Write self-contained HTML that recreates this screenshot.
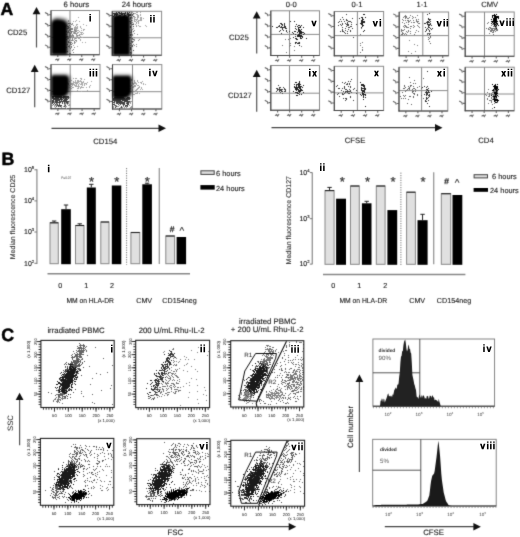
<!DOCTYPE html>
<html><head><meta charset="utf-8"><style>
html,body{margin:0;padding:0;background:#fff;overflow:hidden;}
svg{display:block;font-family:"Liberation Sans", sans-serif;}
</style></head><body>
<svg width="520" height="537" viewBox="0 0 520 537" text-rendering="geometricPrecision">
<defs><filter id="hb" x="-0.3" y="-0.3" width="1.6" height="1.6"><feGaussianBlur stdDeviation="1.5"/></filter><filter id="cb" x="-0.2" y="-0.2" width="1.4" height="1.4"><feGaussianBlur stdDeviation="0.9"/></filter><filter id="s" x="-10" y="-10" width="540" height="557" filterUnits="userSpaceOnUse" primitiveUnits="userSpaceOnUse" color-interpolation-filters="sRGB"><feConvolveMatrix order="3" kernelMatrix="0.0225 0.15 0.0225 0.15 1 0.15 0.0225 0.15 0.0225" edgeMode="duplicate" preserveAlpha="true"/></filter></defs>
<rect width="520" height="537" fill="#fff"/>
<g filter="url(#s)">
<rect x="-10" y="-10" width="540" height="557" fill="#fff"/>
<text x="0.5" y="15.0" font-size="17.6" text-anchor="start" font-weight="bold" fill="#000" stroke="#000" stroke-width="0.5">A</text>
<path d="M45 12.399000000000001 l2.7 1.5 l0.4 2 M48.7 14.699000000000002 h2.3" stroke="#666" stroke-width="1.1" fill="none"/>
<path d="M45 23.227999999999998 l2.7 1.5 l0.4 2 M48.7 25.528 h2.3" stroke="#666" stroke-width="1.1" fill="none"/>
<path d="M45 34.057 l2.7 1.5 l0.4 2 M48.7 36.357 h2.3" stroke="#666" stroke-width="1.1" fill="none"/>
<path d="M45 44.886 l2.7 1.5 l0.4 2 M48.7 47.186 h2.3" stroke="#666" stroke-width="1.1" fill="none"/>
<path d="M55.19 60.1 l1.7 -1 l1 1.4 l1.3 -2 M57.79 54.7 v2.2" stroke="#666" stroke-width="1.1" fill="none"/>
<path d="M67.1695 60.1 l1.7 -1 l1 1.4 l1.3 -2 M69.7695 54.7 v2.2" stroke="#666" stroke-width="1.1" fill="none"/>
<path d="M79.149 60.1 l1.7 -1 l1 1.4 l1.3 -2 M81.749 54.7 v2.2" stroke="#666" stroke-width="1.1" fill="none"/>
<path d="M91.1285 60.1 l1.7 -1 l1 1.4 l1.3 -2 M93.7285 54.7 v2.2" stroke="#666" stroke-width="1.1" fill="none"/>
<rect x="51" y="10.5" width="48.5" height="44.2" fill="none" stroke="#8a8a8a" stroke-width="1"/>
<line x1="70" y1="10.5" x2="70" y2="54.7" stroke="#8a8a8a" stroke-width="1"/>
<line x1="51" y1="37.4" x2="99.5" y2="37.4" stroke="#8a8a8a" stroke-width="1"/>
<line x1="51" y1="10.5" x2="51" y2="55.2" stroke="#444" stroke-width="1.1"/>
<line x1="50.5" y1="54.7" x2="99.5" y2="54.7" stroke="#444" stroke-width="1.1"/>
<path d="M106.3 13.1705 l2.7 1.5 l0.4 2 M110.0 15.470500000000001 h2.3" stroke="#666" stroke-width="1.1" fill="none"/>
<path d="M106.3 23.926 l2.7 1.5 l0.4 2 M110.0 26.226 h2.3" stroke="#666" stroke-width="1.1" fill="none"/>
<path d="M106.3 34.68150000000001 l2.7 1.5 l0.4 2 M110.0 36.981500000000004 h2.3" stroke="#666" stroke-width="1.1" fill="none"/>
<path d="M106.3 45.43700000000001 l2.7 1.5 l0.4 2 M110.0 47.73700000000001 h2.3" stroke="#666" stroke-width="1.1" fill="none"/>
<path d="M116.602 60.6 l1.7 -1 l1 1.4 l1.3 -2 M119.202 55.2 v2.2" stroke="#666" stroke-width="1.1" fill="none"/>
<path d="M128.7791 60.6 l1.7 -1 l1 1.4 l1.3 -2 M131.3791 55.2 v2.2" stroke="#666" stroke-width="1.1" fill="none"/>
<path d="M140.9562 60.6 l1.7 -1 l1 1.4 l1.3 -2 M143.5562 55.2 v2.2" stroke="#666" stroke-width="1.1" fill="none"/>
<path d="M153.1333 60.6 l1.7 -1 l1 1.4 l1.3 -2 M155.73329999999999 55.2 v2.2" stroke="#666" stroke-width="1.1" fill="none"/>
<rect x="112.3" y="11.3" width="49.3" height="43.900000000000006" fill="none" stroke="#8a8a8a" stroke-width="1"/>
<line x1="131.4" y1="11.3" x2="131.4" y2="55.2" stroke="#8a8a8a" stroke-width="1"/>
<line x1="112.3" y1="37.8" x2="161.6" y2="37.8" stroke="#8a8a8a" stroke-width="1"/>
<line x1="112.3" y1="11.3" x2="112.3" y2="55.7" stroke="#444" stroke-width="1.1"/>
<line x1="111.8" y1="55.2" x2="161.6" y2="55.2" stroke="#444" stroke-width="1.1"/>
<path d="M45 66.4085 l2.7 1.5 l0.4 2 M48.7 68.7085 h2.3" stroke="#666" stroke-width="1.1" fill="none"/>
<path d="M45 77.262 l2.7 1.5 l0.4 2 M48.7 79.562 h2.3" stroke="#666" stroke-width="1.1" fill="none"/>
<path d="M45 88.1155 l2.7 1.5 l0.4 2 M48.7 90.4155 h2.3" stroke="#666" stroke-width="1.1" fill="none"/>
<path d="M45 98.96900000000001 l2.7 1.5 l0.4 2 M48.7 101.269 h2.3" stroke="#666" stroke-width="1.1" fill="none"/>
<path d="M55.26 114.2 l1.7 -1 l1 1.4 l1.3 -2 M57.86 108.8 v2.2" stroke="#666" stroke-width="1.1" fill="none"/>
<path d="M67.363 114.2 l1.7 -1 l1 1.4 l1.3 -2 M69.963 108.8 v2.2" stroke="#666" stroke-width="1.1" fill="none"/>
<path d="M79.46600000000001 114.2 l1.7 -1 l1 1.4 l1.3 -2 M82.066 108.8 v2.2" stroke="#666" stroke-width="1.1" fill="none"/>
<path d="M91.569 114.2 l1.7 -1 l1 1.4 l1.3 -2 M94.169 108.8 v2.2" stroke="#666" stroke-width="1.1" fill="none"/>
<rect x="51" y="64.5" width="49" height="44.3" fill="none" stroke="#8a8a8a" stroke-width="1"/>
<line x1="70.2" y1="64.5" x2="70.2" y2="108.8" stroke="#8a8a8a" stroke-width="1"/>
<line x1="51" y1="91.4" x2="100" y2="91.4" stroke="#8a8a8a" stroke-width="1"/>
<line x1="51" y1="64.5" x2="51" y2="109.3" stroke="#444" stroke-width="1.1"/>
<line x1="50.5" y1="108.8" x2="100" y2="108.8" stroke="#444" stroke-width="1.1"/>
<path d="M106.5 66.518 l2.7 1.5 l0.4 2 M110.2 68.818 h2.3" stroke="#666" stroke-width="1.1" fill="none"/>
<path d="M106.5 77.396 l2.7 1.5 l0.4 2 M110.2 79.696 h2.3" stroke="#666" stroke-width="1.1" fill="none"/>
<path d="M106.5 88.274 l2.7 1.5 l0.4 2 M110.2 90.574 h2.3" stroke="#666" stroke-width="1.1" fill="none"/>
<path d="M106.5 99.152 l2.7 1.5 l0.4 2 M110.2 101.452 h2.3" stroke="#666" stroke-width="1.1" fill="none"/>
<path d="M116.802 114.4 l1.7 -1 l1 1.4 l1.3 -2 M119.402 109 v2.2" stroke="#666" stroke-width="1.1" fill="none"/>
<path d="M128.97910000000002 114.4 l1.7 -1 l1 1.4 l1.3 -2 M131.5791 109 v2.2" stroke="#666" stroke-width="1.1" fill="none"/>
<path d="M141.1562 114.4 l1.7 -1 l1 1.4 l1.3 -2 M143.7562 109 v2.2" stroke="#666" stroke-width="1.1" fill="none"/>
<path d="M153.3333 114.4 l1.7 -1 l1 1.4 l1.3 -2 M155.9333 109 v2.2" stroke="#666" stroke-width="1.1" fill="none"/>
<rect x="112.5" y="64.6" width="49.30000000000001" height="44.400000000000006" fill="none" stroke="#8a8a8a" stroke-width="1"/>
<line x1="132.5" y1="64.6" x2="132.5" y2="109" stroke="#8a8a8a" stroke-width="1"/>
<line x1="112.5" y1="91.7" x2="161.8" y2="91.7" stroke="#8a8a8a" stroke-width="1"/>
<line x1="112.5" y1="64.6" x2="112.5" y2="109.5" stroke="#444" stroke-width="1.1"/>
<line x1="112.0" y1="109" x2="161.8" y2="109" stroke="#444" stroke-width="1.1"/>
<path fill="#aaa" d="M76 35h1v1h-1zM75 28h1v1h-1zM74 27h1v1h-1zM76 41h1v1h-1zM74 29h1v1h-1zM78 35h1v1h-1zM77 27h1v1h-1zM76 37h1v1h-1zM69 30h1v1h-1zM66 25h1v1h-1zM67 32h1v1h-1zM70 35h1v1h-1zM77 32h1v1h-1zM63 30h1v1h-1zM76 34h1v1h-1zM68 30h1v1h-1zM71 28h1v1h-1zM81 28h1v1h-1zM76 38h1v1h-1zM73 32h1v1h-1zM77 33h1v1h-1zM70 33h1v1h-1zM83 24h1v1h-1zM80 34h1v1h-1zM73 45h1v1h-1zM80 26h1v1h-1zM76 36h1v1h-1zM75 37h1v1h-1zM83 29h1v1h-1zM77 30h1v1h-1zM77 26h1v1h-1zM80 40h1v1h-1zM69 28h1v1h-1zM79 21h1v1h-1zM74 32h1v1h-1zM82 37h1v1h-1zM74 31h1v1h-1zM75 42h1v1h-1zM78 32h1v1h-1zM75 26h1v1h-1zM76 30h1v1h-1zM74 39h1v1h-1zM68 21h1v1h-1zM74 28h1v1h-1zM77 46h1v1h-1zM72 29h1v1h-1zM77 36h1v1h-1zM75 32h1v1h-1zM80 36h1v1h-1zM71 33h1v1h-1zM76 27h1v1h-1zM77 28h1v1h-1zM81 34h1v1h-1zM76 29h1v1h-1zM75 21h1v1h-1zM65 38h1v1h-1zM67 38h1v1h-1zM72 38h1v1h-1zM77 24h1v1h-1zM82 42h1v1h-1zM76 31h1v1h-1zM75 27h1v1h-1zM81 30h1v1h-1zM76 28h1v1h-1zM73 25h1v1h-1zM82 32h1v1h-1zM81 33h1v1h-1zM73 31h1v1h-1zM73 33h1v1h-1zM84 29h1v1h-1zM71 35h1v1h-1zM75 29h1v1h-1zM67 37h1v1h-1zM76 33h1v1h-1zM72 36h1v1h-1zM70 26h1v1h-1zM83 30h1v1h-1zM74 30h1v1h-1zM79 31h1v1h-1zM75 33h1v1h-1zM78 30h1v1h-1zM69 39h1v1h-1zM81 32h1v1h-1zM79 38h1v1h-1zM80 39h1v1h-1zM74 42h1v1h-1zM70 38h1v1h-1zM78 38h1v1h-1zM85 42h1v1h-1zM70 23h1v1h-1zM80 27h1v1h-1zM68 20h1v1h-1zM72 24h1v1h-1zM68 36h1v1h-1zM71 29h1v1h-1zM86 25h1v1h-1zM80 32h1v1h-1zM76 24h1v1h-1zM74 37h1v1h-1zM75 40h1v1h-1zM76 20h1v1h-1zM73 21h1v1h-1zM60 30h1v1h-1zM83 33h1v1h-1zM70 27h1v1h-1zM82 34h1v1h-1zM79 34h1v1h-1zM71 36h1v1h-1zM73 40h1v1h-1zM70 32h1v1h-1zM76 25h1v1h-1zM74 38h1v1h-1zM78 17h1v1h-1z"/>
<path fill="#888" d="M71 28h1v1h-1zM70 35h1v1h-1zM75 38h1v1h-1zM71 47h1v1h-1zM69 33h1v1h-1zM66 47h1v1h-1zM74 42h1v1h-1zM73 37h1v1h-1zM72 34h1v1h-1zM70 36h1v1h-1zM76 40h1v1h-1zM71 32h1v1h-1zM69 47h1v1h-1zM73 36h1v1h-1zM70 28h1v1h-1zM71 42h1v1h-1zM70 34h1v1h-1zM70 37h1v1h-1zM66 34h1v1h-1zM68 42h1v1h-1zM69 40h1v1h-1zM76 34h1v1h-1zM69 37h1v1h-1zM71 29h1v1h-1zM72 50h1v1h-1zM68 38h1v1h-1zM67 28h1v1h-1zM75 30h1v1h-1zM74 47h1v1h-1zM72 40h1v1h-1zM77 35h1v1h-1zM69 27h1v1h-1zM71 46h1v1h-1zM74 29h1v1h-1zM68 32h1v1h-1zM72 35h1v1h-1zM72 38h1v1h-1zM73 49h1v1h-1zM66 39h1v1h-1zM65 26h1v1h-1zM74 41h1v1h-1zM71 24h1v1h-1zM70 31h1v1h-1zM73 52h1v1h-1zM72 31h1v1h-1zM67 36h1v1h-1zM74 43h1v1h-1zM74 33h1v1h-1zM73 35h1v1h-1zM67 26h1v1h-1zM72 43h1v1h-1zM66 31h1v1h-1zM72 39h1v1h-1zM70 43h1v1h-1zM72 28h1v1h-1zM72 23h1v1h-1zM75 40h1v1h-1zM75 33h1v1h-1zM79 35h1v1h-1zM76 31h1v1h-1zM67 44h1v1h-1zM72 29h1v1h-1zM69 34h1v1h-1zM68 27h1v1h-1zM66 36h1v1h-1zM69 29h1v1h-1zM74 32h1v1h-1zM75 31h1v1h-1zM71 40h1v1h-1zM71 36h1v1h-1zM74 30h1v1h-1z"/>
<path fill="#777" d="M70 23h1v1h-1zM69 45h1v1h-1zM70 48h1v1h-1zM67 36h1v1h-1zM69 23h1v1h-1zM70 44h1v1h-1zM69 29h1v1h-1zM69 42h1v1h-1zM70 33h1v1h-1zM70 42h1v1h-1zM69 30h1v1h-1zM69 37h1v1h-1zM68 38h1v1h-1zM68 42h1v1h-1zM68 28h1v1h-1zM69 53h1v1h-1zM71 31h1v1h-1zM68 31h1v1h-1zM68 23h1v1h-1zM69 35h1v1h-1zM71 46h1v1h-1zM71 44h1v1h-1zM69 27h1v1h-1zM68 26h1v1h-1zM71 32h1v1h-1zM69 46h1v1h-1zM70 37h1v1h-1zM67 51h1v1h-1zM70 43h1v1h-1zM68 41h1v1h-1zM68 46h1v1h-1zM69 32h1v1h-1zM70 29h1v1h-1zM70 35h1v1h-1zM70 26h1v1h-1zM69 36h1v1h-1zM69 25h1v1h-1zM68 27h1v1h-1zM70 30h1v1h-1zM70 53h1v1h-1z"/>
<path d="M51.5 54.4 V22 Q52 17.3 57 17.1 Q68 17.3 69.6 23 V54.4 Z" fill="#000" fill-opacity="0.45" filter="url(#hb)"/>
<path d="M51.5 54.4 V24 Q51.8 19.8 57 19.5 Q65.5 19.7 67.2 24.5 V54.4 Z" fill="#000" filter="url(#cb)"/>
<path fill="#aaa" d="M134 16h1v1h-1zM135 13h1v1h-1zM136 19h1v1h-1zM137 19h1v1h-1zM136 20h1v1h-1zM132 17h1v1h-1zM138 20h1v1h-1zM136 12h1v1h-1zM138 23h1v1h-1zM140 19h1v1h-1zM127 22h1v1h-1zM137 12h1v1h-1zM129 15h1v1h-1zM141 17h1v1h-1zM136 25h1v1h-1zM143 18h1v1h-1zM134 13h1v1h-1zM132 20h1v1h-1zM137 18h1v1h-1zM140 15h1v1h-1zM135 21h1v1h-1zM138 22h1v1h-1zM137 17h1v1h-1zM137 14h1v1h-1zM127 20h1v1h-1zM135 19h1v1h-1zM127 17h1v1h-1zM132 15h1v1h-1zM124 17h1v1h-1zM139 20h1v1h-1zM132 18h1v1h-1zM134 20h1v1h-1zM138 25h1v1h-1zM141 19h1v1h-1zM137 21h1v1h-1zM140 26h1v1h-1zM134 18h1v1h-1zM136 23h1v1h-1zM135 24h1v1h-1zM130 17h1v1h-1zM134 21h1v1h-1zM140 12h1v1h-1zM130 19h1v1h-1zM132 12h1v1h-1zM140 20h1v1h-1zM137 16h1v1h-1zM140 17h1v1h-1zM140 14h1v1h-1zM131 19h1v1h-1zM131 21h1v1h-1zM136 14h1v1h-1zM135 17h1v1h-1zM133 23h1v1h-1zM146 26h1v1h-1zM130 18h1v1h-1zM137 15h1v1h-1zM127 12h1v1h-1zM138 15h1v1h-1zM134 19h1v1h-1zM138 17h1v1h-1zM133 14h1v1h-1zM141 18h1v1h-1zM131 17h1v1h-1zM127 14h1v1h-1zM133 28h1v1h-1zM140 18h1v1h-1zM139 26h1v1h-1zM134 17h1v1h-1zM141 20h1v1h-1zM138 16h1v1h-1zM145 25h1v1h-1zM138 21h1v1h-1zM125 21h1v1h-1zM127 19h1v1h-1zM123 23h1v1h-1zM136 22h1v1h-1z"/>
<path fill="#999" d="M138 40h1v1h-1zM127 32h1v1h-1zM128 35h1v1h-1zM132 22h1v1h-1zM133 26h1v1h-1zM133 39h1v1h-1zM131 39h1v1h-1zM130 34h1v1h-1zM127 40h1v1h-1zM136 46h1v1h-1zM130 53h1v1h-1zM132 39h1v1h-1zM131 41h1v1h-1zM129 37h1v1h-1zM139 39h1v1h-1zM131 45h1v1h-1zM134 30h1v1h-1zM131 48h1v1h-1zM133 41h1v1h-1zM137 34h1v1h-1zM132 35h1v1h-1zM136 22h1v1h-1zM130 35h1v1h-1zM134 45h1v1h-1zM136 26h1v1h-1zM134 37h1v1h-1zM130 45h1v1h-1zM129 21h1v1h-1zM131 27h1v1h-1zM130 43h1v1h-1zM133 54h1v1h-1zM131 26h1v1h-1zM130 32h1v1h-1zM128 44h1v1h-1zM130 22h1v1h-1zM134 39h1v1h-1zM134 40h1v1h-1zM136 44h1v1h-1zM133 44h1v1h-1zM128 39h1v1h-1zM131 42h1v1h-1zM132 29h1v1h-1zM127 37h1v1h-1zM132 34h1v1h-1zM134 33h1v1h-1z"/>
<path fill="#666" d="M130 27h1v1h-1zM131 17h1v1h-1zM132 46h1v1h-1zM132 41h1v1h-1zM130 35h1v1h-1zM132 38h1v1h-1zM130 17h1v1h-1zM133 24h1v1h-1zM130 37h1v1h-1zM130 52h1v1h-1zM130 47h1v1h-1zM133 39h1v1h-1zM131 34h1v1h-1zM132 14h1v1h-1zM133 50h1v1h-1zM133 16h1v1h-1zM130 18h1v1h-1zM131 41h1v1h-1zM132 45h1v1h-1zM131 32h1v1h-1zM131 20h1v1h-1zM130 14h1v1h-1zM130 48h1v1h-1zM131 53h1v1h-1zM130 23h1v1h-1zM130 49h1v1h-1zM131 30h1v1h-1zM130 26h1v1h-1zM130 34h1v1h-1zM133 13h1v1h-1zM131 31h1v1h-1zM130 21h1v1h-1zM132 42h1v1h-1zM133 26h1v1h-1zM132 24h1v1h-1zM130 15h1v1h-1zM130 54h1v1h-1zM132 15h1v1h-1zM133 31h1v1h-1zM131 52h1v1h-1z"/>
<path fill="#444" d="M129 14h1v1h-1zM115 13h1v1h-1zM116 14h1v1h-1zM120 13h1v1h-1zM127 13h1v1h-1zM124 13h1v1h-1zM125 15h1v1h-1zM123 16h1v1h-1zM117 13h1v1h-1zM127 12h1v1h-1zM113 13h1v1h-1zM125 13h1v1h-1zM116 13h1v1h-1zM121 14h1v1h-1zM130 14h1v1h-1zM122 14h1v1h-1zM114 13h1v1h-1zM120 15h1v1h-1zM114 14h1v1h-1zM117 14h1v1h-1zM113 16h1v1h-1zM122 13h1v1h-1zM119 15h1v1h-1zM118 16h1v1h-1zM124 14h1v1h-1zM128 16h1v1h-1zM129 15h1v1h-1zM121 12h1v1h-1zM121 13h1v1h-1zM118 12h1v1h-1zM125 12h1v1h-1zM119 13h1v1h-1zM123 13h1v1h-1zM129 12h1v1h-1zM127 14h1v1h-1zM119 12h1v1h-1zM114 15h1v1h-1zM115 14h1v1h-1zM124 15h1v1h-1zM130 15h1v1h-1zM128 14h1v1h-1zM116 12h1v1h-1zM116 15h1v1h-1zM128 15h1v1h-1zM128 13h1v1h-1zM124 16h1v1h-1z"/>
<path d="M112.8 54.9 V12 H131.8 V54.9 Z" fill="#000" fill-opacity="0.4" filter="url(#hb)"/>
<path d="M112.8 54.9 V17.5 Q113 15 117 14.9 H126.5 Q129.6 15.1 129.8 18.5 V54.9 Z" fill="#000" filter="url(#cb)"/>
<path fill="#aaa" d="M67 82h1v1h-1zM81 82h1v1h-1zM73 82h1v1h-1zM70 83h1v1h-1zM89 86h1v1h-1zM71 80h1v1h-1zM75 86h1v1h-1zM73 81h1v1h-1zM81 86h1v1h-1zM75 80h1v1h-1zM69 81h1v1h-1zM66 85h1v1h-1zM74 84h1v1h-1zM86 87h1v1h-1zM71 86h1v1h-1zM83 81h1v1h-1zM72 83h1v1h-1zM69 87h1v1h-1zM65 80h1v1h-1zM76 82h1v1h-1zM78 84h1v1h-1zM76 86h1v1h-1zM66 83h1v1h-1zM73 83h1v1h-1zM78 80h1v1h-1zM74 85h1v1h-1zM79 81h1v1h-1zM87 90h1v1h-1zM70 84h1v1h-1zM90 85h1v1h-1zM78 82h1v1h-1zM74 82h1v1h-1zM75 82h1v1h-1zM71 83h1v1h-1zM82 84h1v1h-1zM80 84h1v1h-1zM77 83h1v1h-1zM75 85h1v1h-1zM72 87h1v1h-1zM77 81h1v1h-1zM75 81h1v1h-1zM78 81h1v1h-1zM66 81h1v1h-1zM67 83h1v1h-1zM82 85h1v1h-1zM70 81h1v1h-1zM86 84h1v1h-1zM77 86h1v1h-1zM89 87h1v1h-1zM80 81h1v1h-1zM77 90h1v1h-1zM76 84h1v1h-1zM82 82h1v1h-1zM73 78h1v1h-1zM72 85h1v1h-1zM77 80h1v1h-1zM75 83h1v1h-1zM76 78h1v1h-1zM71 88h1v1h-1zM66 82h1v1h-1zM68 83h1v1h-1zM78 85h1v1h-1zM82 87h1v1h-1zM83 87h1v1h-1zM81 79h1v1h-1zM75 78h1v1h-1zM77 82h1v1h-1zM73 84h1v1h-1zM76 85h1v1h-1zM86 83h1v1h-1zM70 80h1v1h-1zM70 79h1v1h-1zM84 84h1v1h-1zM69 85h1v1h-1zM83 82h1v1h-1zM80 78h1v1h-1zM84 85h1v1h-1zM78 86h1v1h-1zM65 81h1v1h-1zM78 87h1v1h-1zM87 82h1v1h-1zM71 84h1v1h-1zM72 84h1v1h-1zM81 81h1v1h-1zM79 83h1v1h-1zM91 81h1v1h-1zM84 83h1v1h-1zM81 87h1v1h-1zM80 87h1v1h-1zM79 86h1v1h-1zM85 83h1v1h-1zM70 88h1v1h-1zM73 87h1v1h-1zM80 88h1v1h-1zM82 83h1v1h-1zM76 83h1v1h-1zM77 88h1v1h-1zM68 84h1v1h-1zM81 83h1v1h-1zM81 78h1v1h-1zM64 81h1v1h-1zM78 88h1v1h-1zM70 87h1v1h-1zM81 91h1v1h-1zM80 80h1v1h-1zM84 79h1v1h-1zM81 84h1v1h-1z"/>
<path fill="#999" d="M65 103h1v1h-1zM54 99h1v1h-1zM57 97h1v1h-1zM66 108h1v1h-1zM69 101h1v1h-1zM62 99h1v1h-1zM67 98h1v1h-1zM69 104h1v1h-1zM65 102h1v1h-1zM63 97h1v1h-1zM56 105h1v1h-1zM58 100h1v1h-1zM63 106h1v1h-1zM68 103h1v1h-1zM57 103h1v1h-1zM59 102h1v1h-1zM52 105h1v1h-1zM60 106h1v1h-1zM66 98h1v1h-1zM56 103h1v1h-1zM63 100h1v1h-1zM63 98h1v1h-1zM60 99h1v1h-1zM55 100h1v1h-1zM65 106h1v1h-1zM55 107h1v1h-1zM54 105h1v1h-1zM60 101h1v1h-1zM56 101h1v1h-1zM66 102h1v1h-1zM66 100h1v1h-1zM68 102h1v1h-1zM66 106h1v1h-1zM66 103h1v1h-1zM64 105h1v1h-1zM65 104h1v1h-1zM57 99h1v1h-1zM63 101h1v1h-1zM61 100h1v1h-1zM58 106h1v1h-1zM55 105h1v1h-1zM60 97h1v1h-1zM59 106h1v1h-1zM64 104h1v1h-1zM64 101h1v1h-1zM56 104h1v1h-1zM61 107h1v1h-1zM54 101h1v1h-1zM59 99h1v1h-1zM68 97h1v1h-1zM53 99h1v1h-1zM65 107h1v1h-1zM67 104h1v1h-1zM59 101h1v1h-1zM61 105h1v1h-1zM55 98h1v1h-1zM57 102h1v1h-1zM57 104h1v1h-1zM69 105h1v1h-1zM58 102h1v1h-1zM56 99h1v1h-1zM54 102h1v1h-1zM68 105h1v1h-1zM67 103h1v1h-1zM59 100h1v1h-1zM68 101h1v1h-1zM61 106h1v1h-1zM69 97h1v1h-1zM64 98h1v1h-1zM54 106h1v1h-1z"/>
<path fill="#444" d="M61 99h1v1h-1zM59 103h1v1h-1zM56 97h1v1h-1zM61 100h1v1h-1zM56 98h1v1h-1zM66 100h1v1h-1zM65 98h1v1h-1zM57 100h1v1h-1zM52 100h1v1h-1zM57 105h1v1h-1zM63 100h1v1h-1zM66 99h1v1h-1zM65 97h1v1h-1zM66 102h1v1h-1zM60 101h1v1h-1zM65 101h1v1h-1zM59 97h1v1h-1zM60 106h1v1h-1zM57 99h1v1h-1zM64 101h1v1h-1zM65 100h1v1h-1zM54 99h1v1h-1zM55 96h1v1h-1zM58 102h1v1h-1zM59 104h1v1h-1zM67 99h1v1h-1zM67 97h1v1h-1zM67 96h1v1h-1zM64 102h1v1h-1zM63 98h1v1h-1zM56 100h1v1h-1zM58 99h1v1h-1zM52 101h1v1h-1zM65 99h1v1h-1zM53 104h1v1h-1zM57 97h1v1h-1zM57 96h1v1h-1zM64 106h1v1h-1zM52 97h1v1h-1zM56 99h1v1h-1zM66 101h1v1h-1zM62 101h1v1h-1zM61 101h1v1h-1zM66 98h1v1h-1zM64 96h1v1h-1zM60 96h1v1h-1zM55 100h1v1h-1zM55 98h1v1h-1zM58 105h1v1h-1zM53 97h1v1h-1zM57 101h1v1h-1zM58 98h1v1h-1zM62 102h1v1h-1zM55 97h1v1h-1zM59 100h1v1h-1zM64 103h1v1h-1zM66 97h1v1h-1zM64 97h1v1h-1zM55 101h1v1h-1zM63 96h1v1h-1zM56 101h1v1h-1zM63 97h1v1h-1zM64 100h1v1h-1zM54 98h1v1h-1zM62 103h1v1h-1zM65 96h1v1h-1zM53 100h1v1h-1zM59 105h1v1h-1zM62 97h1v1h-1zM61 105h1v1h-1zM64 99h1v1h-1zM61 98h1v1h-1zM60 97h1v1h-1zM56 106h1v1h-1zM59 102h1v1h-1zM53 102h1v1h-1zM52 102h1v1h-1zM68 98h1v1h-1zM61 97h1v1h-1zM58 96h1v1h-1zM53 96h1v1h-1zM66 96h1v1h-1zM67 101h1v1h-1zM59 96h1v1h-1zM58 97h1v1h-1zM52 96h1v1h-1zM60 105h1v1h-1zM63 101h1v1h-1zM65 105h1v1h-1zM56 96h1v1h-1zM68 97h1v1h-1zM56 102h1v1h-1zM62 99h1v1h-1zM55 104h1v1h-1zM61 96h1v1h-1zM60 99h1v1h-1zM59 99h1v1h-1zM60 98h1v1h-1zM60 102h1v1h-1zM57 98h1v1h-1zM68 96h1v1h-1zM59 101h1v1h-1zM67 102h1v1h-1zM53 99h1v1h-1zM56 103h1v1h-1zM54 96h1v1h-1zM53 98h1v1h-1zM52 98h1v1h-1zM57 104h1v1h-1zM55 102h1v1h-1zM53 101h1v1h-1zM58 108h1v1h-1zM58 100h1v1h-1zM67 103h1v1h-1zM55 99h1v1h-1zM68 101h1v1h-1zM52 103h1v1h-1zM54 103h1v1h-1zM57 102h1v1h-1zM58 106h1v1h-1z"/>
<path d="M51.5 73.8 H66 Q71 74.2 71 79 V89 Q70.5 98.6 62 99.6 Q55 100.2 51.5 99 Z" fill="#000" fill-opacity="0.4" filter="url(#hb)"/>
<path d="M51.5 76.8 Q51.7 75.5 54.5 75.5 H65 Q68.8 75.8 68.8 80 V88.5 Q68.5 95.8 62 96.8 Q55 97.6 51.5 96.3 Z" fill="#000" filter="url(#cb)"/>
<path fill="#aaa" d="M138 87h1v1h-1zM133 94h1v1h-1zM136 83h1v1h-1zM135 82h1v1h-1zM132 88h1v1h-1zM133 84h1v1h-1zM142 89h1v1h-1zM138 88h1v1h-1zM137 92h1v1h-1zM135 93h1v1h-1zM131 85h1v1h-1zM129 85h1v1h-1zM132 86h1v1h-1zM134 83h1v1h-1zM130 86h1v1h-1zM128 86h1v1h-1zM135 83h1v1h-1zM131 80h1v1h-1zM142 81h1v1h-1zM141 88h1v1h-1zM134 81h1v1h-1zM139 93h1v1h-1zM139 87h1v1h-1zM143 84h1v1h-1zM137 81h1v1h-1zM143 83h1v1h-1zM126 85h1v1h-1zM134 94h1v1h-1zM134 86h1v1h-1zM135 90h1v1h-1zM137 85h1v1h-1zM135 86h1v1h-1zM131 91h1v1h-1zM129 91h1v1h-1zM139 86h1v1h-1zM132 85h1v1h-1zM137 89h1v1h-1zM136 90h1v1h-1zM133 87h1v1h-1zM129 89h1v1h-1zM136 84h1v1h-1zM140 89h1v1h-1zM124 86h1v1h-1zM129 90h1v1h-1zM145 84h1v1h-1zM135 85h1v1h-1zM136 89h1v1h-1zM140 82h1v1h-1zM141 82h1v1h-1zM136 91h1v1h-1zM138 82h1v1h-1zM132 84h1v1h-1zM135 91h1v1h-1zM130 88h1v1h-1zM137 88h1v1h-1zM137 93h1v1h-1zM127 91h1v1h-1zM134 85h1v1h-1zM131 79h1v1h-1zM133 83h1v1h-1zM137 80h1v1h-1zM141 87h1v1h-1zM132 81h1v1h-1zM133 86h1v1h-1zM134 80h1v1h-1zM134 82h1v1h-1zM136 93h1v1h-1zM138 85h1v1h-1zM129 80h1v1h-1zM128 89h1v1h-1zM141 83h1v1h-1z"/>
<path fill="#999" d="M126 108h1v1h-1zM126 107h1v1h-1zM122 104h1v1h-1zM130 101h1v1h-1zM129 105h1v1h-1zM123 100h1v1h-1zM125 105h1v1h-1zM118 99h1v1h-1zM130 98h1v1h-1zM125 106h1v1h-1zM129 102h1v1h-1zM118 106h1v1h-1zM131 107h1v1h-1zM115 107h1v1h-1zM123 105h1v1h-1zM116 105h1v1h-1zM114 108h1v1h-1zM120 98h1v1h-1zM116 101h1v1h-1zM128 102h1v1h-1zM114 101h1v1h-1zM119 100h1v1h-1zM128 108h1v1h-1zM125 98h1v1h-1zM126 100h1v1h-1zM131 106h1v1h-1zM113 100h1v1h-1zM125 101h1v1h-1zM126 106h1v1h-1zM126 103h1v1h-1zM114 99h1v1h-1zM115 101h1v1h-1zM124 107h1v1h-1zM113 106h1v1h-1zM123 102h1v1h-1zM115 106h1v1h-1zM126 101h1v1h-1zM119 99h1v1h-1zM128 98h1v1h-1zM122 107h1v1h-1zM115 108h1v1h-1zM127 106h1v1h-1zM123 106h1v1h-1zM117 100h1v1h-1zM130 102h1v1h-1zM125 108h1v1h-1zM128 103h1v1h-1zM120 107h1v1h-1zM131 101h1v1h-1zM114 105h1v1h-1zM126 102h1v1h-1zM118 103h1v1h-1zM121 103h1v1h-1zM124 101h1v1h-1zM114 98h1v1h-1zM117 106h1v1h-1zM122 101h1v1h-1zM119 105h1v1h-1zM130 103h1v1h-1zM122 100h1v1h-1zM118 108h1v1h-1zM114 103h1v1h-1zM121 101h1v1h-1zM116 108h1v1h-1zM113 107h1v1h-1zM130 107h1v1h-1zM124 102h1v1h-1zM120 101h1v1h-1zM127 108h1v1h-1zM123 108h1v1h-1zM116 102h1v1h-1z"/>
<path fill="#444" d="M127 98h1v1h-1zM119 103h1v1h-1zM120 97h1v1h-1zM122 98h1v1h-1zM117 98h1v1h-1zM117 101h1v1h-1zM117 102h1v1h-1zM117 103h1v1h-1zM121 98h1v1h-1zM115 99h1v1h-1zM125 106h1v1h-1zM116 99h1v1h-1zM120 100h1v1h-1zM123 100h1v1h-1zM115 100h1v1h-1zM120 103h1v1h-1zM127 100h1v1h-1zM126 99h1v1h-1zM115 105h1v1h-1zM126 98h1v1h-1zM122 102h1v1h-1zM124 101h1v1h-1zM116 103h1v1h-1zM121 103h1v1h-1zM124 103h1v1h-1zM116 97h1v1h-1zM126 100h1v1h-1zM122 103h1v1h-1zM124 99h1v1h-1zM127 99h1v1h-1zM119 98h1v1h-1zM128 101h1v1h-1zM119 102h1v1h-1zM121 99h1v1h-1zM116 106h1v1h-1zM125 99h1v1h-1zM127 97h1v1h-1zM116 101h1v1h-1zM125 101h1v1h-1zM114 104h1v1h-1zM128 99h1v1h-1zM121 102h1v1h-1zM117 100h1v1h-1zM113 99h1v1h-1zM118 100h1v1h-1zM116 100h1v1h-1zM119 101h1v1h-1zM114 99h1v1h-1zM123 103h1v1h-1zM128 103h1v1h-1zM123 97h1v1h-1zM120 101h1v1h-1zM121 107h1v1h-1zM113 102h1v1h-1zM119 97h1v1h-1zM118 102h1v1h-1zM123 98h1v1h-1zM126 105h1v1h-1zM124 100h1v1h-1zM117 99h1v1h-1zM127 101h1v1h-1zM128 98h1v1h-1zM113 100h1v1h-1zM123 105h1v1h-1zM120 102h1v1h-1zM124 102h1v1h-1zM129 98h1v1h-1zM123 99h1v1h-1zM125 105h1v1h-1zM113 104h1v1h-1zM124 98h1v1h-1zM123 104h1v1h-1zM127 102h1v1h-1zM120 104h1v1h-1zM122 97h1v1h-1zM116 102h1v1h-1zM114 98h1v1h-1zM127 106h1v1h-1zM120 99h1v1h-1zM115 98h1v1h-1zM128 102h1v1h-1zM117 97h1v1h-1zM127 103h1v1h-1zM125 100h1v1h-1zM129 97h1v1h-1zM116 98h1v1h-1zM118 97h1v1h-1zM121 97h1v1h-1zM122 100h1v1h-1zM126 101h1v1h-1zM122 99h1v1h-1zM127 104h1v1h-1zM115 97h1v1h-1zM124 104h1v1h-1zM119 100h1v1h-1zM119 99h1v1h-1zM114 100h1v1h-1zM114 101h1v1h-1zM128 104h1v1h-1zM114 102h1v1h-1zM119 108h1v1h-1zM128 97h1v1h-1zM114 97h1v1h-1zM121 101h1v1h-1zM126 103h1v1h-1zM129 101h1v1h-1zM118 98h1v1h-1zM121 106h1v1h-1zM120 98h1v1h-1zM113 98h1v1h-1zM118 104h1v1h-1zM118 101h1v1h-1zM118 99h1v1h-1zM115 107h1v1h-1zM123 102h1v1h-1zM127 105h1v1h-1zM129 99h1v1h-1z"/>
<path d="M113 74.3 H128.5 Q133.3 74.6 133.3 79.5 V91 Q132.8 99.8 123 100.6 Q116 101 113 99.5 Z" fill="#000" fill-opacity="0.4" filter="url(#hb)"/>
<path d="M113 77 Q113.2 76 115.5 76 H128 Q131.1 76.3 131.1 80 V91 Q130.6 97.6 123 98.3 Q116 98.8 113 97.2 Z" fill="#000" filter="url(#cb)"/>
<text x="63.5" y="7.4" font-size="7.7" text-anchor="start" font-weight="normal" fill="#222" stroke="#222" stroke-width="0.12">6 hours</text>
<text x="121.8" y="7.4" font-size="7.7" text-anchor="start" font-weight="normal" fill="#222" stroke="#222" stroke-width="0.12">24 hours</text>
<text x="7.5" y="34.6" font-size="7.7" text-anchor="start" font-weight="normal" fill="#222" stroke="#222" stroke-width="0.12">CD25</text>
<text x="6.3" y="93.2" font-size="7.7" text-anchor="start" font-weight="normal" fill="#222" stroke="#222" stroke-width="0.12">CD127</text>
<line x1="36.5" y1="13.8" x2="36.5" y2="47.5" stroke="#555" stroke-width="1.2"/>
<path d="M32.6 14.3 L36.5 7 L40.4 14.3Z" fill="#111"/>
<line x1="34.7" y1="71.5" x2="34.7" y2="107.3" stroke="#555" stroke-width="1.2"/>
<path d="M30.800000000000004 72.0 L34.7 64.7 L38.6 72.0Z" fill="#111"/>
<line x1="51.5" y1="128.3" x2="159.0" y2="128.3" stroke="#444" stroke-width="1.2"/>
<path d="M158.5 124.50000000000001 L166 128.3 L158.5 132.10000000000002Z" fill="#111"/>
<text x="93.3" y="144.2" font-size="7.7" text-anchor="start" font-weight="normal" fill="#222" stroke="#222" stroke-width="0.12">CD154</text>
<path d="M264.8 12.746500000000001 l2.7 1.5 l0.4 2 M268.5 15.046500000000002 h2.3" stroke="#666" stroke-width="1.1" fill="none"/>
<path d="M264.8 23.698 l2.7 1.5 l0.4 2 M268.5 25.998 h2.3" stroke="#666" stroke-width="1.1" fill="none"/>
<path d="M264.8 34.6495 l2.7 1.5 l0.4 2 M268.5 36.9495 h2.3" stroke="#666" stroke-width="1.1" fill="none"/>
<path d="M264.8 45.601 l2.7 1.5 l0.4 2 M268.5 47.900999999999996 h2.3" stroke="#666" stroke-width="1.1" fill="none"/>
<path d="M275.018 60.9 l1.7 -1 l1 1.4 l1.3 -2 M277.618 55.5 v2.2" stroke="#666" stroke-width="1.1" fill="none"/>
<path d="M287.0469 60.9 l1.7 -1 l1 1.4 l1.3 -2 M289.6469 55.5 v2.2" stroke="#666" stroke-width="1.1" fill="none"/>
<path d="M299.07579999999996 60.9 l1.7 -1 l1 1.4 l1.3 -2 M301.6758 55.5 v2.2" stroke="#666" stroke-width="1.1" fill="none"/>
<path d="M311.1047 60.9 l1.7 -1 l1 1.4 l1.3 -2 M313.7047 55.5 v2.2" stroke="#666" stroke-width="1.1" fill="none"/>
<rect x="270.8" y="10.8" width="48.69999999999999" height="44.7" fill="none" stroke="#8a8a8a" stroke-width="1"/>
<line x1="289.5" y1="10.8" x2="289.5" y2="55.5" stroke="#8a8a8a" stroke-width="1"/>
<line x1="270.8" y1="34.4" x2="319.5" y2="34.4" stroke="#8a8a8a" stroke-width="1"/>
<line x1="270.8" y1="10.8" x2="270.8" y2="56.0" stroke="#444" stroke-width="1.1"/>
<line x1="270.3" y1="55.5" x2="319.5" y2="55.5" stroke="#444" stroke-width="1.1"/>
<path d="M328.3 13.4085 l2.7 1.5 l0.4 2 M332.0 15.7085 h2.3" stroke="#666" stroke-width="1.1" fill="none"/>
<path d="M328.3 24.261999999999997 l2.7 1.5 l0.4 2 M332.0 26.561999999999998 h2.3" stroke="#666" stroke-width="1.1" fill="none"/>
<path d="M328.3 35.1155 l2.7 1.5 l0.4 2 M332.0 37.415499999999994 h2.3" stroke="#666" stroke-width="1.1" fill="none"/>
<path d="M328.3 45.969 l2.7 1.5 l0.4 2 M332.0 48.269 h2.3" stroke="#666" stroke-width="1.1" fill="none"/>
<path d="M338.602 61.199999999999996 l1.7 -1 l1 1.4 l1.3 -2 M341.202 55.8 v2.2" stroke="#666" stroke-width="1.1" fill="none"/>
<path d="M350.77909999999997 61.199999999999996 l1.7 -1 l1 1.4 l1.3 -2 M353.3791 55.8 v2.2" stroke="#666" stroke-width="1.1" fill="none"/>
<path d="M362.95619999999997 61.199999999999996 l1.7 -1 l1 1.4 l1.3 -2 M365.5562 55.8 v2.2" stroke="#666" stroke-width="1.1" fill="none"/>
<path d="M375.1333 61.199999999999996 l1.7 -1 l1 1.4 l1.3 -2 M377.73330000000004 55.8 v2.2" stroke="#666" stroke-width="1.1" fill="none"/>
<rect x="334.3" y="11.5" width="49.30000000000001" height="44.3" fill="none" stroke="#8a8a8a" stroke-width="1"/>
<line x1="357.4" y1="11.5" x2="357.4" y2="55.8" stroke="#8a8a8a" stroke-width="1"/>
<line x1="334.3" y1="35.6" x2="383.6" y2="35.6" stroke="#8a8a8a" stroke-width="1"/>
<line x1="334.3" y1="11.5" x2="334.3" y2="56.3" stroke="#444" stroke-width="1.1"/>
<line x1="333.8" y1="55.8" x2="383.6" y2="55.8" stroke="#444" stroke-width="1.1"/>
<path d="M393.2 13.861 l2.7 1.5 l0.4 2 M396.9 16.161 h2.3" stroke="#666" stroke-width="1.1" fill="none"/>
<path d="M393.2 24.591999999999995 l2.7 1.5 l0.4 2 M396.9 26.891999999999996 h2.3" stroke="#666" stroke-width="1.1" fill="none"/>
<path d="M393.2 35.323 l2.7 1.5 l0.4 2 M396.9 37.623 h2.3" stroke="#666" stroke-width="1.1" fill="none"/>
<path d="M393.2 46.054 l2.7 1.5 l0.4 2 M396.9 48.354 h2.3" stroke="#666" stroke-width="1.1" fill="none"/>
<path d="M403.51599999999996 61.199999999999996 l1.7 -1 l1 1.4 l1.3 -2 M406.116 55.8 v2.2" stroke="#666" stroke-width="1.1" fill="none"/>
<path d="M415.71779999999995 61.199999999999996 l1.7 -1 l1 1.4 l1.3 -2 M418.3178 55.8 v2.2" stroke="#666" stroke-width="1.1" fill="none"/>
<path d="M427.9196 61.199999999999996 l1.7 -1 l1 1.4 l1.3 -2 M430.5196 55.8 v2.2" stroke="#666" stroke-width="1.1" fill="none"/>
<path d="M440.1214 61.199999999999996 l1.7 -1 l1 1.4 l1.3 -2 M442.7214 55.8 v2.2" stroke="#666" stroke-width="1.1" fill="none"/>
<rect x="399.2" y="12" width="49.400000000000034" height="43.8" fill="none" stroke="#8a8a8a" stroke-width="1"/>
<line x1="422.8" y1="12" x2="422.8" y2="55.8" stroke="#8a8a8a" stroke-width="1"/>
<line x1="399.2" y1="35.6" x2="448.6" y2="35.6" stroke="#8a8a8a" stroke-width="1"/>
<line x1="399.2" y1="12" x2="399.2" y2="56.3" stroke="#444" stroke-width="1.1"/>
<line x1="398.7" y1="55.8" x2="448.6" y2="55.8" stroke="#444" stroke-width="1.1"/>
<path d="M459.2 13.9085 l2.7 1.5 l0.4 2 M462.9 16.2085 h2.3" stroke="#666" stroke-width="1.1" fill="none"/>
<path d="M459.2 24.761999999999997 l2.7 1.5 l0.4 2 M462.9 27.061999999999998 h2.3" stroke="#666" stroke-width="1.1" fill="none"/>
<path d="M459.2 35.6155 l2.7 1.5 l0.4 2 M462.9 37.915499999999994 h2.3" stroke="#666" stroke-width="1.1" fill="none"/>
<path d="M459.2 46.469 l2.7 1.5 l0.4 2 M462.9 48.769 h2.3" stroke="#666" stroke-width="1.1" fill="none"/>
<path d="M469.46 61.699999999999996 l1.7 -1 l1 1.4 l1.3 -2 M472.06 56.3 v2.2" stroke="#666" stroke-width="1.1" fill="none"/>
<path d="M481.563 61.699999999999996 l1.7 -1 l1 1.4 l1.3 -2 M484.163 56.3 v2.2" stroke="#666" stroke-width="1.1" fill="none"/>
<path d="M493.666 61.699999999999996 l1.7 -1 l1 1.4 l1.3 -2 M496.266 56.3 v2.2" stroke="#666" stroke-width="1.1" fill="none"/>
<path d="M505.769 61.699999999999996 l1.7 -1 l1 1.4 l1.3 -2 M508.369 56.3 v2.2" stroke="#666" stroke-width="1.1" fill="none"/>
<rect x="465.2" y="12" width="49.00000000000006" height="44.3" fill="none" stroke="#8a8a8a" stroke-width="1"/>
<line x1="484.5" y1="12" x2="484.5" y2="56.3" stroke="#8a8a8a" stroke-width="1"/>
<line x1="465.2" y1="35.6" x2="514.2" y2="35.6" stroke="#8a8a8a" stroke-width="1"/>
<line x1="465.2" y1="12" x2="465.2" y2="56.8" stroke="#444" stroke-width="1.1"/>
<line x1="464.7" y1="56.3" x2="514.2" y2="56.3" stroke="#444" stroke-width="1.1"/>
<path d="M264.8 67.4465 l2.7 1.5 l0.4 2 M268.5 69.7465 h2.3" stroke="#666" stroke-width="1.1" fill="none"/>
<path d="M264.8 78.39800000000001 l2.7 1.5 l0.4 2 M268.5 80.69800000000001 h2.3" stroke="#666" stroke-width="1.1" fill="none"/>
<path d="M264.8 89.3495 l2.7 1.5 l0.4 2 M268.5 91.6495 h2.3" stroke="#666" stroke-width="1.1" fill="none"/>
<path d="M264.8 100.301 l2.7 1.5 l0.4 2 M268.5 102.601 h2.3" stroke="#666" stroke-width="1.1" fill="none"/>
<path d="M275.018 115.60000000000001 l1.7 -1 l1 1.4 l1.3 -2 M277.618 110.2 v2.2" stroke="#666" stroke-width="1.1" fill="none"/>
<path d="M287.0469 115.60000000000001 l1.7 -1 l1 1.4 l1.3 -2 M289.6469 110.2 v2.2" stroke="#666" stroke-width="1.1" fill="none"/>
<path d="M299.07579999999996 115.60000000000001 l1.7 -1 l1 1.4 l1.3 -2 M301.6758 110.2 v2.2" stroke="#666" stroke-width="1.1" fill="none"/>
<path d="M311.1047 115.60000000000001 l1.7 -1 l1 1.4 l1.3 -2 M313.7047 110.2 v2.2" stroke="#666" stroke-width="1.1" fill="none"/>
<rect x="270.8" y="65.5" width="48.69999999999999" height="44.7" fill="none" stroke="#8a8a8a" stroke-width="1"/>
<line x1="289.5" y1="65.5" x2="289.5" y2="110.2" stroke="#8a8a8a" stroke-width="1"/>
<line x1="270.8" y1="93.2" x2="319.5" y2="93.2" stroke="#8a8a8a" stroke-width="1"/>
<line x1="270.8" y1="65.5" x2="270.8" y2="110.7" stroke="#444" stroke-width="1.1"/>
<line x1="270.3" y1="110.2" x2="319.5" y2="110.2" stroke="#444" stroke-width="1.1"/>
<path d="M328.3 68.199 l2.7 1.5 l0.4 2 M332.0 70.499 h2.3" stroke="#666" stroke-width="1.1" fill="none"/>
<path d="M328.3 79.028 l2.7 1.5 l0.4 2 M332.0 81.328 h2.3" stroke="#666" stroke-width="1.1" fill="none"/>
<path d="M328.3 89.857 l2.7 1.5 l0.4 2 M332.0 92.157 h2.3" stroke="#666" stroke-width="1.1" fill="none"/>
<path d="M328.3 100.68599999999999 l2.7 1.5 l0.4 2 M332.0 102.98599999999999 h2.3" stroke="#666" stroke-width="1.1" fill="none"/>
<path d="M338.602 115.9 l1.7 -1 l1 1.4 l1.3 -2 M341.202 110.5 v2.2" stroke="#666" stroke-width="1.1" fill="none"/>
<path d="M350.77909999999997 115.9 l1.7 -1 l1 1.4 l1.3 -2 M353.3791 110.5 v2.2" stroke="#666" stroke-width="1.1" fill="none"/>
<path d="M362.95619999999997 115.9 l1.7 -1 l1 1.4 l1.3 -2 M365.5562 110.5 v2.2" stroke="#666" stroke-width="1.1" fill="none"/>
<path d="M375.1333 115.9 l1.7 -1 l1 1.4 l1.3 -2 M377.73330000000004 110.5 v2.2" stroke="#666" stroke-width="1.1" fill="none"/>
<rect x="334.3" y="66.3" width="49.30000000000001" height="44.2" fill="none" stroke="#8a8a8a" stroke-width="1"/>
<line x1="357.4" y1="66.3" x2="357.4" y2="110.5" stroke="#8a8a8a" stroke-width="1"/>
<line x1="334.3" y1="92.9" x2="383.6" y2="92.9" stroke="#8a8a8a" stroke-width="1"/>
<line x1="334.3" y1="66.3" x2="334.3" y2="111.0" stroke="#444" stroke-width="1.1"/>
<line x1="333.8" y1="110.5" x2="383.6" y2="110.5" stroke="#444" stroke-width="1.1"/>
<path d="M393 69.061 l2.7 1.5 l0.4 2 M396.7 71.361 h2.3" stroke="#666" stroke-width="1.1" fill="none"/>
<path d="M393 79.792 l2.7 1.5 l0.4 2 M396.7 82.092 h2.3" stroke="#666" stroke-width="1.1" fill="none"/>
<path d="M393 90.52300000000001 l2.7 1.5 l0.4 2 M396.7 92.82300000000001 h2.3" stroke="#666" stroke-width="1.1" fill="none"/>
<path d="M393 101.254 l2.7 1.5 l0.4 2 M396.7 103.554 h2.3" stroke="#666" stroke-width="1.1" fill="none"/>
<path d="M403.23199999999997 116.4 l1.7 -1 l1 1.4 l1.3 -2 M405.832 111 v2.2" stroke="#666" stroke-width="1.1" fill="none"/>
<path d="M415.2856 116.4 l1.7 -1 l1 1.4 l1.3 -2 M417.8856 111 v2.2" stroke="#666" stroke-width="1.1" fill="none"/>
<path d="M427.3392 116.4 l1.7 -1 l1 1.4 l1.3 -2 M429.9392 111 v2.2" stroke="#666" stroke-width="1.1" fill="none"/>
<path d="M439.39279999999997 116.4 l1.7 -1 l1 1.4 l1.3 -2 M441.9928 111 v2.2" stroke="#666" stroke-width="1.1" fill="none"/>
<rect x="399" y="67.2" width="48.80000000000001" height="43.8" fill="none" stroke="#8a8a8a" stroke-width="1"/>
<line x1="421.6" y1="67.2" x2="421.6" y2="111" stroke="#8a8a8a" stroke-width="1"/>
<line x1="399" y1="90.6" x2="447.8" y2="90.6" stroke="#8a8a8a" stroke-width="1"/>
<line x1="399" y1="67.2" x2="399" y2="111.5" stroke="#444" stroke-width="1.1"/>
<line x1="398.5" y1="111" x2="447.8" y2="111" stroke="#444" stroke-width="1.1"/>
<path d="M459.2 69.042 l2.7 1.5 l0.4 2 M462.9 71.342 h2.3" stroke="#666" stroke-width="1.1" fill="none"/>
<path d="M459.2 79.724 l2.7 1.5 l0.4 2 M462.9 82.024 h2.3" stroke="#666" stroke-width="1.1" fill="none"/>
<path d="M459.2 90.406 l2.7 1.5 l0.4 2 M462.9 92.706 h2.3" stroke="#666" stroke-width="1.1" fill="none"/>
<path d="M459.2 101.08800000000001 l2.7 1.5 l0.4 2 M462.9 103.388 h2.3" stroke="#666" stroke-width="1.1" fill="none"/>
<path d="M469.46 116.2 l1.7 -1 l1 1.4 l1.3 -2 M472.06 110.8 v2.2" stroke="#666" stroke-width="1.1" fill="none"/>
<path d="M481.563 116.2 l1.7 -1 l1 1.4 l1.3 -2 M484.163 110.8 v2.2" stroke="#666" stroke-width="1.1" fill="none"/>
<path d="M493.666 116.2 l1.7 -1 l1 1.4 l1.3 -2 M496.266 110.8 v2.2" stroke="#666" stroke-width="1.1" fill="none"/>
<path d="M505.769 116.2 l1.7 -1 l1 1.4 l1.3 -2 M508.369 110.8 v2.2" stroke="#666" stroke-width="1.1" fill="none"/>
<rect x="465.2" y="67.2" width="49.00000000000006" height="43.599999999999994" fill="none" stroke="#8a8a8a" stroke-width="1"/>
<line x1="484.5" y1="67.2" x2="484.5" y2="110.8" stroke="#8a8a8a" stroke-width="1"/>
<line x1="465.2" y1="94" x2="514.2" y2="94" stroke="#8a8a8a" stroke-width="1"/>
<line x1="465.2" y1="67.2" x2="465.2" y2="111.3" stroke="#444" stroke-width="1.1"/>
<line x1="464.7" y1="110.8" x2="514.2" y2="110.8" stroke="#444" stroke-width="1.1"/>
<path fill="#333" d="M281 27h1v1h-1zM282 29h1v1h-1zM279 26h1v1h-1zM284 23h1v1h-1zM279 31h1v1h-1zM272 26h1v1h-1zM290 21h1v1h-1zM286 31h1v1h-1zM284 27h1v1h-1zM282 25h1v1h-1zM284 25h1v1h-1zM280 30h1v1h-1zM277 27h1v1h-1zM282 24h1v1h-1zM285 28h1v1h-1zM276 27h1v1h-1zM278 26h1v1h-1zM281 26h1v1h-1zM285 26h1v1h-1zM285 27h1v1h-1zM284 26h1v1h-1zM279 25h1v1h-1zM283 30h1v1h-1zM289 31h1v1h-1zM282 27h1v1h-1zM283 27h1v1h-1zM286 30h1v1h-1zM286 28h1v1h-1zM280 27h1v1h-1zM280 23h1v1h-1zM284 24h1v1h-1zM281 23h1v1h-1zM281 24h1v1h-1zM282 28h1v1h-1zM281 33h1v1h-1z"/>
<path fill="#222" d="M300 35h1v1h-1zM299 32h1v1h-1zM301 38h1v1h-1zM296 38h1v1h-1zM300 37h1v1h-1zM300 26h1v1h-1zM296 42h1v1h-1zM299 25h1v1h-1zM299 31h1v1h-1zM294 21h1v1h-1zM295 34h1v1h-1zM298 31h1v1h-1zM299 36h1v1h-1zM294 31h1v1h-1zM297 26h1v1h-1zM297 32h1v1h-1zM298 25h1v1h-1zM297 43h1v1h-1zM296 24h1v1h-1zM299 35h1v1h-1zM300 27h1v1h-1zM301 29h1v1h-1zM296 29h1v1h-1zM298 36h1v1h-1zM300 32h1v1h-1zM301 33h1v1h-1zM301 25h1v1h-1zM295 36h1v1h-1zM295 31h1v1h-1zM298 30h1v1h-1zM297 39h1v1h-1zM293 37h1v1h-1zM304 33h1v1h-1zM303 27h1v1h-1zM300 33h1v1h-1zM300 30h1v1h-1zM299 29h1v1h-1zM298 27h1v1h-1zM302 32h1v1h-1zM295 38h1v1h-1zM297 35h1v1h-1zM298 34h1v1h-1zM299 30h1v1h-1zM299 43h1v1h-1zM293 33h1v1h-1zM295 43h1v1h-1zM298 43h1v1h-1zM300 36h1v1h-1zM301 35h1v1h-1zM299 33h1v1h-1zM302 37h1v1h-1zM298 28h1v1h-1zM298 35h1v1h-1zM303 32h1v1h-1zM306 38h1v1h-1zM292 32h1v1h-1zM299 42h1v1h-1zM295 42h1v1h-1zM299 27h1v1h-1zM301 36h1v1h-1zM300 38h1v1h-1zM301 32h1v1h-1zM295 26h1v1h-1zM302 36h1v1h-1zM298 29h1v1h-1zM303 34h1v1h-1zM297 36h1v1h-1zM300 31h1v1h-1zM296 39h1v1h-1zM299 45h1v1h-1zM301 31h1v1h-1zM295 28h1v1h-1zM299 34h1v1h-1z"/>
<path fill="#777" d="M289 46h1v1h-1zM298 42h1v1h-1zM290 38h1v1h-1zM294 46h1v1h-1zM290 43h1v1h-1zM287 32h1v1h-1zM282 45h1v1h-1zM294 50h1v1h-1zM290 45h1v1h-1zM301 46h1v1h-1zM285 39h1v1h-1zM291 34h1v1h-1zM286 52h1v1h-1zM288 39h1v1h-1z"/>
<path fill="#444" d="M344 21h1v1h-1zM347 25h1v1h-1zM352 28h1v1h-1zM347 23h1v1h-1zM340 24h1v1h-1zM342 29h1v1h-1zM345 33h1v1h-1zM348 29h1v1h-1zM346 26h1v1h-1zM342 27h1v1h-1zM356 24h1v1h-1zM340 31h1v1h-1zM353 37h1v1h-1zM342 30h1v1h-1zM348 27h1v1h-1zM347 24h1v1h-1zM347 31h1v1h-1zM349 27h1v1h-1zM347 33h1v1h-1zM342 23h1v1h-1zM341 25h1v1h-1zM346 14h1v1h-1zM345 28h1v1h-1zM346 20h1v1h-1zM350 21h1v1h-1zM340 19h1v1h-1zM345 30h1v1h-1zM350 26h1v1h-1zM341 21h1v1h-1zM342 24h1v1h-1zM338 25h1v1h-1zM348 24h1v1h-1zM347 20h1v1h-1zM339 21h1v1h-1zM350 30h1v1h-1zM343 31h1v1h-1zM344 32h1v1h-1zM347 22h1v1h-1zM348 21h1v1h-1zM342 17h1v1h-1zM346 24h1v1h-1zM345 23h1v1h-1zM351 22h1v1h-1zM342 31h1v1h-1zM351 26h1v1h-1zM338 22h1v1h-1zM348 25h1v1h-1zM352 18h1v1h-1zM351 24h1v1h-1zM349 21h1v1h-1zM343 19h1v1h-1zM350 31h1v1h-1zM346 19h1v1h-1z"/>
<path fill="#222" d="M362 18h1v1h-1zM364 22h1v1h-1zM363 19h1v1h-1zM359 18h1v1h-1zM361 22h1v1h-1zM361 27h1v1h-1zM361 17h1v1h-1zM361 23h1v1h-1zM364 14h1v1h-1zM362 21h1v1h-1zM362 20h1v1h-1zM362 25h1v1h-1zM361 20h1v1h-1zM362 22h1v1h-1zM362 17h1v1h-1zM363 14h1v1h-1zM364 21h1v1h-1zM362 19h1v1h-1zM365 17h1v1h-1zM362 24h1v1h-1zM361 21h1v1h-1zM363 31h1v1h-1zM363 21h1v1h-1zM360 23h1v1h-1zM362 23h1v1h-1zM363 25h1v1h-1zM363 22h1v1h-1zM364 30h1v1h-1zM362 26h1v1h-1zM361 24h1v1h-1z"/>
<path fill="#777" d="M362 49h1v1h-1zM360 45h1v1h-1zM360 52h1v1h-1zM360 34h1v1h-1zM360 43h1v1h-1zM361 28h1v1h-1zM362 47h1v1h-1zM362 50h1v1h-1zM362 42h1v1h-1z"/>
<path fill="#777" d="M410 15h1v1h-1zM410 33h1v1h-1zM402 34h1v1h-1zM410 26h1v1h-1zM406 17h1v1h-1zM404 16h1v1h-1zM419 23h1v1h-1zM402 22h1v1h-1zM407 18h1v1h-1zM412 16h1v1h-1zM408 27h1v1h-1zM401 30h1v1h-1zM417 15h1v1h-1zM405 20h1v1h-1zM408 20h1v1h-1zM417 25h1v1h-1zM418 26h1v1h-1zM417 22h1v1h-1zM408 31h1v1h-1zM414 22h1v1h-1zM416 20h1v1h-1zM404 29h1v1h-1zM418 31h1v1h-1zM402 32h1v1h-1zM413 17h1v1h-1zM405 18h1v1h-1zM404 23h1v1h-1zM403 33h1v1h-1zM403 26h1v1h-1zM417 21h1v1h-1zM404 34h1v1h-1zM404 25h1v1h-1zM419 27h1v1h-1zM402 30h1v1h-1zM416 30h1v1h-1zM406 22h1v1h-1zM418 19h1v1h-1zM414 34h1v1h-1zM405 25h1v1h-1zM410 20h1v1h-1zM403 17h1v1h-1zM408 30h1v1h-1zM401 31h1v1h-1zM413 25h1v1h-1zM411 22h1v1h-1zM406 27h1v1h-1zM401 34h1v1h-1zM403 30h1v1h-1zM407 32h1v1h-1zM401 29h1v1h-1zM408 24h1v1h-1zM408 18h1v1h-1zM410 28h1v1h-1zM406 31h1v1h-1zM405 33h1v1h-1zM415 17h1v1h-1zM406 16h1v1h-1zM407 27h1v1h-1zM410 31h1v1h-1zM414 26h1v1h-1zM402 19h1v1h-1zM406 34h1v1h-1zM408 21h1v1h-1zM405 16h1v1h-1zM407 20h1v1h-1zM408 22h1v1h-1zM409 17h1v1h-1zM416 21h1v1h-1zM405 17h1v1h-1zM416 19h1v1h-1zM404 27h1v1h-1zM415 32h1v1h-1zM406 26h1v1h-1zM405 15h1v1h-1zM402 33h1v1h-1zM412 18h1v1h-1zM418 21h1v1h-1zM411 26h1v1h-1zM409 21h1v1h-1zM413 27h1v1h-1zM418 23h1v1h-1zM413 20h1v1h-1zM413 22h1v1h-1zM403 20h1v1h-1zM405 26h1v1h-1z"/>
<path fill="#888" d="M411 53h1v1h-1zM409 40h1v1h-1zM415 51h1v1h-1zM417 45h1v1h-1zM414 44h1v1h-1zM408 51h1v1h-1z"/>
<path fill="#333" d="M427 22h1v1h-1zM428 18h1v1h-1zM428 26h1v1h-1zM426 22h1v1h-1zM426 29h1v1h-1zM424 23h1v1h-1zM425 23h1v1h-1zM429 22h1v1h-1zM428 21h1v1h-1zM431 29h1v1h-1zM429 19h1v1h-1zM426 30h1v1h-1zM427 24h1v1h-1zM428 19h1v1h-1zM429 25h1v1h-1zM428 22h1v1h-1zM429 30h1v1h-1zM429 27h1v1h-1zM429 13h1v1h-1zM429 24h1v1h-1zM428 24h1v1h-1zM429 31h1v1h-1zM427 21h1v1h-1zM430 21h1v1h-1zM431 25h1v1h-1zM430 19h1v1h-1zM430 24h1v1h-1zM430 23h1v1h-1zM425 27h1v1h-1zM429 34h1v1h-1zM430 28h1v1h-1zM427 23h1v1h-1zM427 14h1v1h-1zM428 25h1v1h-1zM432 28h1v1h-1zM427 28h1v1h-1zM425 31h1v1h-1zM429 20h1v1h-1zM428 29h1v1h-1zM428 27h1v1h-1z"/>
<path fill="#666" d="M427 34h1v1h-1zM428 39h1v1h-1zM427 33h1v1h-1zM430 33h1v1h-1zM430 37h1v1h-1zM429 41h1v1h-1zM429 38h1v1h-1zM430 43h1v1h-1zM428 37h1v1h-1zM430 36h1v1h-1zM428 33h1v1h-1zM429 33h1v1h-1z"/>
<path fill="#000" d="M495 16h1v1h-1zM496 17h1v1h-1zM496 16h1v1h-1zM494 24h1v1h-1zM494 21h1v1h-1zM494 14h1v1h-1zM495 22h1v1h-1zM493 22h1v1h-1zM494 17h1v1h-1zM495 18h1v1h-1zM498 16h1v1h-1zM496 23h1v1h-1zM492 15h1v1h-1zM495 19h1v1h-1zM495 24h1v1h-1zM491 21h1v1h-1zM493 21h1v1h-1zM497 24h1v1h-1zM494 19h1v1h-1zM495 21h1v1h-1zM496 21h1v1h-1zM491 19h1v1h-1zM495 23h1v1h-1zM494 20h1v1h-1zM494 22h1v1h-1zM494 15h1v1h-1zM496 24h1v1h-1zM493 26h1v1h-1zM495 25h1v1h-1zM497 21h1v1h-1zM493 24h1v1h-1zM497 23h1v1h-1zM496 18h1v1h-1zM496 19h1v1h-1zM495 15h1v1h-1zM492 17h1v1h-1zM492 16h1v1h-1zM496 20h1v1h-1zM496 22h1v1h-1zM493 18h1v1h-1zM496 25h1v1h-1zM495 20h1v1h-1zM494 25h1v1h-1zM494 18h1v1h-1zM495 26h1v1h-1zM497 17h1v1h-1zM494 23h1v1h-1zM492 22h1v1h-1zM493 28h1v1h-1zM493 19h1v1h-1zM493 23h1v1h-1zM493 15h1v1h-1zM496 14h1v1h-1zM495 27h1v1h-1zM491 23h1v1h-1zM494 16h1v1h-1zM493 20h1v1h-1zM498 17h1v1h-1zM495 17h1v1h-1zM498 18h1v1h-1zM492 24h1v1h-1zM498 25h1v1h-1zM492 21h1v1h-1zM496 27h1v1h-1zM496 28h1v1h-1zM497 16h1v1h-1zM494 26h1v1h-1z"/>
<path fill="#777" d="M496 30h1v1h-1zM491 30h1v1h-1zM495 25h1v1h-1zM493 30h1v1h-1zM493 32h1v1h-1zM496 26h1v1h-1zM493 26h1v1h-1zM494 26h1v1h-1zM495 29h1v1h-1zM495 28h1v1h-1zM489 33h1v1h-1zM492 32h1v1h-1zM494 30h1v1h-1zM497 29h1v1h-1zM496 24h1v1h-1zM495 27h1v1h-1zM492 28h1v1h-1zM488 28h1v1h-1zM491 31h1v1h-1zM491 29h1v1h-1zM493 24h1v1h-1zM487 23h1v1h-1zM489 27h1v1h-1zM493 28h1v1h-1zM492 30h1v1h-1zM491 25h1v1h-1zM486 28h1v1h-1zM496 29h1v1h-1zM490 28h1v1h-1zM495 31h1v1h-1zM490 30h1v1h-1zM493 31h1v1h-1zM496 27h1v1h-1zM489 29h1v1h-1zM497 30h1v1h-1zM493 34h1v1h-1zM491 28h1v1h-1zM490 27h1v1h-1zM488 29h1v1h-1zM494 29h1v1h-1zM492 24h1v1h-1zM495 23h1v1h-1zM488 22h1v1h-1zM490 31h1v1h-1zM494 28h1v1h-1zM492 29h1v1h-1zM493 22h1v1h-1z"/>
<path fill="#444" d="M280 92h1v1h-1zM280 90h1v1h-1zM279 89h1v1h-1zM285 90h1v1h-1zM278 85h1v1h-1zM279 87h1v1h-1zM276 91h1v1h-1zM283 87h1v1h-1zM284 91h1v1h-1zM279 91h1v1h-1zM276 88h1v1h-1zM277 88h1v1h-1zM284 88h1v1h-1zM278 89h1v1h-1zM282 89h1v1h-1zM284 89h1v1h-1zM277 89h1v1h-1zM281 89h1v1h-1zM282 93h1v1h-1zM279 90h1v1h-1zM285 89h1v1h-1zM279 88h1v1h-1zM282 91h1v1h-1zM281 90h1v1h-1zM285 91h1v1h-1zM277 90h1v1h-1zM281 91h1v1h-1zM280 89h1v1h-1zM280 87h1v1h-1z"/>
<path fill="#222" d="M300 84h1v1h-1zM297 84h1v1h-1zM296 90h1v1h-1zM297 89h1v1h-1zM296 88h1v1h-1zM294 86h1v1h-1zM299 87h1v1h-1zM300 88h1v1h-1zM300 90h1v1h-1zM298 86h1v1h-1zM299 86h1v1h-1zM299 91h1v1h-1zM301 86h1v1h-1zM295 87h1v1h-1zM298 91h1v1h-1zM297 87h1v1h-1zM300 86h1v1h-1zM298 93h1v1h-1zM302 90h1v1h-1zM299 84h1v1h-1zM298 87h1v1h-1zM299 92h1v1h-1zM299 82h1v1h-1zM296 82h1v1h-1zM296 89h1v1h-1zM299 85h1v1h-1zM295 82h1v1h-1zM296 92h1v1h-1zM295 92h1v1h-1zM302 87h1v1h-1zM298 85h1v1h-1zM298 90h1v1h-1zM301 89h1v1h-1zM299 83h1v1h-1zM299 88h1v1h-1zM296 95h1v1h-1zM296 84h1v1h-1zM299 81h1v1h-1zM296 87h1v1h-1zM300 91h1v1h-1zM297 93h1v1h-1zM295 88h1v1h-1zM297 92h1v1h-1zM298 83h1v1h-1zM298 89h1v1h-1zM295 89h1v1h-1zM297 88h1v1h-1zM299 90h1v1h-1zM300 87h1v1h-1zM294 84h1v1h-1zM301 90h1v1h-1zM294 87h1v1h-1zM300 89h1v1h-1zM303 92h1v1h-1zM298 84h1v1h-1zM303 85h1v1h-1zM301 94h1v1h-1zM299 94h1v1h-1zM297 95h1v1h-1zM296 86h1v1h-1zM293 91h1v1h-1zM296 85h1v1h-1z"/>
<path fill="#444" d="M356 93h1v1h-1zM349 83h1v1h-1zM346 84h1v1h-1zM349 89h1v1h-1zM346 89h1v1h-1zM344 83h1v1h-1zM349 84h1v1h-1zM342 88h1v1h-1zM343 91h1v1h-1zM350 91h1v1h-1zM347 90h1v1h-1zM350 81h1v1h-1zM348 86h1v1h-1zM341 90h1v1h-1zM345 92h1v1h-1zM351 79h1v1h-1zM346 99h1v1h-1zM350 96h1v1h-1zM347 83h1v1h-1zM342 93h1v1h-1zM350 86h1v1h-1zM345 91h1v1h-1zM339 88h1v1h-1zM353 100h1v1h-1zM346 98h1v1h-1zM344 86h1v1h-1zM337 94h1v1h-1zM345 100h1v1h-1zM348 91h1v1h-1zM339 96h1v1h-1zM345 89h1v1h-1zM350 87h1v1h-1zM347 92h1v1h-1zM350 90h1v1h-1zM353 89h1v1h-1zM344 88h1v1h-1zM336 86h1v1h-1zM338 88h1v1h-1zM348 93h1v1h-1zM343 94h1v1h-1zM354 88h1v1h-1zM338 93h1v1h-1zM346 91h1v1h-1zM350 97h1v1h-1zM345 82h1v1h-1zM351 92h1v1h-1zM349 91h1v1h-1zM356 90h1v1h-1zM348 81h1v1h-1zM344 87h1v1h-1zM343 98h1v1h-1zM347 84h1v1h-1zM349 93h1v1h-1zM345 98h1v1h-1zM347 91h1v1h-1zM342 82h1v1h-1zM344 93h1v1h-1zM337 85h1v1h-1zM342 94h1v1h-1z"/>
<path fill="#222" d="M360 94h1v1h-1zM364 92h1v1h-1zM365 89h1v1h-1zM363 93h1v1h-1zM364 89h1v1h-1zM363 88h1v1h-1zM364 94h1v1h-1zM363 97h1v1h-1zM361 89h1v1h-1zM365 88h1v1h-1zM361 95h1v1h-1zM364 85h1v1h-1zM364 86h1v1h-1zM363 85h1v1h-1zM363 86h1v1h-1zM363 90h1v1h-1zM364 88h1v1h-1zM361 85h1v1h-1zM363 96h1v1h-1zM364 87h1v1h-1zM363 91h1v1h-1zM362 90h1v1h-1zM365 106h1v1h-1zM364 90h1v1h-1zM362 94h1v1h-1zM361 87h1v1h-1zM365 94h1v1h-1zM362 88h1v1h-1zM361 84h1v1h-1zM364 91h1v1h-1zM362 91h1v1h-1zM361 90h1v1h-1zM365 95h1v1h-1zM365 97h1v1h-1zM361 88h1v1h-1zM363 95h1v1h-1zM362 92h1v1h-1zM363 99h1v1h-1zM363 94h1v1h-1zM363 84h1v1h-1zM362 85h1v1h-1zM362 93h1v1h-1zM360 82h1v1h-1zM362 84h1v1h-1z"/>
<path fill="#666" d="M403 95h1v1h-1zM413 83h1v1h-1zM404 86h1v1h-1zM409 77h1v1h-1zM402 92h1v1h-1zM415 83h1v1h-1zM405 95h1v1h-1zM408 86h1v1h-1zM413 91h1v1h-1zM417 95h1v1h-1zM407 89h1v1h-1zM410 82h1v1h-1zM404 96h1v1h-1zM400 96h1v1h-1zM412 89h1v1h-1zM413 93h1v1h-1zM417 87h1v1h-1zM409 88h1v1h-1zM421 95h1v1h-1zM404 88h1v1h-1zM406 90h1v1h-1zM411 104h1v1h-1zM413 86h1v1h-1zM409 87h1v1h-1zM410 96h1v1h-1zM401 98h1v1h-1zM408 99h1v1h-1zM413 97h1v1h-1zM413 96h1v1h-1zM410 85h1v1h-1zM414 94h1v1h-1zM423 78h1v1h-1zM409 96h1v1h-1zM403 88h1v1h-1zM423 98h1v1h-1zM405 98h1v1h-1zM417 94h1v1h-1zM412 91h1v1h-1zM405 87h1v1h-1zM415 91h1v1h-1zM421 88h1v1h-1zM412 92h1v1h-1zM411 85h1v1h-1zM419 86h1v1h-1zM414 88h1v1h-1zM403 98h1v1h-1zM413 88h1v1h-1zM415 89h1v1h-1zM407 103h1v1h-1zM409 89h1v1h-1zM404 85h1v1h-1zM414 93h1v1h-1zM410 86h1v1h-1zM414 80h1v1h-1zM408 88h1v1h-1zM405 91h1v1h-1z"/>
<path fill="#333" d="M426 87h1v1h-1zM429 96h1v1h-1zM429 92h1v1h-1zM428 97h1v1h-1zM429 106h1v1h-1zM426 93h1v1h-1zM427 71h1v1h-1zM425 92h1v1h-1zM428 88h1v1h-1zM428 100h1v1h-1zM426 101h1v1h-1zM429 95h1v1h-1zM425 101h1v1h-1zM427 90h1v1h-1zM427 89h1v1h-1zM426 91h1v1h-1zM428 90h1v1h-1zM431 91h1v1h-1zM426 99h1v1h-1zM428 92h1v1h-1zM426 95h1v1h-1zM422 87h1v1h-1zM427 98h1v1h-1zM428 91h1v1h-1zM427 103h1v1h-1zM426 94h1v1h-1zM429 94h1v1h-1zM424 94h1v1h-1zM428 95h1v1h-1zM426 97h1v1h-1zM427 93h1v1h-1zM427 94h1v1h-1zM426 89h1v1h-1zM427 86h1v1h-1zM425 100h1v1h-1zM426 92h1v1h-1zM427 92h1v1h-1zM426 98h1v1h-1zM424 86h1v1h-1z"/>
<path fill="#000" d="M493 94h1v1h-1zM492 92h1v1h-1zM494 96h1v1h-1zM496 90h1v1h-1zM497 91h1v1h-1zM492 84h1v1h-1zM497 93h1v1h-1zM494 90h1v1h-1zM493 99h1v1h-1zM495 101h1v1h-1zM495 84h1v1h-1zM496 92h1v1h-1zM494 100h1v1h-1zM494 98h1v1h-1zM495 90h1v1h-1zM495 91h1v1h-1zM496 98h1v1h-1zM495 96h1v1h-1zM496 93h1v1h-1zM495 95h1v1h-1zM494 92h1v1h-1zM494 97h1v1h-1zM494 95h1v1h-1zM497 95h1v1h-1zM496 96h1v1h-1zM495 92h1v1h-1zM493 90h1v1h-1zM494 93h1v1h-1zM495 87h1v1h-1zM495 89h1v1h-1zM497 92h1v1h-1zM494 94h1v1h-1zM495 93h1v1h-1zM494 101h1v1h-1zM498 96h1v1h-1zM495 94h1v1h-1zM496 99h1v1h-1zM497 88h1v1h-1zM495 100h1v1h-1zM496 89h1v1h-1zM495 86h1v1h-1zM496 95h1v1h-1zM494 91h1v1h-1zM494 99h1v1h-1zM494 89h1v1h-1zM494 88h1v1h-1zM497 84h1v1h-1zM493 96h1v1h-1zM495 99h1v1h-1zM495 85h1v1h-1zM497 89h1v1h-1zM492 90h1v1h-1zM494 103h1v1h-1zM496 102h1v1h-1zM496 87h1v1h-1zM493 89h1v1h-1zM494 87h1v1h-1zM493 91h1v1h-1zM495 102h1v1h-1zM494 85h1v1h-1zM498 100h1v1h-1zM496 97h1v1h-1zM493 95h1v1h-1zM496 88h1v1h-1zM497 100h1v1h-1zM495 98h1v1h-1zM495 97h1v1h-1zM496 100h1v1h-1zM497 99h1v1h-1zM491 95h1v1h-1zM492 94h1v1h-1zM497 86h1v1h-1zM492 96h1v1h-1zM494 107h1v1h-1zM494 86h1v1h-1zM498 89h1v1h-1zM493 97h1v1h-1zM497 101h1v1h-1zM497 90h1v1h-1zM495 88h1v1h-1zM497 87h1v1h-1zM493 92h1v1h-1zM493 98h1v1h-1zM496 91h1v1h-1zM496 94h1v1h-1zM493 86h1v1h-1zM496 86h1v1h-1z"/>
<path fill="#777" d="M491 94h1v1h-1zM497 102h1v1h-1zM497 91h1v1h-1zM491 100h1v1h-1zM489 93h1v1h-1zM488 103h1v1h-1zM495 98h1v1h-1zM493 94h1v1h-1zM491 98h1v1h-1zM491 101h1v1h-1zM491 93h1v1h-1zM496 95h1v1h-1zM494 94h1v1h-1zM487 98h1v1h-1zM489 100h1v1h-1zM488 89h1v1h-1zM493 98h1v1h-1zM493 91h1v1h-1zM495 90h1v1h-1zM492 99h1v1h-1zM494 89h1v1h-1zM489 94h1v1h-1zM491 97h1v1h-1zM487 99h1v1h-1zM494 95h1v1h-1zM489 96h1v1h-1zM491 102h1v1h-1zM487 92h1v1h-1zM494 90h1v1h-1zM494 91h1v1h-1zM493 92h1v1h-1zM492 94h1v1h-1zM498 96h1v1h-1zM490 100h1v1h-1zM495 101h1v1h-1zM497 92h1v1h-1zM493 97h1v1h-1zM485 94h1v1h-1zM497 89h1v1h-1zM494 103h1v1h-1zM488 96h1v1h-1zM495 91h1v1h-1zM492 104h1v1h-1zM496 98h1v1h-1zM486 95h1v1h-1zM492 108h1v1h-1zM492 92h1v1h-1zM493 95h1v1h-1zM492 96h1v1h-1zM495 97h1v1h-1zM489 95h1v1h-1z"/>
<text x="291.3" y="7.2" font-size="7.6" text-anchor="middle" font-weight="normal" fill="#222" stroke="#222" stroke-width="0.12">0-0</text>
<text x="357.0" y="7.2" font-size="7.6" text-anchor="middle" font-weight="normal" fill="#222" stroke="#222" stroke-width="0.12">0-1</text>
<text x="422.1" y="7.2" font-size="7.6" text-anchor="middle" font-weight="normal" fill="#222" stroke="#222" stroke-width="0.12">1-1</text>
<text x="489.6" y="7.2" font-size="7.6" text-anchor="middle" font-weight="normal" fill="#222" stroke="#222" stroke-width="0.12">CMV</text>
<text x="229" y="39.7" font-size="7.7" text-anchor="start" font-weight="normal" fill="#222" stroke="#222" stroke-width="0.12">CD25</text>
<text x="227.9" y="98.3" font-size="7.7" text-anchor="start" font-weight="normal" fill="#222" stroke="#222" stroke-width="0.12">CD127</text>
<line x1="256.7" y1="18.0" x2="256.7" y2="53.6" stroke="#555" stroke-width="1.2"/>
<path d="M252.79999999999998 18.5 L256.7 11.2 L260.59999999999997 18.5Z" fill="#111"/>
<line x1="256.7" y1="76.6" x2="256.7" y2="111.7" stroke="#555" stroke-width="1.2"/>
<path d="M252.79999999999998 77.1 L256.7 69.8 L260.59999999999997 77.1Z" fill="#111"/>
<line x1="271.5" y1="127.7" x2="435.5" y2="127.7" stroke="#444" stroke-width="1.2"/>
<path d="M435.0 123.9 L442.5 127.7 L435.0 131.5Z" fill="#111"/>
<text x="344.8" y="143" font-size="7.7" text-anchor="start" font-weight="normal" fill="#222" stroke="#222" stroke-width="0.12">CFSE</text>
<text x="478.3" y="143" font-size="7.7" text-anchor="start" font-weight="normal" fill="#222" stroke="#222" stroke-width="0.12">CD4</text>
<text x="1.4" y="164.9" font-size="17.8" text-anchor="start" font-weight="bold" fill="#000" stroke="#000" stroke-width="0.5">B</text>
<line x1="36.9" y1="169.3" x2="36.9" y2="264" stroke="#999" stroke-width="1.4"/>
<line x1="34.4" y1="169.8" x2="36.9" y2="169.8" stroke="#777" stroke-width="1"/>
<text x="34.2" y="172.0" font-size="7.0" fill="#222" stroke="#222" stroke-width="0.15" text-anchor="end">10<tspan font-size="4.2" dy="-2.9">5</tspan></text>
<line x1="34.4" y1="200.9" x2="36.9" y2="200.9" stroke="#777" stroke-width="1"/>
<text x="34.2" y="203.1" font-size="7.0" fill="#222" stroke="#222" stroke-width="0.15" text-anchor="end">10<tspan font-size="4.2" dy="-2.9">4</tspan></text>
<line x1="34.4" y1="232" x2="36.9" y2="232" stroke="#777" stroke-width="1"/>
<text x="34.2" y="234.2" font-size="7.0" fill="#222" stroke="#222" stroke-width="0.15" text-anchor="end">10<tspan font-size="4.2" dy="-2.9">3</tspan></text>
<line x1="34.4" y1="263.3" x2="36.9" y2="263.3" stroke="#777" stroke-width="1"/>
<text x="34.2" y="265.5" font-size="7.0" fill="#222" stroke="#222" stroke-width="0.15" text-anchor="end">10<tspan font-size="4.2" dy="-2.9">2</tspan></text>
<text x="14.6" y="217" font-size="7" text-anchor="middle" font-weight="normal" fill="#333" stroke="#333" stroke-width="0.12" transform="rotate(-90 14.6 217)">Median fluorescence CD25</text>
<text x="61.2" y="178.7" font-size="3.7" text-anchor="start" font-weight="normal" fill="#333" textLength="10.2" lengthAdjust="spacingAndGlyphs">P=0.07</text>
<rect x="50.0" y="222.8" width="8.299999999999997" height="40.89999999999998" fill="#e0e0e0" stroke="#888" stroke-width="1"/>
<line x1="50.0" y1="222.8" x2="58.3" y2="222.8" stroke="#222" stroke-width="1.1"/>
<line x1="54.15" y1="221.0" x2="54.15" y2="222.3" stroke="#222" stroke-width="1"/>
<line x1="51.949999999999996" y1="221.0" x2="56.35" y2="221.0" stroke="#222" stroke-width="1"/>
<rect x="61.2" y="209.2" width="9.599999999999994" height="55.0" fill="#000" stroke="none" stroke-width="1"/>
<line x1="66.0" y1="205" x2="66.0" y2="209.2" stroke="#222" stroke-width="1"/>
<line x1="63.8" y1="205" x2="68.2" y2="205" stroke="#222" stroke-width="1"/>
<rect x="75.5" y="225.5" width="8.5" height="38.19999999999999" fill="#e0e0e0" stroke="#888" stroke-width="1"/>
<line x1="75.5" y1="225.5" x2="84.0" y2="225.5" stroke="#222" stroke-width="1.1"/>
<line x1="79.75" y1="223.8" x2="79.75" y2="225" stroke="#222" stroke-width="1"/>
<line x1="77.55" y1="223.8" x2="81.95" y2="223.8" stroke="#222" stroke-width="1"/>
<rect x="86.8" y="187.5" width="9.0" height="76.69999999999999" fill="#000" stroke="none" stroke-width="1"/>
<line x1="91.3" y1="184.3" x2="91.3" y2="187.5" stroke="#222" stroke-width="1"/>
<line x1="89.1" y1="184.3" x2="93.5" y2="184.3" stroke="#222" stroke-width="1"/>
<rect x="100.8" y="222.0" width="8.200000000000003" height="41.69999999999999" fill="#e0e0e0" stroke="#888" stroke-width="1"/>
<line x1="100.8" y1="222.0" x2="109.0" y2="222.0" stroke="#222" stroke-width="1.1"/>
<rect x="111.8" y="185.5" width="9.5" height="78.69999999999999" fill="#000" stroke="none" stroke-width="1"/>
<rect x="130.9" y="232.5" width="8.900000000000006" height="31.19999999999999" fill="#e0e0e0" stroke="#888" stroke-width="1"/>
<line x1="130.9" y1="232.5" x2="139.8" y2="232.5" stroke="#222" stroke-width="1.1"/>
<rect x="142.3" y="184.3" width="9.599999999999994" height="79.89999999999998" fill="#000" stroke="none" stroke-width="1"/>
<line x1="147.10000000000002" y1="183.2" x2="147.10000000000002" y2="184.3" stroke="#222" stroke-width="1"/>
<line x1="144.90000000000003" y1="183.2" x2="149.3" y2="183.2" stroke="#222" stroke-width="1"/>
<rect x="165.8" y="236.0" width="8.799999999999983" height="27.69999999999999" fill="#e0e0e0" stroke="#888" stroke-width="1"/>
<line x1="165.8" y1="236.0" x2="174.6" y2="236.0" stroke="#222" stroke-width="1.1"/>
<rect x="176.6" y="237" width="9.5" height="27.19999999999999" fill="#000" stroke="none" stroke-width="1"/>
<text x="91.5" y="186.3" font-size="13" text-anchor="middle" font-weight="normal" fill="#3a3a3a" stroke="#3a3a3a" stroke-width="0.3">*</text>
<text x="116.7" y="186.3" font-size="13" text-anchor="middle" font-weight="normal" fill="#3a3a3a" stroke="#3a3a3a" stroke-width="0.3">*</text>
<text x="147.3" y="186.3" font-size="13" text-anchor="middle" font-weight="normal" fill="#3a3a3a" stroke="#3a3a3a" stroke-width="0.3">*</text>
<text x="172.1" y="231.8" font-size="8.4" text-anchor="middle" font-weight="normal" fill="#222" stroke="#222" stroke-width="0.25">#</text>
<text x="181.9" y="234.2" font-size="10" text-anchor="middle" font-weight="normal" fill="#333" stroke="#333" stroke-width="0.12">^</text>
<line x1="126.6" y1="168" x2="126.6" y2="264.7" stroke="#555" stroke-width="0.8" stroke-dasharray="1.2 1.2"/>
<line x1="159.3" y1="168" x2="159.3" y2="264" stroke="#999" stroke-width="1.3"/>
<line x1="47.5" y1="273.7" x2="190" y2="273.7" stroke="#888" stroke-width="1.5"/>
<text x="60.2" y="287.5" font-size="7.2" text-anchor="middle" font-weight="normal" fill="#222" stroke="#222" stroke-width="0.12">0</text>
<text x="86.3" y="287.5" font-size="7.2" text-anchor="middle" font-weight="normal" fill="#222" stroke="#222" stroke-width="0.12">1</text>
<text x="111.9" y="287.5" font-size="7.2" text-anchor="middle" font-weight="normal" fill="#222" stroke="#222" stroke-width="0.12">2</text>
<text x="66.4" y="302.6" font-size="7.2" text-anchor="start" font-weight="normal" fill="#222" stroke="#222" stroke-width="0.12" textLength="47.6" lengthAdjust="spacingAndGlyphs">MM on HLA-DR</text>
<text x="136.2" y="302.6" font-size="7.2" text-anchor="start" font-weight="normal" fill="#222" stroke="#222" stroke-width="0.12">CMV</text>
<text x="162.3" y="302.6" font-size="7.2" text-anchor="start" font-weight="normal" fill="#222" stroke="#222" stroke-width="0.12">CD154neg</text>
<rect x="200.9" y="170.8" width="13.3" height="3.6" fill="#ddd" stroke="#444" stroke-width="1"/>
<rect x="200.4" y="185.1" width="14.3" height="4.5" fill="#000" stroke="none" stroke-width="1"/>
<text x="216" y="175.6" font-size="7.4" text-anchor="start" font-weight="normal" fill="#222" stroke="#222" stroke-width="0.12">6 hours</text>
<text x="216" y="190.5" font-size="7.4" text-anchor="start" font-weight="normal" fill="#222" stroke="#222" stroke-width="0.12">24 hours</text>
<line x1="312.3" y1="172.4" x2="312.3" y2="264.2" stroke="#999" stroke-width="1.4"/>
<line x1="309.8" y1="172.6" x2="312.3" y2="172.6" stroke="#777" stroke-width="1"/>
<text x="309.6" y="174.79999999999998" font-size="7.0" fill="#222" stroke="#222" stroke-width="0.15" text-anchor="end">10<tspan font-size="4.2" dy="-2.9">4</tspan></text>
<line x1="309.8" y1="218.7" x2="312.3" y2="218.7" stroke="#777" stroke-width="1"/>
<text x="309.6" y="220.89999999999998" font-size="7.0" fill="#222" stroke="#222" stroke-width="0.15" text-anchor="end">10<tspan font-size="4.2" dy="-2.9">3</tspan></text>
<line x1="309.8" y1="264.1" x2="312.3" y2="264.1" stroke="#777" stroke-width="1"/>
<text x="309.6" y="266.3" font-size="7.0" fill="#222" stroke="#222" stroke-width="0.15" text-anchor="end">10<tspan font-size="4.2" dy="-2.9">2</tspan></text>
<text x="290.8" y="220.2" font-size="7" text-anchor="middle" font-weight="normal" fill="#333" stroke="#333" stroke-width="0.12" transform="rotate(-90 290.8 220.2)">Median fluorescence CD127</text>
<rect x="325.0" y="190.6" width="9.100000000000023" height="73.70000000000002" fill="#e0e0e0" stroke="#888" stroke-width="1"/>
<line x1="325.0" y1="190.6" x2="334.1" y2="190.6" stroke="#222" stroke-width="1.1"/>
<line x1="329.55" y1="187.4" x2="329.55" y2="190.1" stroke="#222" stroke-width="1"/>
<line x1="327.35" y1="187.4" x2="331.75" y2="187.4" stroke="#222" stroke-width="1"/>
<rect x="336.1" y="198.7" width="9.899999999999977" height="66.10000000000002" fill="#000" stroke="none" stroke-width="1"/>
<rect x="350.5" y="186.0" width="8.800000000000011" height="78.30000000000001" fill="#e0e0e0" stroke="#888" stroke-width="1"/>
<line x1="350.5" y1="186.0" x2="359.3" y2="186.0" stroke="#222" stroke-width="1.1"/>
<rect x="361.9" y="203.3" width="9.600000000000023" height="61.5" fill="#000" stroke="none" stroke-width="1"/>
<line x1="366.7" y1="201.3" x2="366.7" y2="203.3" stroke="#222" stroke-width="1"/>
<line x1="364.5" y1="201.3" x2="368.9" y2="201.3" stroke="#222" stroke-width="1"/>
<rect x="376.3" y="186.0" width="8.800000000000011" height="78.30000000000001" fill="#e0e0e0" stroke="#888" stroke-width="1"/>
<line x1="376.3" y1="186.0" x2="385.1" y2="186.0" stroke="#222" stroke-width="1.1"/>
<rect x="387.4" y="210.1" width="9.800000000000011" height="54.70000000000002" fill="#000" stroke="none" stroke-width="1"/>
<rect x="406.6" y="192.2" width="8.799999999999955" height="72.10000000000002" fill="#e0e0e0" stroke="#888" stroke-width="1"/>
<line x1="406.6" y1="192.2" x2="415.4" y2="192.2" stroke="#222" stroke-width="1.1"/>
<rect x="417.5" y="220.2" width="10.100000000000023" height="44.60000000000002" fill="#000" stroke="none" stroke-width="1"/>
<line x1="422.55" y1="214.3" x2="422.55" y2="220.2" stroke="#222" stroke-width="1"/>
<line x1="420.35" y1="214.3" x2="424.75" y2="214.3" stroke="#222" stroke-width="1"/>
<rect x="441.3" y="193.7" width="9.399999999999977" height="70.60000000000002" fill="#e0e0e0" stroke="#888" stroke-width="1"/>
<line x1="441.3" y1="193.7" x2="450.7" y2="193.7" stroke="#222" stroke-width="1.1"/>
<rect x="452.5" y="195" width="9.800000000000011" height="69.80000000000001" fill="#000" stroke="none" stroke-width="1"/>
<text x="342.3" y="186.3" font-size="13" text-anchor="middle" font-weight="normal" fill="#3a3a3a" stroke="#3a3a3a" stroke-width="0.3">*</text>
<text x="367.5" y="186.3" font-size="13" text-anchor="middle" font-weight="normal" fill="#3a3a3a" stroke="#3a3a3a" stroke-width="0.3">*</text>
<text x="393" y="186.3" font-size="13" text-anchor="middle" font-weight="normal" fill="#3a3a3a" stroke="#3a3a3a" stroke-width="0.3">*</text>
<text x="423" y="186.3" font-size="13" text-anchor="middle" font-weight="normal" fill="#3a3a3a" stroke="#3a3a3a" stroke-width="0.3">*</text>
<text x="446.6" y="183.6" font-size="8.4" text-anchor="middle" font-weight="normal" fill="#222" stroke="#222" stroke-width="0.25">#</text>
<text x="457" y="186.2" font-size="10" text-anchor="middle" font-weight="normal" fill="#333" stroke="#333" stroke-width="0.12">^</text>
<line x1="400.9" y1="172.6" x2="400.9" y2="266" stroke="#555" stroke-width="0.8" stroke-dasharray="1.2 1.2"/>
<line x1="433.7" y1="172.2" x2="433.7" y2="264.2" stroke="#999" stroke-width="1.3"/>
<line x1="323" y1="274.4" x2="465.4" y2="274.4" stroke="#888" stroke-width="1.5"/>
<text x="333.2" y="287.5" font-size="7.2" text-anchor="middle" font-weight="normal" fill="#222" stroke="#222" stroke-width="0.12">0</text>
<text x="359.3" y="287.5" font-size="7.2" text-anchor="middle" font-weight="normal" fill="#222" stroke="#222" stroke-width="0.12">1</text>
<text x="385.2" y="287.5" font-size="7.2" text-anchor="middle" font-weight="normal" fill="#222" stroke="#222" stroke-width="0.12">2</text>
<text x="339.4" y="302.8" font-size="7.2" text-anchor="start" font-weight="normal" fill="#222" stroke="#222" stroke-width="0.12" textLength="47.8" lengthAdjust="spacingAndGlyphs">MM on HLA-DR</text>
<text x="409.2" y="302.8" font-size="7.2" text-anchor="start" font-weight="normal" fill="#222" stroke="#222" stroke-width="0.12">CMV</text>
<text x="436.8" y="302.8" font-size="7.2" text-anchor="start" font-weight="normal" fill="#222" stroke="#222" stroke-width="0.12">CD154neg</text>
<rect x="474.1" y="174.7" width="13.4" height="3.2" fill="#ddd" stroke="#444" stroke-width="1"/>
<rect x="473.6" y="188" width="14.4" height="3.8" fill="#000" stroke="none" stroke-width="1"/>
<text x="492" y="179.3" font-size="7.4" text-anchor="start" font-weight="normal" fill="#222" stroke="#222" stroke-width="0.12">6 hours</text>
<text x="490" y="192.6" font-size="7.4" text-anchor="start" font-weight="normal" fill="#222" stroke="#222" stroke-width="0.12">24 hours</text>
<text x="1.3" y="340.6" font-size="17.8" text-anchor="start" font-weight="bold" fill="#000" stroke="#000" stroke-width="0.5">C</text>
<text x="76" y="333.0" font-size="7.8" text-anchor="middle" font-weight="normal" fill="#222" stroke="#222" stroke-width="0.12">irradiated PBMC</text>
<text x="171.7" y="333.1" font-size="7.8" text-anchor="middle" font-weight="normal" fill="#222" stroke="#222" stroke-width="0.12">200 U/mL Rhu-IL-2</text>
<text x="267.5" y="323.7" font-size="7.8" text-anchor="middle" font-weight="normal" fill="#222" stroke="#222" stroke-width="0.12">irradiated PBMC</text>
<text x="267.2" y="332.3" font-size="7.8" text-anchor="middle" font-weight="normal" fill="#222" stroke="#222" stroke-width="0.12">+ 200 U/mL Rhu-IL-2</text>
<path fill="#666" d="M92 402h1v1h-1zM110 388h1v1h-1zM89 366h1v1h-1zM77 368h1v1h-1zM80 344h1v1h-1zM103 358h1v1h-1zM81 391h1v1h-1zM78 373h1v1h-1zM83 396h1v1h-1zM111 385h1v1h-1zM92 378h1v1h-1zM81 393h1v1h-1zM100 374h1v1h-1zM90 384h1v1h-1zM96 373h1v1h-1zM112 365h1v1h-1zM101 390h1v1h-1zM95 347h1v1h-1zM112 404h1v1h-1zM94 403h1v1h-1zM92 394h1v1h-1zM107 372h1v1h-1z"/>
<path fill="#777" d="M56 401h1v1h-1zM62 393h1v1h-1zM64 392h1v1h-1zM62 396h1v1h-1zM60 400h1v1h-1zM51 393h1v1h-1zM61 387h1v1h-1zM60 393h1v1h-1zM59 399h1v1h-1zM53 400h1v1h-1zM63 396h1v1h-1zM58 401h1v1h-1zM58 395h1v1h-1zM57 399h1v1h-1zM58 394h1v1h-1zM62 394h1v1h-1zM61 390h1v1h-1zM58 390h1v1h-1zM55 399h1v1h-1zM62 399h1v1h-1zM58 392h1v1h-1zM64 398h1v1h-1zM61 398h1v1h-1zM56 397h1v1h-1zM60 395h1v1h-1zM57 400h1v1h-1zM58 391h1v1h-1zM58 400h1v1h-1zM62 403h1v1h-1zM54 399h1v1h-1zM62 395h1v1h-1zM59 397h1v1h-1zM62 389h1v1h-1zM58 397h1v1h-1zM64 393h1v1h-1zM63 393h1v1h-1zM55 398h1v1h-1zM64 397h1v1h-1zM57 394h1v1h-1zM58 399h1v1h-1zM62 398h1v1h-1zM60 397h1v1h-1zM65 398h1v1h-1zM65 391h1v1h-1zM63 391h1v1h-1zM61 394h1v1h-1zM61 395h1v1h-1zM53 401h1v1h-1zM59 388h1v1h-1zM59 402h1v1h-1zM56 394h1v1h-1zM63 398h1v1h-1zM58 398h1v1h-1zM57 402h1v1h-1zM62 388h1v1h-1zM59 396h1v1h-1zM64 394h1v1h-1zM64 389h1v1h-1zM58 389h1v1h-1zM60 399h1v1h-1zM63 394h1v1h-1zM65 392h1v1h-1zM65 390h1v1h-1zM57 390h1v1h-1zM58 396h1v1h-1zM59 395h1v1h-1zM59 392h1v1h-1zM61 393h1v1h-1zM57 401h1v1h-1zM62 397h1v1h-1z"/>
<path fill="#666" d="M79 349h1v1h-1zM73 351h1v1h-1zM76 358h1v1h-1zM77 365h1v1h-1zM78 356h1v1h-1zM79 356h1v1h-1zM82 348h1v1h-1zM81 345h1v1h-1zM76 350h1v1h-1zM80 356h1v1h-1zM77 363h1v1h-1zM84 345h1v1h-1zM72 370h1v1h-1zM74 365h1v1h-1zM75 360h1v1h-1zM76 359h1v1h-1zM83 345h1v1h-1zM76 352h1v1h-1zM70 368h1v1h-1zM74 366h1v1h-1zM81 347h1v1h-1zM71 355h1v1h-1zM75 362h1v1h-1zM77 368h1v1h-1zM76 363h1v1h-1zM81 353h1v1h-1zM70 367h1v1h-1zM69 366h1v1h-1zM80 348h1v1h-1zM76 360h1v1h-1zM76 354h1v1h-1zM72 368h1v1h-1zM78 358h1v1h-1zM81 352h1v1h-1zM71 363h1v1h-1zM79 351h1v1h-1zM72 362h1v1h-1zM81 359h1v1h-1zM85 349h1v1h-1zM81 351h1v1h-1zM75 367h1v1h-1zM79 353h1v1h-1zM80 352h1v1h-1zM78 360h1v1h-1zM73 365h1v1h-1zM79 348h1v1h-1zM77 351h1v1h-1zM81 349h1v1h-1zM78 351h1v1h-1zM77 362h1v1h-1zM74 360h1v1h-1zM84 350h1v1h-1zM74 370h1v1h-1zM70 364h1v1h-1zM77 354h1v1h-1zM82 354h1v1h-1zM83 347h1v1h-1zM75 365h1v1h-1zM72 364h1v1h-1zM82 345h1v1h-1zM79 354h1v1h-1zM78 348h1v1h-1zM84 346h1v1h-1zM72 359h1v1h-1zM75 363h1v1h-1zM80 346h1v1h-1zM87 355h1v1h-1zM70 370h1v1h-1zM75 356h1v1h-1zM76 367h1v1h-1zM72 365h1v1h-1zM81 354h1v1h-1zM72 366h1v1h-1zM78 350h1v1h-1zM75 354h1v1h-1zM80 345h1v1h-1zM82 351h1v1h-1zM67 367h1v1h-1zM76 364h1v1h-1zM79 350h1v1h-1zM83 348h1v1h-1zM80 355h1v1h-1zM83 349h1v1h-1zM80 350h1v1h-1zM70 365h1v1h-1zM80 347h1v1h-1zM78 354h1v1h-1zM73 364h1v1h-1zM69 371h1v1h-1zM82 358h1v1h-1zM72 354h1v1h-1zM77 359h1v1h-1zM76 361h1v1h-1zM86 351h1v1h-1zM84 348h1v1h-1zM79 355h1v1h-1zM76 356h1v1h-1zM72 369h1v1h-1zM76 357h1v1h-1zM75 364h1v1h-1zM80 361h1v1h-1zM83 350h1v1h-1zM71 357h1v1h-1zM78 361h1v1h-1zM83 351h1v1h-1zM77 356h1v1h-1zM71 367h1v1h-1zM79 357h1v1h-1zM70 366h1v1h-1zM74 357h1v1h-1zM77 348h1v1h-1zM77 360h1v1h-1zM71 361h1v1h-1zM80 351h1v1h-1zM70 369h1v1h-1zM72 363h1v1h-1zM74 353h1v1h-1zM80 360h1v1h-1zM76 365h1v1h-1zM67 370h1v1h-1zM74 361h1v1h-1zM80 354h1v1h-1zM73 361h1v1h-1zM70 371h1v1h-1zM71 370h1v1h-1zM73 360h1v1h-1zM73 371h1v1h-1zM78 359h1v1h-1zM80 353h1v1h-1zM80 357h1v1h-1zM79 347h1v1h-1zM79 364h1v1h-1zM74 369h1v1h-1zM77 346h1v1h-1zM73 369h1v1h-1zM77 353h1v1h-1zM75 369h1v1h-1zM71 369h1v1h-1zM74 362h1v1h-1zM81 350h1v1h-1zM77 355h1v1h-1zM75 355h1v1h-1zM82 350h1v1h-1zM74 364h1v1h-1zM73 367h1v1h-1zM66 370h1v1h-1zM76 362h1v1h-1zM69 370h1v1h-1zM71 368h1v1h-1zM73 366h1v1h-1zM76 371h1v1h-1zM73 362h1v1h-1zM77 361h1v1h-1zM79 363h1v1h-1zM83 346h1v1h-1zM76 355h1v1h-1zM71 371h1v1h-1zM65 367h1v1h-1zM77 358h1v1h-1zM65 369h1v1h-1zM81 348h1v1h-1zM78 366h1v1h-1zM78 347h1v1h-1zM82 352h1v1h-1zM77 357h1v1h-1zM86 346h1v1h-1zM74 356h1v1h-1zM68 364h1v1h-1zM78 365h1v1h-1zM75 371h1v1h-1zM79 345h1v1h-1zM78 364h1v1h-1zM83 344h1v1h-1zM79 352h1v1h-1zM81 356h1v1h-1zM72 357h1v1h-1zM82 359h1v1h-1zM69 367h1v1h-1zM72 367h1v1h-1zM69 369h1v1h-1zM77 370h1v1h-1zM71 365h1v1h-1zM85 347h1v1h-1zM83 354h1v1h-1zM86 350h1v1h-1zM79 361h1v1h-1zM83 352h1v1h-1zM79 343h1v1h-1zM81 357h1v1h-1zM80 362h1v1h-1z"/>
<path fill="#555" d="M71 362h1v1h-1zM68 371h1v1h-1zM66 383h1v1h-1zM70 380h1v1h-1zM70 376h1v1h-1zM77 365h1v1h-1zM75 364h1v1h-1zM58 390h1v1h-1zM76 374h1v1h-1zM66 393h1v1h-1zM59 391h1v1h-1zM78 371h1v1h-1zM66 387h1v1h-1zM72 371h1v1h-1zM80 369h1v1h-1zM64 364h1v1h-1zM64 374h1v1h-1zM72 377h1v1h-1zM62 390h1v1h-1zM73 360h1v1h-1zM76 373h1v1h-1zM65 390h1v1h-1zM60 385h1v1h-1zM63 385h1v1h-1zM74 372h1v1h-1zM68 394h1v1h-1zM66 364h1v1h-1zM77 360h1v1h-1zM69 373h1v1h-1zM67 366h1v1h-1zM59 396h1v1h-1zM63 376h1v1h-1zM59 394h1v1h-1zM74 379h1v1h-1zM69 381h1v1h-1zM78 362h1v1h-1zM69 379h1v1h-1zM64 396h1v1h-1zM65 375h1v1h-1zM65 381h1v1h-1zM77 366h1v1h-1zM58 396h1v1h-1zM65 397h1v1h-1zM62 386h1v1h-1zM75 355h1v1h-1zM76 366h1v1h-1zM76 362h1v1h-1zM70 368h1v1h-1zM71 377h1v1h-1zM74 370h1v1h-1zM69 376h1v1h-1zM75 389h1v1h-1zM75 376h1v1h-1zM76 369h1v1h-1zM74 375h1v1h-1zM81 375h1v1h-1zM74 376h1v1h-1zM63 383h1v1h-1zM65 388h1v1h-1zM67 382h1v1h-1zM61 389h1v1h-1zM73 370h1v1h-1zM75 363h1v1h-1zM67 375h1v1h-1zM68 385h1v1h-1zM65 371h1v1h-1zM69 377h1v1h-1zM67 383h1v1h-1zM66 362h1v1h-1zM79 370h1v1h-1zM64 371h1v1h-1zM60 389h1v1h-1zM79 361h1v1h-1zM72 364h1v1h-1zM60 391h1v1h-1zM56 384h1v1h-1zM71 369h1v1h-1zM67 384h1v1h-1zM67 387h1v1h-1zM62 388h1v1h-1zM66 384h1v1h-1zM73 371h1v1h-1zM67 376h1v1h-1zM67 373h1v1h-1zM67 398h1v1h-1zM64 379h1v1h-1zM78 368h1v1h-1zM75 377h1v1h-1zM64 382h1v1h-1zM75 367h1v1h-1zM68 382h1v1h-1zM62 389h1v1h-1zM73 369h1v1h-1zM66 378h1v1h-1zM66 389h1v1h-1zM71 372h1v1h-1zM62 379h1v1h-1zM68 375h1v1h-1zM64 386h1v1h-1zM66 375h1v1h-1zM63 393h1v1h-1zM69 383h1v1h-1zM58 395h1v1h-1zM71 381h1v1h-1zM72 358h1v1h-1zM62 395h1v1h-1zM69 378h1v1h-1zM72 370h1v1h-1zM70 365h1v1h-1zM63 392h1v1h-1zM67 371h1v1h-1zM63 377h1v1h-1zM63 370h1v1h-1zM71 382h1v1h-1zM71 364h1v1h-1zM48 392h1v1h-1zM68 378h1v1h-1zM75 372h1v1h-1zM67 396h1v1h-1zM66 381h1v1h-1zM73 357h1v1h-1zM62 394h1v1h-1zM79 369h1v1h-1zM75 365h1v1h-1zM56 388h1v1h-1zM74 362h1v1h-1zM67 369h1v1h-1zM58 392h1v1h-1zM84 361h1v1h-1zM73 392h1v1h-1zM63 391h1v1h-1zM64 380h1v1h-1zM68 384h1v1h-1zM65 393h1v1h-1zM72 379h1v1h-1zM61 375h1v1h-1zM59 379h1v1h-1zM77 376h1v1h-1zM68 374h1v1h-1zM75 368h1v1h-1zM73 373h1v1h-1zM61 383h1v1h-1zM71 387h1v1h-1zM67 379h1v1h-1zM65 369h1v1h-1zM79 368h1v1h-1zM72 384h1v1h-1zM79 365h1v1h-1zM79 363h1v1h-1zM82 362h1v1h-1zM66 377h1v1h-1zM67 391h1v1h-1zM77 368h1v1h-1zM67 367h1v1h-1zM56 390h1v1h-1zM70 367h1v1h-1zM75 366h1v1h-1zM63 386h1v1h-1zM70 373h1v1h-1zM61 394h1v1h-1zM65 386h1v1h-1zM64 392h1v1h-1zM72 374h1v1h-1zM67 380h1v1h-1zM77 361h1v1h-1zM69 372h1v1h-1zM70 382h1v1h-1zM66 379h1v1h-1zM65 387h1v1h-1zM65 378h1v1h-1zM72 366h1v1h-1zM73 368h1v1h-1zM65 379h1v1h-1zM63 378h1v1h-1zM66 395h1v1h-1zM60 378h1v1h-1zM69 375h1v1h-1zM63 372h1v1h-1zM55 395h1v1h-1zM72 380h1v1h-1zM58 394h1v1h-1zM68 363h1v1h-1zM78 360h1v1h-1zM61 391h1v1h-1zM76 378h1v1h-1zM62 383h1v1h-1zM75 371h1v1h-1zM78 365h1v1h-1zM66 374h1v1h-1zM78 364h1v1h-1zM73 366h1v1h-1zM71 376h1v1h-1zM69 380h1v1h-1zM82 363h1v1h-1zM70 381h1v1h-1zM60 373h1v1h-1zM70 371h1v1h-1zM65 366h1v1h-1zM70 372h1v1h-1zM64 375h1v1h-1zM74 366h1v1h-1zM73 364h1v1h-1zM81 364h1v1h-1zM79 359h1v1h-1zM67 372h1v1h-1zM75 374h1v1h-1zM73 380h1v1h-1zM71 371h1v1h-1zM71 366h1v1h-1zM62 384h1v1h-1zM72 356h1v1h-1zM77 371h1v1h-1zM65 363h1v1h-1zM78 369h1v1h-1zM74 367h1v1h-1zM70 363h1v1h-1zM80 360h1v1h-1zM67 388h1v1h-1zM75 379h1v1h-1zM79 364h1v1h-1zM75 361h1v1h-1zM64 385h1v1h-1zM75 370h1v1h-1zM65 385h1v1h-1zM70 375h1v1h-1zM64 393h1v1h-1zM62 381h1v1h-1zM74 369h1v1h-1zM78 361h1v1h-1zM69 386h1v1h-1zM69 384h1v1h-1zM74 363h1v1h-1zM63 374h1v1h-1zM72 367h1v1h-1zM66 380h1v1h-1zM83 367h1v1h-1zM60 379h1v1h-1zM79 366h1v1h-1zM68 390h1v1h-1zM59 388h1v1h-1zM69 368h1v1h-1zM76 367h1v1h-1zM60 394h1v1h-1zM72 387h1v1h-1zM72 372h1v1h-1zM66 388h1v1h-1zM72 363h1v1h-1zM73 367h1v1h-1zM70 377h1v1h-1zM63 375h1v1h-1zM71 375h1v1h-1zM76 363h1v1h-1zM68 370h1v1h-1zM59 389h1v1h-1zM76 379h1v1h-1zM66 369h1v1h-1zM71 370h1v1h-1zM60 393h1v1h-1zM68 389h1v1h-1zM74 373h1v1h-1zM70 394h1v1h-1zM77 359h1v1h-1zM67 385h1v1h-1zM69 389h1v1h-1zM68 369h1v1h-1zM80 365h1v1h-1zM74 383h1v1h-1zM73 372h1v1h-1zM72 383h1v1h-1zM67 378h1v1h-1zM65 389h1v1h-1zM71 389h1v1h-1zM70 379h1v1h-1zM66 386h1v1h-1zM65 372h1v1h-1zM77 373h1v1h-1zM70 397h1v1h-1zM65 377h1v1h-1zM73 361h1v1h-1zM65 380h1v1h-1zM65 396h1v1h-1zM69 366h1v1h-1z"/>
<path fill="#1a1a1a" d="M66 392h1v1h-1zM63 388h1v1h-1zM72 379h1v1h-1zM67 383h1v1h-1zM71 384h1v1h-1zM59 390h1v1h-1zM69 386h1v1h-1zM63 385h1v1h-1zM66 391h1v1h-1zM65 380h1v1h-1zM73 373h1v1h-1zM68 375h1v1h-1zM62 377h1v1h-1zM64 379h1v1h-1zM66 381h1v1h-1zM68 378h1v1h-1zM61 377h1v1h-1zM63 381h1v1h-1zM66 376h1v1h-1zM64 384h1v1h-1zM73 368h1v1h-1zM67 374h1v1h-1zM63 377h1v1h-1zM69 377h1v1h-1zM64 385h1v1h-1zM67 387h1v1h-1zM66 380h1v1h-1zM73 371h1v1h-1zM69 368h1v1h-1zM70 375h1v1h-1zM72 372h1v1h-1zM65 377h1v1h-1zM64 387h1v1h-1zM64 380h1v1h-1zM70 379h1v1h-1zM75 384h1v1h-1zM71 377h1v1h-1zM66 383h1v1h-1zM73 375h1v1h-1zM73 370h1v1h-1zM71 379h1v1h-1zM66 386h1v1h-1zM71 390h1v1h-1zM73 376h1v1h-1zM64 373h1v1h-1zM72 371h1v1h-1zM57 387h1v1h-1zM66 375h1v1h-1zM67 377h1v1h-1zM64 381h1v1h-1zM72 374h1v1h-1zM70 378h1v1h-1zM63 391h1v1h-1zM65 384h1v1h-1zM65 382h1v1h-1zM69 385h1v1h-1zM67 385h1v1h-1zM77 372h1v1h-1zM69 373h1v1h-1zM69 379h1v1h-1zM70 373h1v1h-1zM65 390h1v1h-1zM74 375h1v1h-1zM67 380h1v1h-1zM68 381h1v1h-1zM72 375h1v1h-1zM67 379h1v1h-1zM71 373h1v1h-1zM74 368h1v1h-1zM68 384h1v1h-1zM64 383h1v1h-1zM63 392h1v1h-1zM71 381h1v1h-1zM62 389h1v1h-1zM66 385h1v1h-1zM65 379h1v1h-1zM73 369h1v1h-1zM69 388h1v1h-1zM69 376h1v1h-1zM59 391h1v1h-1zM66 390h1v1h-1zM60 386h1v1h-1zM65 378h1v1h-1zM71 370h1v1h-1zM66 371h1v1h-1zM68 386h1v1h-1zM65 370h1v1h-1zM70 368h1v1h-1zM67 386h1v1h-1zM65 388h1v1h-1zM68 385h1v1h-1zM67 384h1v1h-1zM59 383h1v1h-1zM63 374h1v1h-1zM69 371h1v1h-1zM69 372h1v1h-1zM63 386h1v1h-1zM74 376h1v1h-1zM68 382h1v1h-1zM74 373h1v1h-1zM74 369h1v1h-1zM69 382h1v1h-1zM66 382h1v1h-1zM69 390h1v1h-1zM65 376h1v1h-1zM68 379h1v1h-1zM65 387h1v1h-1zM71 364h1v1h-1zM69 381h1v1h-1zM72 376h1v1h-1zM72 373h1v1h-1zM60 389h1v1h-1zM76 379h1v1h-1zM62 391h1v1h-1zM71 378h1v1h-1zM74 370h1v1h-1zM70 389h1v1h-1zM73 372h1v1h-1zM63 389h1v1h-1zM68 372h1v1h-1zM70 367h1v1h-1zM69 378h1v1h-1zM73 367h1v1h-1zM62 387h1v1h-1zM69 375h1v1h-1zM68 377h1v1h-1zM66 388h1v1h-1zM65 383h1v1h-1zM66 384h1v1h-1zM73 374h1v1h-1zM75 367h1v1h-1zM68 376h1v1h-1zM75 377h1v1h-1zM66 373h1v1h-1zM63 384h1v1h-1zM71 374h1v1h-1zM75 375h1v1h-1zM63 383h1v1h-1zM67 381h1v1h-1zM64 392h1v1h-1zM72 381h1v1h-1zM69 384h1v1h-1zM59 387h1v1h-1zM68 374h1v1h-1zM62 392h1v1h-1zM63 379h1v1h-1zM68 383h1v1h-1zM72 377h1v1h-1zM74 371h1v1h-1zM67 375h1v1h-1zM72 378h1v1h-1zM64 388h1v1h-1zM62 382h1v1h-1zM65 381h1v1h-1zM70 371h1v1h-1zM63 380h1v1h-1zM68 371h1v1h-1zM67 370h1v1h-1zM70 380h1v1h-1zM67 388h1v1h-1zM58 383h1v1h-1zM71 375h1v1h-1zM59 386h1v1h-1zM71 380h1v1h-1zM74 378h1v1h-1zM55 387h1v1h-1zM64 391h1v1h-1zM61 372h1v1h-1zM71 371h1v1h-1zM70 377h1v1h-1zM65 392h1v1h-1zM70 381h1v1h-1zM70 364h1v1h-1zM75 370h1v1h-1zM69 380h1v1h-1zM61 385h1v1h-1zM66 387h1v1h-1zM67 376h1v1h-1zM72 382h1v1h-1zM68 390h1v1h-1zM75 369h1v1h-1zM72 387h1v1h-1zM71 372h1v1h-1zM61 390h1v1h-1zM67 382h1v1h-1zM65 386h1v1h-1zM68 387h1v1h-1zM73 377h1v1h-1zM70 372h1v1h-1zM71 387h1v1h-1zM67 371h1v1h-1zM63 378h1v1h-1zM72 369h1v1h-1zM68 380h1v1h-1zM71 369h1v1h-1zM58 382h1v1h-1zM64 389h1v1h-1zM76 372h1v1h-1zM64 377h1v1h-1zM57 381h1v1h-1zM72 380h1v1h-1zM64 376h1v1h-1zM70 365h1v1h-1zM74 381h1v1h-1zM65 385h1v1h-1zM64 386h1v1h-1zM67 372h1v1h-1zM76 374h1v1h-1zM63 382h1v1h-1zM61 391h1v1h-1zM77 371h1v1h-1zM74 372h1v1h-1zM62 384h1v1h-1zM66 374h1v1h-1zM69 374h1v1h-1zM71 376h1v1h-1zM74 379h1v1h-1zM66 378h1v1h-1zM69 367h1v1h-1zM69 364h1v1h-1zM71 385h1v1h-1zM59 388h1v1h-1zM71 366h1v1h-1zM80 370h1v1h-1zM68 370h1v1h-1zM59 382h1v1h-1zM59 392h1v1h-1zM60 377h1v1h-1zM61 379h1v1h-1zM62 386h1v1h-1zM62 379h1v1h-1zM65 374h1v1h-1zM60 384h1v1h-1zM62 378h1v1h-1zM64 382h1v1h-1zM69 369h1v1h-1zM69 383h1v1h-1zM72 370h1v1h-1zM67 373h1v1h-1zM58 390h1v1h-1zM67 391h1v1h-1zM63 387h1v1h-1zM62 376h1v1h-1zM60 383h1v1h-1zM76 375h1v1h-1zM64 393h1v1h-1zM67 378h1v1h-1zM66 377h1v1h-1zM60 380h1v1h-1zM75 381h1v1h-1zM61 384h1v1h-1zM70 370h1v1h-1zM70 369h1v1h-1zM72 366h1v1h-1zM71 382h1v1h-1zM64 390h1v1h-1zM61 380h1v1h-1zM65 393h1v1h-1zM61 381h1v1h-1zM62 385h1v1h-1zM70 366h1v1h-1zM62 380h1v1h-1zM61 388h1v1h-1zM62 390h1v1h-1zM70 382h1v1h-1zM72 367h1v1h-1zM77 377h1v1h-1zM68 373h1v1h-1zM65 375h1v1h-1zM71 368h1v1h-1zM72 364h1v1h-1zM68 394h1v1h-1zM76 377h1v1h-1zM70 374h1v1h-1zM67 368h1v1h-1zM57 384h1v1h-1zM70 383h1v1h-1zM63 390h1v1h-1zM62 383h1v1h-1zM70 376h1v1h-1zM71 386h1v1h-1zM76 371h1v1h-1zM59 378h1v1h-1zM62 374h1v1h-1zM62 388h1v1h-1zM75 368h1v1h-1zM56 384h1v1h-1z"/>
<path fill="#888" d="M186 357h1v1h-1zM196 379h1v1h-1zM187 363h1v1h-1zM164 368h1v1h-1zM172 349h1v1h-1zM183 386h1v1h-1zM197 399h1v1h-1zM205 390h1v1h-1zM208 351h1v1h-1zM180 359h1v1h-1zM207 355h1v1h-1zM180 405h1v1h-1zM171 367h1v1h-1zM167 394h1v1h-1zM184 356h1v1h-1zM198 347h1v1h-1zM191 366h1v1h-1zM187 371h1v1h-1zM183 370h1v1h-1zM178 362h1v1h-1zM191 378h1v1h-1zM189 392h1v1h-1zM186 364h1v1h-1zM194 359h1v1h-1zM186 383h1v1h-1zM195 369h1v1h-1zM185 359h1v1h-1zM198 403h1v1h-1zM172 355h1v1h-1zM179 368h1v1h-1zM176 361h1v1h-1zM203 394h1v1h-1zM189 385h1v1h-1zM206 400h1v1h-1zM188 359h1v1h-1zM206 395h1v1h-1zM197 385h1v1h-1zM176 358h1v1h-1zM176 370h1v1h-1zM197 352h1v1h-1zM191 350h1v1h-1zM179 361h1v1h-1zM167 383h1v1h-1zM164 351h1v1h-1zM163 352h1v1h-1zM188 397h1v1h-1zM167 386h1v1h-1zM164 395h1v1h-1zM163 390h1v1h-1zM189 382h1v1h-1zM197 371h1v1h-1zM204 387h1v1h-1zM184 365h1v1h-1zM197 391h1v1h-1z"/>
<path fill="#777" d="M175 391h1v1h-1zM157 389h1v1h-1zM149 396h1v1h-1zM172 380h1v1h-1zM168 381h1v1h-1zM172 383h1v1h-1zM175 393h1v1h-1zM167 377h1v1h-1zM156 380h1v1h-1zM168 366h1v1h-1zM163 381h1v1h-1zM167 370h1v1h-1zM152 395h1v1h-1zM177 376h1v1h-1zM160 387h1v1h-1zM173 349h1v1h-1zM170 353h1v1h-1zM163 367h1v1h-1zM171 383h1v1h-1zM161 383h1v1h-1zM150 397h1v1h-1zM168 375h1v1h-1zM155 394h1v1h-1zM161 396h1v1h-1zM155 393h1v1h-1zM168 367h1v1h-1zM173 383h1v1h-1zM174 357h1v1h-1zM163 389h1v1h-1zM175 375h1v1h-1zM167 359h1v1h-1zM150 395h1v1h-1zM164 374h1v1h-1zM176 364h1v1h-1zM175 389h1v1h-1zM172 373h1v1h-1zM176 365h1v1h-1zM166 361h1v1h-1zM157 384h1v1h-1zM154 397h1v1h-1zM169 372h1v1h-1zM159 383h1v1h-1zM179 390h1v1h-1zM171 387h1v1h-1zM170 372h1v1h-1zM157 387h1v1h-1zM173 365h1v1h-1zM165 373h1v1h-1zM171 364h1v1h-1zM174 371h1v1h-1zM157 388h1v1h-1zM173 348h1v1h-1zM171 370h1v1h-1zM166 390h1v1h-1zM168 388h1v1h-1zM160 378h1v1h-1zM167 368h1v1h-1zM176 376h1v1h-1zM168 383h1v1h-1zM162 370h1v1h-1zM166 373h1v1h-1zM166 380h1v1h-1zM167 385h1v1h-1zM169 380h1v1h-1zM173 379h1v1h-1zM153 398h1v1h-1zM167 392h1v1h-1zM165 371h1v1h-1zM178 383h1v1h-1zM154 398h1v1h-1zM172 355h1v1h-1zM173 384h1v1h-1zM167 363h1v1h-1zM168 392h1v1h-1zM169 376h1v1h-1zM172 374h1v1h-1zM169 392h1v1h-1zM174 361h1v1h-1zM170 378h1v1h-1zM165 367h1v1h-1zM173 356h1v1h-1zM178 387h1v1h-1zM167 374h1v1h-1zM157 380h1v1h-1zM170 364h1v1h-1zM162 384h1v1h-1zM165 365h1v1h-1zM167 365h1v1h-1zM174 387h1v1h-1zM169 362h1v1h-1zM172 376h1v1h-1zM159 389h1v1h-1zM166 384h1v1h-1zM160 392h1v1h-1zM157 390h1v1h-1zM153 395h1v1h-1zM160 389h1v1h-1zM157 392h1v1h-1zM179 381h1v1h-1zM170 356h1v1h-1zM174 384h1v1h-1zM171 373h1v1h-1zM161 392h1v1h-1zM170 357h1v1h-1zM166 388h1v1h-1zM161 391h1v1h-1zM163 382h1v1h-1zM173 362h1v1h-1zM167 382h1v1h-1zM176 375h1v1h-1zM176 371h1v1h-1zM169 386h1v1h-1zM173 392h1v1h-1zM157 397h1v1h-1zM170 354h1v1h-1zM177 389h1v1h-1zM162 394h1v1h-1zM167 395h1v1h-1zM173 386h1v1h-1zM180 390h1v1h-1zM154 387h1v1h-1zM170 379h1v1h-1zM165 393h1v1h-1zM175 373h1v1h-1zM157 395h1v1h-1zM166 383h1v1h-1zM175 386h1v1h-1zM173 377h1v1h-1zM165 382h1v1h-1zM173 373h1v1h-1zM160 393h1v1h-1zM165 368h1v1h-1zM174 364h1v1h-1zM158 380h1v1h-1zM162 388h1v1h-1zM165 379h1v1h-1zM168 372h1v1h-1zM169 369h1v1h-1zM152 398h1v1h-1zM165 374h1v1h-1zM155 392h1v1h-1zM168 360h1v1h-1zM162 389h1v1h-1zM173 371h1v1h-1zM155 391h1v1h-1zM176 370h1v1h-1zM163 391h1v1h-1zM169 365h1v1h-1zM158 395h1v1h-1zM179 379h1v1h-1zM175 365h1v1h-1zM174 393h1v1h-1zM163 386h1v1h-1zM170 377h1v1h-1zM162 380h1v1h-1zM172 353h1v1h-1zM159 390h1v1h-1zM178 377h1v1h-1zM157 394h1v1h-1zM168 357h1v1h-1zM172 356h1v1h-1zM177 369h1v1h-1zM158 389h1v1h-1zM168 378h1v1h-1zM170 385h1v1h-1zM178 390h1v1h-1zM165 364h1v1h-1zM155 389h1v1h-1zM159 396h1v1h-1zM166 364h1v1h-1zM171 385h1v1h-1zM151 399h1v1h-1zM175 392h1v1h-1zM170 387h1v1h-1zM159 387h1v1h-1zM177 387h1v1h-1zM176 382h1v1h-1zM177 380h1v1h-1zM174 385h1v1h-1zM171 391h1v1h-1zM174 374h1v1h-1zM154 389h1v1h-1zM152 390h1v1h-1zM173 360h1v1h-1zM174 380h1v1h-1zM166 376h1v1h-1zM161 377h1v1h-1zM174 353h1v1h-1zM159 376h1v1h-1zM162 386h1v1h-1zM177 377h1v1h-1zM176 391h1v1h-1zM177 383h1v1h-1zM173 355h1v1h-1zM174 356h1v1h-1zM168 394h1v1h-1zM161 380h1v1h-1zM167 389h1v1h-1zM165 386h1v1h-1zM167 360h1v1h-1zM175 369h1v1h-1zM169 378h1v1h-1zM165 383h1v1h-1zM159 379h1v1h-1zM178 391h1v1h-1zM171 375h1v1h-1zM176 383h1v1h-1zM155 388h1v1h-1zM155 384h1v1h-1zM164 386h1v1h-1zM176 389h1v1h-1zM174 389h1v1h-1zM173 358h1v1h-1zM180 387h1v1h-1zM171 354h1v1h-1zM171 388h1v1h-1zM148 398h1v1h-1zM156 395h1v1h-1zM166 393h1v1h-1zM171 389h1v1h-1zM149 398h1v1h-1z"/>
<path fill="#333" d="M162 364h1v1h-1zM169 359h1v1h-1zM165 364h1v1h-1zM158 380h1v1h-1zM151 389h1v1h-1zM151 388h1v1h-1zM170 363h1v1h-1zM158 373h1v1h-1zM161 373h1v1h-1zM173 355h1v1h-1zM152 382h1v1h-1zM164 371h1v1h-1zM155 384h1v1h-1zM156 385h1v1h-1zM151 386h1v1h-1zM151 380h1v1h-1zM163 381h1v1h-1zM163 366h1v1h-1zM157 386h1v1h-1zM173 354h1v1h-1zM169 358h1v1h-1zM162 374h1v1h-1zM164 372h1v1h-1zM166 371h1v1h-1zM171 356h1v1h-1zM163 377h1v1h-1zM152 389h1v1h-1zM167 358h1v1h-1zM171 352h1v1h-1zM166 364h1v1h-1zM158 382h1v1h-1zM165 377h1v1h-1zM156 389h1v1h-1zM167 360h1v1h-1zM158 391h1v1h-1zM157 383h1v1h-1zM162 372h1v1h-1zM160 379h1v1h-1zM165 362h1v1h-1zM159 370h1v1h-1zM165 366h1v1h-1zM154 385h1v1h-1zM160 376h1v1h-1zM168 357h1v1h-1zM155 382h1v1h-1zM156 373h1v1h-1zM167 359h1v1h-1zM169 368h1v1h-1zM162 377h1v1h-1zM171 351h1v1h-1zM164 373h1v1h-1zM153 385h1v1h-1zM164 364h1v1h-1zM168 362h1v1h-1zM161 364h1v1h-1zM154 388h1v1h-1zM150 397h1v1h-1zM156 394h1v1h-1zM159 373h1v1h-1zM158 381h1v1h-1zM157 378h1v1h-1zM156 380h1v1h-1zM150 380h1v1h-1zM161 368h1v1h-1zM169 364h1v1h-1zM158 379h1v1h-1zM159 391h1v1h-1zM168 361h1v1h-1zM158 372h1v1h-1zM156 383h1v1h-1zM153 399h1v1h-1zM161 367h1v1h-1zM155 387h1v1h-1zM167 367h1v1h-1zM155 381h1v1h-1zM164 354h1v1h-1zM156 384h1v1h-1zM154 374h1v1h-1zM162 369h1v1h-1zM170 364h1v1h-1zM159 381h1v1h-1zM170 354h1v1h-1zM159 390h1v1h-1zM161 376h1v1h-1zM169 362h1v1h-1zM153 386h1v1h-1zM159 376h1v1h-1zM168 353h1v1h-1zM157 385h1v1h-1zM168 358h1v1h-1zM146 388h1v1h-1zM165 367h1v1h-1zM147 383h1v1h-1zM154 373h1v1h-1zM164 368h1v1h-1zM155 379h1v1h-1zM169 354h1v1h-1zM163 373h1v1h-1zM155 375h1v1h-1zM165 361h1v1h-1zM159 383h1v1h-1zM150 392h1v1h-1zM164 370h1v1h-1zM163 370h1v1h-1zM162 365h1v1h-1zM165 369h1v1h-1zM162 375h1v1h-1zM161 372h1v1h-1zM158 383h1v1h-1zM163 367h1v1h-1zM148 394h1v1h-1zM163 365h1v1h-1zM162 379h1v1h-1zM158 384h1v1h-1zM175 357h1v1h-1zM156 392h1v1h-1zM170 357h1v1h-1zM166 359h1v1h-1zM149 392h1v1h-1zM168 367h1v1h-1zM168 355h1v1h-1zM167 361h1v1h-1zM155 386h1v1h-1zM170 355h1v1h-1zM170 362h1v1h-1zM156 376h1v1h-1zM171 354h1v1h-1zM160 370h1v1h-1zM158 376h1v1h-1zM166 373h1v1h-1zM156 387h1v1h-1zM167 364h1v1h-1zM160 375h1v1h-1zM159 374h1v1h-1zM166 366h1v1h-1zM169 355h1v1h-1zM161 374h1v1h-1zM153 389h1v1h-1zM167 366h1v1h-1zM160 377h1v1h-1zM157 376h1v1h-1zM156 370h1v1h-1zM163 362h1v1h-1zM167 365h1v1h-1zM155 392h1v1h-1zM156 375h1v1h-1zM148 396h1v1h-1zM157 381h1v1h-1zM170 351h1v1h-1zM169 361h1v1h-1zM172 356h1v1h-1zM163 375h1v1h-1zM161 379h1v1h-1zM166 360h1v1h-1zM167 357h1v1h-1zM169 363h1v1h-1zM154 389h1v1h-1zM155 380h1v1h-1zM167 363h1v1h-1zM160 378h1v1h-1zM169 350h1v1h-1zM167 370h1v1h-1zM166 368h1v1h-1zM164 369h1v1h-1zM157 380h1v1h-1zM170 353h1v1h-1zM172 354h1v1h-1zM162 381h1v1h-1zM163 368h1v1h-1zM168 360h1v1h-1zM154 391h1v1h-1zM154 380h1v1h-1zM151 383h1v1h-1zM164 367h1v1h-1zM158 385h1v1h-1zM166 358h1v1h-1zM147 393h1v1h-1zM161 378h1v1h-1zM151 395h1v1h-1zM162 373h1v1h-1zM162 378h1v1h-1zM153 390h1v1h-1zM150 384h1v1h-1zM159 377h1v1h-1zM157 389h1v1h-1zM171 360h1v1h-1zM174 353h1v1h-1zM156 379h1v1h-1zM161 370h1v1h-1zM162 366h1v1h-1zM168 373h1v1h-1zM156 382h1v1h-1zM171 353h1v1h-1zM154 394h1v1h-1z"/>
<path fill="#666" d="M292 363h1v1h-1zM282 379h1v1h-1zM275 391h1v1h-1zM290 360h1v1h-1zM284 386h1v1h-1zM261 400h1v1h-1zM283 351h1v1h-1zM287 399h1v1h-1zM266 394h1v1h-1zM283 382h1v1h-1zM294 370h1v1h-1zM282 397h1v1h-1zM292 391h1v1h-1zM285 364h1v1h-1zM294 396h1v1h-1zM259 401h1v1h-1zM295 401h1v1h-1zM265 403h1v1h-1zM282 357h1v1h-1zM283 398h1v1h-1zM288 372h1v1h-1zM280 362h1v1h-1zM293 397h1v1h-1zM280 401h1v1h-1zM288 357h1v1h-1zM281 370h1v1h-1zM278 384h1v1h-1zM282 400h1v1h-1zM287 384h1v1h-1zM288 355h1v1h-1zM275 395h1v1h-1zM285 403h1v1h-1zM280 366h1v1h-1zM289 398h1v1h-1zM276 403h1v1h-1zM295 382h1v1h-1zM290 399h1v1h-1zM266 391h1v1h-1zM286 403h1v1h-1zM277 393h1v1h-1zM279 375h1v1h-1zM270 394h1v1h-1zM288 377h1v1h-1zM292 378h1v1h-1zM286 345h1v1h-1zM285 359h1v1h-1zM281 368h1v1h-1zM293 393h1v1h-1zM298 386h1v1h-1zM281 381h1v1h-1zM280 390h1v1h-1zM275 377h1v1h-1zM277 377h1v1h-1zM278 390h1v1h-1zM278 395h1v1h-1zM268 395h1v1h-1zM277 388h1v1h-1zM260 403h1v1h-1zM270 404h1v1h-1zM287 402h1v1h-1zM293 375h1v1h-1zM270 395h1v1h-1zM288 362h1v1h-1zM268 404h1v1h-1zM297 389h1v1h-1zM282 358h1v1h-1zM277 363h1v1h-1zM298 392h1v1h-1zM275 393h1v1h-1zM281 383h1v1h-1zM295 398h1v1h-1zM276 397h1v1h-1zM279 396h1v1h-1zM287 380h1v1h-1zM297 392h1v1h-1zM288 360h1v1h-1zM285 393h1v1h-1zM276 393h1v1h-1zM300 396h1v1h-1zM274 372h1v1h-1zM286 372h1v1h-1zM288 383h1v1h-1zM269 391h1v1h-1zM293 384h1v1h-1zM278 400h1v1h-1zM276 389h1v1h-1zM290 397h1v1h-1zM267 397h1v1h-1zM282 370h1v1h-1zM284 355h1v1h-1zM285 381h1v1h-1zM281 377h1v1h-1zM282 380h1v1h-1zM274 369h1v1h-1zM269 398h1v1h-1zM286 350h1v1h-1zM287 383h1v1h-1zM285 368h1v1h-1zM295 394h1v1h-1zM285 397h1v1h-1zM275 390h1v1h-1zM264 403h1v1h-1zM293 378h1v1h-1zM284 353h1v1h-1zM291 368h1v1h-1zM297 396h1v1h-1zM279 369h1v1h-1zM295 390h1v1h-1zM291 362h1v1h-1zM259 399h1v1h-1zM294 380h1v1h-1zM287 375h1v1h-1zM259 400h1v1h-1zM282 394h1v1h-1zM294 390h1v1h-1zM296 401h1v1h-1zM297 398h1v1h-1zM286 347h1v1h-1zM263 401h1v1h-1zM281 369h1v1h-1zM273 395h1v1h-1zM286 376h1v1h-1zM277 375h1v1h-1zM284 382h1v1h-1zM286 346h1v1h-1zM279 399h1v1h-1zM287 374h1v1h-1zM293 391h1v1h-1zM276 365h1v1h-1zM284 361h1v1h-1zM285 350h1v1h-1zM286 385h1v1h-1zM289 382h1v1h-1zM289 394h1v1h-1zM270 386h1v1h-1zM294 389h1v1h-1zM281 365h1v1h-1zM288 380h1v1h-1zM260 399h1v1h-1z"/>
<path fill="#777" d="M299 372h1v1h-1zM295 357h1v1h-1zM300 382h1v1h-1zM302 364h1v1h-1zM300 370h1v1h-1zM300 389h1v1h-1zM298 359h1v1h-1zM301 365h1v1h-1zM298 362h1v1h-1zM300 391h1v1h-1zM289 345h1v1h-1zM298 367h1v1h-1zM301 391h1v1h-1zM300 359h1v1h-1zM302 359h1v1h-1zM289 344h1v1h-1zM301 357h1v1h-1zM301 360h1v1h-1zM296 364h1v1h-1zM299 369h1v1h-1zM293 364h1v1h-1zM300 342h1v1h-1zM303 372h1v1h-1zM299 342h1v1h-1zM300 375h1v1h-1zM302 377h1v1h-1zM302 367h1v1h-1zM293 362h1v1h-1zM295 359h1v1h-1zM303 358h1v1h-1zM301 366h1v1h-1zM300 379h1v1h-1zM293 359h1v1h-1zM296 342h1v1h-1zM292 360h1v1h-1zM289 342h1v1h-1zM298 380h1v1h-1zM301 388h1v1h-1zM301 363h1v1h-1zM303 344h1v1h-1zM303 386h1v1h-1zM297 355h1v1h-1zM296 341h1v1h-1zM289 346h1v1h-1zM303 387h1v1h-1zM298 384h1v1h-1zM299 365h1v1h-1zM302 351h1v1h-1zM299 367h1v1h-1zM296 373h1v1h-1zM298 378h1v1h-1zM298 369h1v1h-1zM301 383h1v1h-1zM303 348h1v1h-1zM301 342h1v1h-1z"/>
<path fill="#777" d="M288 397h1v1h-1zM290 368h1v1h-1zM297 387h1v1h-1zM285 377h1v1h-1zM299 372h1v1h-1zM302 374h1v1h-1zM299 385h1v1h-1zM294 369h1v1h-1zM293 380h1v1h-1zM295 377h1v1h-1zM291 387h1v1h-1zM290 378h1v1h-1zM297 382h1v1h-1zM295 393h1v1h-1zM292 382h1v1h-1zM280 373h1v1h-1zM300 375h1v1h-1zM302 380h1v1h-1zM290 376h1v1h-1zM295 374h1v1h-1zM288 375h1v1h-1zM298 386h1v1h-1zM293 378h1v1h-1zM294 384h1v1h-1zM301 389h1v1h-1zM292 390h1v1h-1zM293 371h1v1h-1zM297 383h1v1h-1zM292 388h1v1h-1zM294 386h1v1h-1zM299 384h1v1h-1zM301 366h1v1h-1zM288 398h1v1h-1zM296 370h1v1h-1zM294 380h1v1h-1zM296 388h1v1h-1zM291 388h1v1h-1zM288 384h1v1h-1zM289 385h1v1h-1zM292 377h1v1h-1zM287 383h1v1h-1zM294 378h1v1h-1zM288 395h1v1h-1zM289 377h1v1h-1zM297 375h1v1h-1zM293 384h1v1h-1zM287 387h1v1h-1zM288 378h1v1h-1zM288 403h1v1h-1zM284 380h1v1h-1zM286 381h1v1h-1zM289 380h1v1h-1zM285 383h1v1h-1zM282 375h1v1h-1zM299 387h1v1h-1zM293 379h1v1h-1zM285 398h1v1h-1zM294 381h1v1h-1zM291 377h1v1h-1zM299 378h1v1h-1zM291 376h1v1h-1zM292 381h1v1h-1zM292 379h1v1h-1zM287 388h1v1h-1zM295 379h1v1h-1zM296 381h1v1h-1zM286 377h1v1h-1zM301 387h1v1h-1zM302 379h1v1h-1zM288 374h1v1h-1zM296 382h1v1h-1zM290 379h1v1h-1zM296 373h1v1h-1zM296 386h1v1h-1zM296 390h1v1h-1zM298 388h1v1h-1zM288 386h1v1h-1zM284 395h1v1h-1zM294 385h1v1h-1zM285 386h1v1h-1zM287 389h1v1h-1zM300 381h1v1h-1zM289 388h1v1h-1zM298 379h1v1h-1zM300 383h1v1h-1zM283 402h1v1h-1zM299 375h1v1h-1zM295 378h1v1h-1zM285 381h1v1h-1zM290 374h1v1h-1zM294 390h1v1h-1zM296 371h1v1h-1zM294 373h1v1h-1zM301 376h1v1h-1zM297 379h1v1h-1zM281 388h1v1h-1zM287 377h1v1h-1zM297 377h1v1h-1zM302 370h1v1h-1zM289 369h1v1h-1zM299 377h1v1h-1zM293 374h1v1h-1zM288 372h1v1h-1zM290 377h1v1h-1zM298 364h1v1h-1zM288 387h1v1h-1zM292 375h1v1h-1zM297 371h1v1h-1zM297 369h1v1h-1zM299 371h1v1h-1zM295 388h1v1h-1zM284 382h1v1h-1zM289 387h1v1h-1zM282 382h1v1h-1zM290 386h1v1h-1zM294 393h1v1h-1zM295 366h1v1h-1zM291 378h1v1h-1zM282 384h1v1h-1zM297 384h1v1h-1zM293 382h1v1h-1zM291 375h1v1h-1zM302 372h1v1h-1zM291 384h1v1h-1zM294 377h1v1h-1zM291 391h1v1h-1zM279 387h1v1h-1zM302 377h1v1h-1zM292 384h1v1h-1zM293 375h1v1h-1zM287 384h1v1h-1zM295 373h1v1h-1zM296 392h1v1h-1zM298 378h1v1h-1zM299 374h1v1h-1zM300 385h1v1h-1zM295 371h1v1h-1zM296 377h1v1h-1zM297 376h1v1h-1zM289 383h1v1h-1zM297 378h1v1h-1zM299 365h1v1h-1zM299 380h1v1h-1zM285 389h1v1h-1zM294 376h1v1h-1zM287 386h1v1h-1zM289 372h1v1h-1zM285 371h1v1h-1zM295 364h1v1h-1zM298 369h1v1h-1zM291 379h1v1h-1zM300 376h1v1h-1zM291 386h1v1h-1zM287 380h1v1h-1zM285 369h1v1h-1zM293 381h1v1h-1zM285 380h1v1h-1zM298 391h1v1h-1zM292 376h1v1h-1zM290 375h1v1h-1zM296 374h1v1h-1zM296 387h1v1h-1zM293 385h1v1h-1zM295 387h1v1h-1zM302 368h1v1h-1zM301 381h1v1h-1zM298 382h1v1h-1zM293 386h1v1h-1zM295 372h1v1h-1zM292 372h1v1h-1zM301 384h1v1h-1zM290 389h1v1h-1zM283 395h1v1h-1zM300 373h1v1h-1zM303 389h1v1h-1zM288 385h1v1h-1zM299 376h1v1h-1zM293 390h1v1h-1zM290 393h1v1h-1zM300 378h1v1h-1zM290 380h1v1h-1zM301 378h1v1h-1zM293 370h1v1h-1zM286 374h1v1h-1zM289 394h1v1h-1zM294 374h1v1h-1zM301 383h1v1h-1zM298 399h1v1h-1zM289 379h1v1h-1zM284 372h1v1h-1zM290 385h1v1h-1zM293 372h1v1h-1zM296 384h1v1h-1z"/>
<path fill="#888" d="M281 388h1v1h-1zM272 396h1v1h-1zM277 397h1v1h-1zM268 393h1v1h-1zM275 395h1v1h-1zM278 397h1v1h-1zM279 396h1v1h-1zM275 394h1v1h-1zM283 397h1v1h-1zM271 397h1v1h-1zM271 398h1v1h-1zM267 394h1v1h-1zM270 394h1v1h-1zM281 391h1v1h-1zM274 399h1v1h-1zM273 389h1v1h-1zM275 390h1v1h-1zM272 397h1v1h-1zM266 397h1v1h-1zM277 386h1v1h-1zM277 393h1v1h-1zM279 393h1v1h-1zM273 398h1v1h-1zM266 392h1v1h-1zM271 394h1v1h-1zM272 398h1v1h-1zM274 392h1v1h-1zM280 392h1v1h-1zM270 392h1v1h-1zM281 392h1v1h-1zM276 397h1v1h-1zM276 396h1v1h-1zM269 394h1v1h-1zM279 395h1v1h-1zM276 395h1v1h-1zM270 399h1v1h-1zM282 393h1v1h-1zM277 395h1v1h-1zM272 393h1v1h-1zM273 393h1v1h-1zM269 397h1v1h-1zM272 392h1v1h-1zM268 394h1v1h-1zM275 393h1v1h-1zM271 396h1v1h-1zM271 392h1v1h-1zM269 395h1v1h-1zM280 391h1v1h-1zM280 395h1v1h-1zM279 398h1v1h-1zM274 395h1v1h-1zM274 398h1v1h-1zM268 397h1v1h-1zM270 396h1v1h-1zM280 396h1v1h-1zM281 398h1v1h-1zM278 392h1v1h-1zM276 398h1v1h-1zM271 390h1v1h-1zM282 392h1v1h-1zM274 396h1v1h-1zM275 397h1v1h-1zM279 390h1v1h-1zM281 395h1v1h-1zM278 393h1v1h-1zM268 396h1v1h-1zM276 391h1v1h-1zM277 392h1v1h-1zM266 395h1v1h-1zM270 398h1v1h-1zM280 397h1v1h-1zM271 393h1v1h-1zM281 394h1v1h-1zM280 389h1v1h-1zM278 395h1v1h-1zM266 396h1v1h-1zM272 394h1v1h-1zM277 396h1v1h-1zM267 395h1v1h-1zM272 395h1v1h-1zM278 394h1v1h-1zM274 393h1v1h-1zM274 394h1v1h-1zM276 392h1v1h-1zM277 389h1v1h-1zM271 401h1v1h-1z"/>
<path fill="#888" d="M253 397h1v1h-1zM252 403h1v1h-1zM247 392h1v1h-1zM250 395h1v1h-1zM241 392h1v1h-1zM248 394h1v1h-1zM249 396h1v1h-1zM246 389h1v1h-1zM245 389h1v1h-1zM251 394h1v1h-1zM250 396h1v1h-1zM246 393h1v1h-1zM250 393h1v1h-1zM240 399h1v1h-1zM250 399h1v1h-1zM245 396h1v1h-1zM250 397h1v1h-1zM246 395h1v1h-1zM248 392h1v1h-1zM248 402h1v1h-1zM247 394h1v1h-1zM247 390h1v1h-1zM245 395h1v1h-1zM250 391h1v1h-1zM245 397h1v1h-1zM246 390h1v1h-1zM252 393h1v1h-1zM246 403h1v1h-1zM247 397h1v1h-1zM250 394h1v1h-1zM238 395h1v1h-1zM243 399h1v1h-1zM246 399h1v1h-1zM247 395h1v1h-1zM248 391h1v1h-1zM248 390h1v1h-1zM244 398h1v1h-1zM245 393h1v1h-1zM249 388h1v1h-1zM244 399h1v1h-1zM247 402h1v1h-1zM246 397h1v1h-1zM247 396h1v1h-1zM244 392h1v1h-1zM244 397h1v1h-1zM248 396h1v1h-1zM245 398h1v1h-1zM246 396h1v1h-1zM241 393h1v1h-1zM253 395h1v1h-1zM253 392h1v1h-1zM246 391h1v1h-1zM251 396h1v1h-1zM245 399h1v1h-1zM247 398h1v1h-1zM249 398h1v1h-1zM248 397h1v1h-1zM246 400h1v1h-1zM243 398h1v1h-1zM252 395h1v1h-1zM249 393h1v1h-1zM248 393h1v1h-1zM244 394h1v1h-1zM249 394h1v1h-1zM245 392h1v1h-1zM248 399h1v1h-1zM243 395h1v1h-1zM251 395h1v1h-1zM244 393h1v1h-1zM252 394h1v1h-1zM240 397h1v1h-1zM247 391h1v1h-1zM249 401h1v1h-1zM247 400h1v1h-1zM246 394h1v1h-1zM245 400h1v1h-1zM239 398h1v1h-1zM249 390h1v1h-1zM243 400h1v1h-1zM245 390h1v1h-1zM248 395h1v1h-1zM244 395h1v1h-1zM250 398h1v1h-1zM247 393h1v1h-1zM249 389h1v1h-1zM242 399h1v1h-1zM246 401h1v1h-1zM246 392h1v1h-1zM246 398h1v1h-1zM251 397h1v1h-1zM241 394h1v1h-1zM244 401h1v1h-1zM251 389h1v1h-1zM250 389h1v1h-1zM250 390h1v1h-1zM248 388h1v1h-1z"/>
<path fill="#777" d="M271 358h1v1h-1zM266 360h1v1h-1zM268 351h1v1h-1zM265 356h1v1h-1zM262 366h1v1h-1zM264 367h1v1h-1zM270 346h1v1h-1zM272 366h1v1h-1zM266 361h1v1h-1zM261 363h1v1h-1zM267 357h1v1h-1zM271 357h1v1h-1zM270 354h1v1h-1zM264 362h1v1h-1zM266 355h1v1h-1zM266 354h1v1h-1zM260 365h1v1h-1zM266 356h1v1h-1zM271 350h1v1h-1zM266 370h1v1h-1zM264 366h1v1h-1zM263 362h1v1h-1zM263 365h1v1h-1zM270 360h1v1h-1zM265 349h1v1h-1zM272 347h1v1h-1zM273 363h1v1h-1zM265 369h1v1h-1zM269 346h1v1h-1zM266 359h1v1h-1zM263 363h1v1h-1zM278 352h1v1h-1zM263 361h1v1h-1zM270 348h1v1h-1zM268 345h1v1h-1zM258 353h1v1h-1zM264 363h1v1h-1zM268 359h1v1h-1zM271 354h1v1h-1zM270 356h1v1h-1zM263 353h1v1h-1zM268 365h1v1h-1zM269 358h1v1h-1zM265 368h1v1h-1zM270 351h1v1h-1zM262 369h1v1h-1zM267 359h1v1h-1zM267 363h1v1h-1zM269 349h1v1h-1zM271 355h1v1h-1zM261 367h1v1h-1zM268 358h1v1h-1zM268 368h1v1h-1zM263 368h1v1h-1zM262 365h1v1h-1zM265 365h1v1h-1zM269 350h1v1h-1zM269 359h1v1h-1zM264 365h1v1h-1zM273 351h1v1h-1zM268 349h1v1h-1zM261 365h1v1h-1zM269 357h1v1h-1zM266 345h1v1h-1zM262 363h1v1h-1zM262 367h1v1h-1zM267 345h1v1h-1zM261 359h1v1h-1zM265 360h1v1h-1zM266 357h1v1h-1zM272 352h1v1h-1zM267 346h1v1h-1zM262 364h1v1h-1zM263 367h1v1h-1zM265 363h1v1h-1zM267 365h1v1h-1zM264 360h1v1h-1zM264 361h1v1h-1zM262 361h1v1h-1zM266 367h1v1h-1zM257 361h1v1h-1zM273 352h1v1h-1zM265 347h1v1h-1zM272 354h1v1h-1zM273 350h1v1h-1zM261 361h1v1h-1zM266 363h1v1h-1zM264 359h1v1h-1zM255 366h1v1h-1zM267 356h1v1h-1zM266 362h1v1h-1zM268 354h1v1h-1zM268 367h1v1h-1zM267 360h1v1h-1zM276 349h1v1h-1zM267 354h1v1h-1zM269 360h1v1h-1zM275 353h1v1h-1zM270 358h1v1h-1zM266 349h1v1h-1zM264 369h1v1h-1zM262 355h1v1h-1zM267 358h1v1h-1zM267 362h1v1h-1zM267 367h1v1h-1zM265 364h1v1h-1zM264 352h1v1h-1zM273 347h1v1h-1zM275 351h1v1h-1zM270 352h1v1h-1zM265 351h1v1h-1zM267 364h1v1h-1zM273 355h1v1h-1zM272 351h1v1h-1zM264 355h1v1h-1zM266 366h1v1h-1zM268 357h1v1h-1zM271 351h1v1h-1zM269 352h1v1h-1zM259 364h1v1h-1zM264 370h1v1h-1zM263 360h1v1h-1zM269 364h1v1h-1zM272 358h1v1h-1zM267 369h1v1h-1zM269 351h1v1h-1zM272 353h1v1h-1zM263 366h1v1h-1zM271 349h1v1h-1zM262 362h1v1h-1zM275 350h1v1h-1zM268 355h1v1h-1zM263 359h1v1h-1zM267 349h1v1h-1zM261 364h1v1h-1zM267 348h1v1h-1zM270 357h1v1h-1zM268 360h1v1h-1zM269 348h1v1h-1zM268 350h1v1h-1zM265 366h1v1h-1zM264 358h1v1h-1zM259 363h1v1h-1zM272 357h1v1h-1zM265 361h1v1h-1zM263 354h1v1h-1zM269 361h1v1h-1zM270 359h1v1h-1zM270 362h1v1h-1zM272 349h1v1h-1zM270 349h1v1h-1zM264 364h1v1h-1z"/>
<path fill="#555" d="M249 390h1v1h-1zM255 380h1v1h-1zM256 381h1v1h-1zM256 389h1v1h-1zM260 389h1v1h-1zM258 372h1v1h-1zM254 382h1v1h-1zM266 366h1v1h-1zM251 388h1v1h-1zM260 378h1v1h-1zM257 370h1v1h-1zM261 375h1v1h-1zM250 375h1v1h-1zM255 385h1v1h-1zM251 393h1v1h-1zM269 372h1v1h-1zM248 388h1v1h-1zM258 380h1v1h-1zM256 385h1v1h-1zM258 369h1v1h-1zM265 364h1v1h-1zM254 375h1v1h-1zM252 375h1v1h-1zM254 381h1v1h-1zM252 378h1v1h-1zM249 377h1v1h-1zM257 379h1v1h-1zM248 382h1v1h-1zM253 390h1v1h-1zM261 371h1v1h-1zM255 374h1v1h-1zM252 374h1v1h-1zM251 382h1v1h-1zM247 386h1v1h-1zM262 364h1v1h-1zM250 388h1v1h-1zM267 377h1v1h-1zM247 381h1v1h-1zM258 371h1v1h-1zM256 384h1v1h-1zM269 362h1v1h-1zM257 388h1v1h-1zM263 373h1v1h-1zM244 380h1v1h-1zM264 361h1v1h-1zM264 371h1v1h-1zM258 381h1v1h-1zM259 363h1v1h-1zM258 368h1v1h-1zM244 385h1v1h-1zM261 364h1v1h-1zM245 390h1v1h-1zM250 392h1v1h-1zM256 374h1v1h-1zM264 368h1v1h-1zM246 395h1v1h-1zM261 383h1v1h-1zM258 383h1v1h-1zM250 381h1v1h-1zM257 383h1v1h-1zM256 390h1v1h-1zM258 379h1v1h-1zM251 376h1v1h-1zM252 383h1v1h-1zM247 378h1v1h-1zM246 387h1v1h-1zM245 394h1v1h-1zM259 382h1v1h-1zM252 387h1v1h-1zM251 390h1v1h-1zM262 374h1v1h-1zM253 378h1v1h-1zM256 386h1v1h-1zM264 365h1v1h-1zM260 363h1v1h-1zM253 379h1v1h-1zM253 382h1v1h-1zM251 392h1v1h-1zM267 369h1v1h-1zM255 379h1v1h-1zM266 374h1v1h-1zM272 372h1v1h-1zM267 371h1v1h-1zM256 380h1v1h-1zM253 381h1v1h-1zM259 378h1v1h-1zM259 376h1v1h-1zM252 380h1v1h-1zM267 368h1v1h-1zM269 373h1v1h-1zM251 381h1v1h-1zM254 376h1v1h-1zM255 376h1v1h-1zM249 382h1v1h-1zM249 380h1v1h-1zM263 370h1v1h-1zM257 380h1v1h-1zM267 364h1v1h-1zM256 368h1v1h-1zM258 376h1v1h-1zM259 375h1v1h-1zM260 379h1v1h-1zM260 374h1v1h-1zM258 370h1v1h-1zM261 380h1v1h-1zM255 392h1v1h-1zM254 377h1v1h-1zM262 371h1v1h-1zM246 391h1v1h-1zM256 377h1v1h-1zM260 361h1v1h-1zM258 396h1v1h-1zM256 373h1v1h-1zM262 363h1v1h-1zM263 364h1v1h-1zM260 371h1v1h-1zM245 391h1v1h-1zM262 366h1v1h-1zM247 384h1v1h-1zM252 381h1v1h-1zM267 372h1v1h-1zM252 384h1v1h-1zM258 386h1v1h-1zM268 365h1v1h-1zM255 378h1v1h-1zM253 391h1v1h-1zM251 394h1v1h-1zM248 386h1v1h-1zM259 370h1v1h-1zM261 365h1v1h-1zM262 379h1v1h-1zM241 390h1v1h-1zM253 387h1v1h-1zM249 385h1v1h-1zM256 383h1v1h-1zM251 395h1v1h-1zM254 385h1v1h-1zM254 394h1v1h-1zM256 379h1v1h-1zM267 370h1v1h-1zM254 392h1v1h-1zM251 385h1v1h-1zM253 389h1v1h-1zM251 378h1v1h-1zM264 369h1v1h-1zM258 362h1v1h-1zM255 387h1v1h-1zM244 389h1v1h-1zM256 365h1v1h-1zM264 378h1v1h-1zM246 382h1v1h-1zM245 389h1v1h-1zM254 383h1v1h-1zM258 384h1v1h-1zM266 370h1v1h-1zM261 373h1v1h-1zM248 394h1v1h-1zM253 380h1v1h-1zM254 390h1v1h-1zM250 396h1v1h-1zM266 364h1v1h-1zM250 378h1v1h-1zM251 383h1v1h-1zM254 379h1v1h-1zM251 380h1v1h-1zM255 386h1v1h-1zM259 381h1v1h-1zM263 380h1v1h-1zM252 379h1v1h-1zM257 384h1v1h-1zM252 370h1v1h-1zM258 361h1v1h-1zM267 363h1v1h-1zM252 377h1v1h-1zM252 386h1v1h-1zM260 362h1v1h-1zM252 388h1v1h-1zM257 374h1v1h-1zM257 392h1v1h-1zM254 374h1v1h-1zM255 375h1v1h-1zM264 366h1v1h-1zM254 387h1v1h-1zM250 387h1v1h-1zM256 382h1v1h-1zM259 383h1v1h-1zM263 368h1v1h-1zM261 372h1v1h-1zM252 376h1v1h-1zM259 377h1v1h-1zM247 382h1v1h-1zM250 393h1v1h-1zM246 383h1v1h-1zM261 374h1v1h-1zM256 366h1v1h-1zM258 375h1v1h-1zM253 373h1v1h-1zM243 390h1v1h-1zM257 386h1v1h-1zM262 388h1v1h-1zM266 361h1v1h-1zM265 366h1v1h-1zM248 389h1v1h-1zM256 392h1v1h-1zM250 389h1v1h-1zM257 369h1v1h-1zM259 368h1v1h-1zM263 376h1v1h-1zM267 373h1v1h-1zM261 378h1v1h-1zM265 367h1v1h-1zM268 375h1v1h-1zM259 372h1v1h-1zM259 386h1v1h-1zM252 365h1v1h-1zM253 386h1v1h-1zM251 384h1v1h-1zM263 378h1v1h-1zM266 372h1v1h-1zM260 367h1v1h-1zM253 385h1v1h-1zM269 367h1v1h-1zM265 365h1v1h-1zM250 369h1v1h-1zM263 384h1v1h-1zM265 363h1v1h-1zM254 371h1v1h-1zM270 364h1v1h-1zM257 381h1v1h-1zM256 376h1v1h-1zM258 374h1v1h-1zM255 384h1v1h-1zM255 389h1v1h-1zM257 376h1v1h-1zM244 392h1v1h-1zM263 366h1v1h-1zM250 383h1v1h-1zM257 371h1v1h-1zM261 384h1v1h-1zM263 379h1v1h-1zM266 368h1v1h-1zM261 363h1v1h-1zM245 387h1v1h-1zM259 366h1v1h-1zM255 367h1v1h-1zM261 385h1v1h-1zM248 392h1v1h-1zM247 388h1v1h-1zM260 366h1v1h-1zM258 365h1v1h-1zM263 362h1v1h-1zM255 383h1v1h-1zM262 378h1v1h-1zM257 378h1v1h-1zM255 382h1v1h-1zM264 386h1v1h-1zM263 371h1v1h-1zM250 384h1v1h-1zM263 365h1v1h-1zM243 379h1v1h-1zM263 375h1v1h-1zM261 382h1v1h-1zM253 397h1v1h-1zM257 377h1v1h-1zM258 385h1v1h-1zM260 375h1v1h-1zM247 396h1v1h-1zM266 375h1v1h-1zM257 373h1v1h-1zM256 378h1v1h-1zM258 378h1v1h-1zM267 365h1v1h-1zM245 385h1v1h-1zM257 372h1v1h-1zM258 390h1v1h-1zM261 370h1v1h-1zM252 382h1v1h-1zM262 370h1v1h-1z"/>
<path fill="#1a1a1a" d="M256 378h1v1h-1zM256 383h1v1h-1zM259 374h1v1h-1zM255 389h1v1h-1zM259 387h1v1h-1zM264 375h1v1h-1zM255 375h1v1h-1zM257 381h1v1h-1zM252 378h1v1h-1zM254 378h1v1h-1zM258 372h1v1h-1zM250 385h1v1h-1zM253 386h1v1h-1zM251 386h1v1h-1zM256 376h1v1h-1zM256 382h1v1h-1zM258 371h1v1h-1zM265 370h1v1h-1zM264 369h1v1h-1zM253 382h1v1h-1zM254 379h1v1h-1zM263 372h1v1h-1zM254 374h1v1h-1zM254 387h1v1h-1zM258 388h1v1h-1zM254 371h1v1h-1zM266 375h1v1h-1zM247 385h1v1h-1zM255 369h1v1h-1zM252 374h1v1h-1zM254 377h1v1h-1zM255 377h1v1h-1zM255 370h1v1h-1zM258 376h1v1h-1zM259 378h1v1h-1zM260 368h1v1h-1zM259 375h1v1h-1zM260 376h1v1h-1zM258 387h1v1h-1zM252 387h1v1h-1zM255 384h1v1h-1zM263 367h1v1h-1zM258 374h1v1h-1zM252 389h1v1h-1zM262 373h1v1h-1zM250 382h1v1h-1zM259 371h1v1h-1zM258 377h1v1h-1zM260 373h1v1h-1zM257 380h1v1h-1zM254 393h1v1h-1zM264 371h1v1h-1zM250 384h1v1h-1zM262 377h1v1h-1zM252 383h1v1h-1zM260 378h1v1h-1zM255 379h1v1h-1zM251 378h1v1h-1zM257 382h1v1h-1zM248 387h1v1h-1zM254 389h1v1h-1zM254 380h1v1h-1zM259 379h1v1h-1zM252 381h1v1h-1zM250 386h1v1h-1zM250 379h1v1h-1zM253 380h1v1h-1zM254 390h1v1h-1zM254 386h1v1h-1zM250 388h1v1h-1zM258 384h1v1h-1zM258 381h1v1h-1zM256 381h1v1h-1zM260 371h1v1h-1zM254 384h1v1h-1zM264 370h1v1h-1zM253 390h1v1h-1zM263 371h1v1h-1zM254 376h1v1h-1zM252 375h1v1h-1zM253 388h1v1h-1zM261 371h1v1h-1zM252 390h1v1h-1zM251 382h1v1h-1zM253 387h1v1h-1zM251 383h1v1h-1zM257 379h1v1h-1zM259 373h1v1h-1zM255 380h1v1h-1zM259 376h1v1h-1zM259 370h1v1h-1zM254 383h1v1h-1zM261 374h1v1h-1zM257 387h1v1h-1zM256 390h1v1h-1zM261 382h1v1h-1zM255 392h1v1h-1zM253 371h1v1h-1zM257 374h1v1h-1zM248 384h1v1h-1zM260 381h1v1h-1zM261 372h1v1h-1zM265 365h1v1h-1zM260 374h1v1h-1zM261 367h1v1h-1zM254 385h1v1h-1zM256 379h1v1h-1zM264 373h1v1h-1zM253 381h1v1h-1zM255 374h1v1h-1zM256 389h1v1h-1zM248 386h1v1h-1zM258 380h1v1h-1zM263 375h1v1h-1zM257 377h1v1h-1zM260 370h1v1h-1zM257 385h1v1h-1zM252 382h1v1h-1zM259 384h1v1h-1zM256 391h1v1h-1zM252 379h1v1h-1zM249 388h1v1h-1zM253 378h1v1h-1zM250 390h1v1h-1zM263 368h1v1h-1zM262 368h1v1h-1zM260 363h1v1h-1zM248 383h1v1h-1zM261 370h1v1h-1zM265 371h1v1h-1zM257 372h1v1h-1zM251 391h1v1h-1zM256 375h1v1h-1zM257 378h1v1h-1zM261 368h1v1h-1zM258 382h1v1h-1zM256 380h1v1h-1zM251 384h1v1h-1zM254 388h1v1h-1zM263 374h1v1h-1zM257 391h1v1h-1zM256 384h1v1h-1zM263 369h1v1h-1zM258 385h1v1h-1zM257 376h1v1h-1zM250 383h1v1h-1zM252 380h1v1h-1zM253 374h1v1h-1zM254 381h1v1h-1zM251 385h1v1h-1zM257 373h1v1h-1zM258 370h1v1h-1zM249 383h1v1h-1zM255 383h1v1h-1zM256 374h1v1h-1zM261 380h1v1h-1zM255 378h1v1h-1zM247 386h1v1h-1zM254 382h1v1h-1zM255 387h1v1h-1zM255 388h1v1h-1zM256 377h1v1h-1zM254 375h1v1h-1zM253 385h1v1h-1zM256 371h1v1h-1zM261 376h1v1h-1zM248 389h1v1h-1zM260 377h1v1h-1zM261 377h1v1h-1zM253 384h1v1h-1zM253 376h1v1h-1zM250 391h1v1h-1zM257 375h1v1h-1zM261 383h1v1h-1zM266 370h1v1h-1zM249 387h1v1h-1zM253 370h1v1h-1zM251 380h1v1h-1zM260 382h1v1h-1zM259 385h1v1h-1zM257 371h1v1h-1zM260 367h1v1h-1zM258 369h1v1h-1zM250 380h1v1h-1zM253 395h1v1h-1zM262 366h1v1h-1zM253 383h1v1h-1zM256 386h1v1h-1zM258 373h1v1h-1zM260 366h1v1h-1zM252 388h1v1h-1zM249 391h1v1h-1zM259 386h1v1h-1zM262 372h1v1h-1zM260 379h1v1h-1zM267 375h1v1h-1zM253 379h1v1h-1zM249 386h1v1h-1zM255 382h1v1h-1zM265 373h1v1h-1zM260 380h1v1h-1zM259 380h1v1h-1zM261 369h1v1h-1zM247 390h1v1h-1zM260 369h1v1h-1zM262 374h1v1h-1zM264 368h1v1h-1zM255 376h1v1h-1zM248 377h1v1h-1zM259 366h1v1h-1zM251 387h1v1h-1zM258 375h1v1h-1zM253 391h1v1h-1zM257 384h1v1h-1zM252 392h1v1h-1zM260 383h1v1h-1zM260 375h1v1h-1zM252 384h1v1h-1zM260 372h1v1h-1zM251 388h1v1h-1zM248 385h1v1h-1zM259 377h1v1h-1zM246 379h1v1h-1zM256 372h1v1h-1zM263 366h1v1h-1zM255 368h1v1h-1zM262 375h1v1h-1zM256 385h1v1h-1zM252 386h1v1h-1zM251 379h1v1h-1zM257 370h1v1h-1zM266 367h1v1h-1zM253 373h1v1h-1zM262 376h1v1h-1zM265 374h1v1h-1zM263 364h1v1h-1zM266 368h1v1h-1zM255 363h1v1h-1zM257 383h1v1h-1zM262 370h1v1h-1zM263 365h1v1h-1zM249 390h1v1h-1zM249 385h1v1h-1zM246 386h1v1h-1zM251 389h1v1h-1zM257 366h1v1h-1zM267 367h1v1h-1zM254 392h1v1h-1zM257 368h1v1h-1zM251 381h1v1h-1zM262 367h1v1h-1zM259 369h1v1h-1zM263 370h1v1h-1zM254 391h1v1h-1zM253 377h1v1h-1zM250 387h1v1h-1zM261 364h1v1h-1zM265 377h1v1h-1zM262 381h1v1h-1zM250 392h1v1h-1zM253 389h1v1h-1zM265 367h1v1h-1zM248 382h1v1h-1zM262 371h1v1h-1zM259 367h1v1h-1zM251 375h1v1h-1zM255 373h1v1h-1zM261 378h1v1h-1zM252 377h1v1h-1zM261 389h1v1h-1zM259 383h1v1h-1zM255 385h1v1h-1zM252 385h1v1h-1zM258 378h1v1h-1zM253 393h1v1h-1zM258 379h1v1h-1zM259 368h1v1h-1zM256 387h1v1h-1zM259 372h1v1h-1zM263 378h1v1h-1zM262 379h1v1h-1zM254 372h1v1h-1zM264 380h1v1h-1zM254 369h1v1h-1zM255 386h1v1h-1zM261 373h1v1h-1zM256 370h1v1h-1zM249 389h1v1h-1zM266 369h1v1h-1zM261 381h1v1h-1zM266 371h1v1h-1zM264 374h1v1h-1zM265 375h1v1h-1zM249 382h1v1h-1zM247 387h1v1h-1zM264 366h1v1h-1zM262 378h1v1h-1zM263 376h1v1h-1z"/>
<path fill="#666" d="M92 472h1v1h-1zM89 446h1v1h-1zM87 449h1v1h-1zM102 452h1v1h-1zM90 451h1v1h-1zM90 477h1v1h-1zM87 457h1v1h-1zM87 468h1v1h-1zM84 468h1v1h-1zM86 454h1v1h-1zM89 453h1v1h-1zM103 448h1v1h-1zM86 455h1v1h-1zM87 480h1v1h-1zM84 475h1v1h-1zM85 461h1v1h-1zM96 468h1v1h-1zM81 466h1v1h-1zM103 460h1v1h-1zM97 456h1v1h-1zM85 485h1v1h-1zM92 482h1v1h-1zM83 476h1v1h-1zM91 473h1v1h-1zM85 445h1v1h-1zM94 470h1v1h-1zM83 450h1v1h-1zM90 452h1v1h-1zM92 474h1v1h-1zM87 478h1v1h-1zM84 466h1v1h-1zM79 458h1v1h-1zM85 448h1v1h-1zM97 464h1v1h-1zM85 460h1v1h-1zM93 446h1v1h-1zM77 447h1v1h-1zM102 447h1v1h-1zM96 463h1v1h-1zM102 461h1v1h-1zM95 475h1v1h-1zM81 447h1v1h-1zM96 449h1v1h-1zM83 468h1v1h-1zM86 446h1v1h-1zM95 469h1v1h-1zM88 460h1v1h-1zM90 455h1v1h-1zM81 464h1v1h-1zM83 469h1v1h-1zM103 449h1v1h-1zM83 471h1v1h-1zM98 463h1v1h-1zM89 464h1v1h-1zM103 450h1v1h-1zM89 461h1v1h-1zM91 472h1v1h-1zM94 457h1v1h-1zM100 466h1v1h-1zM89 472h1v1h-1zM94 453h1v1h-1zM97 460h1v1h-1zM87 461h1v1h-1zM85 480h1v1h-1zM84 459h1v1h-1zM105 459h1v1h-1zM87 485h1v1h-1zM88 450h1v1h-1zM86 456h1v1h-1zM97 454h1v1h-1zM97 458h1v1h-1zM104 456h1v1h-1zM79 459h1v1h-1zM87 473h1v1h-1zM83 474h1v1h-1zM91 481h1v1h-1zM97 463h1v1h-1zM95 473h1v1h-1zM99 462h1v1h-1zM84 455h1v1h-1zM96 446h1v1h-1zM82 452h1v1h-1zM93 474h1v1h-1zM97 466h1v1h-1zM80 445h1v1h-1zM93 480h1v1h-1zM89 481h1v1h-1zM83 454h1v1h-1zM82 466h1v1h-1zM84 481h1v1h-1zM99 447h1v1h-1zM80 465h1v1h-1zM98 461h1v1h-1zM93 469h1v1h-1zM79 464h1v1h-1zM98 449h1v1h-1zM85 454h1v1h-1zM81 453h1v1h-1zM85 486h1v1h-1zM88 488h1v1h-1zM89 467h1v1h-1zM77 448h1v1h-1zM76 448h1v1h-1zM91 454h1v1h-1zM97 472h1v1h-1zM88 464h1v1h-1zM107 450h1v1h-1zM102 460h1v1h-1zM96 447h1v1h-1zM99 461h1v1h-1zM93 466h1v1h-1zM101 449h1v1h-1zM91 450h1v1h-1zM104 453h1v1h-1zM85 482h1v1h-1zM94 446h1v1h-1zM85 452h1v1h-1zM79 447h1v1h-1zM86 469h1v1h-1zM100 453h1v1h-1zM100 449h1v1h-1zM98 455h1v1h-1zM83 465h1v1h-1z"/>
<path fill="#777" d="M111 472h1v1h-1zM104 481h1v1h-1zM111 477h1v1h-1zM107 487h1v1h-1zM108 453h1v1h-1zM97 479h1v1h-1zM93 486h1v1h-1zM102 486h1v1h-1zM100 485h1v1h-1zM97 474h1v1h-1zM94 487h1v1h-1zM109 481h1v1h-1zM93 488h1v1h-1zM106 488h1v1h-1zM100 480h1v1h-1zM112 457h1v1h-1zM102 490h1v1h-1zM107 466h1v1h-1zM101 481h1v1h-1zM110 453h1v1h-1zM111 454h1v1h-1zM91 488h1v1h-1zM101 490h1v1h-1zM111 470h1v1h-1zM99 477h1v1h-1zM108 454h1v1h-1zM112 450h1v1h-1zM111 459h1v1h-1zM112 487h1v1h-1zM106 464h1v1h-1zM108 458h1v1h-1zM94 479h1v1h-1zM109 466h1v1h-1zM108 489h1v1h-1zM91 487h1v1h-1zM108 484h1v1h-1zM103 470h1v1h-1zM110 481h1v1h-1zM96 482h1v1h-1zM111 456h1v1h-1zM110 484h1v1h-1zM107 490h1v1h-1zM99 471h1v1h-1zM100 488h1v1h-1zM105 466h1v1h-1zM111 455h1v1h-1zM96 476h1v1h-1zM94 480h1v1h-1zM106 475h1v1h-1zM102 469h1v1h-1z"/>
<path fill="#666" d="M81 447h1v1h-1zM77 459h1v1h-1zM84 451h1v1h-1zM72 454h1v1h-1zM69 454h1v1h-1zM72 462h1v1h-1zM70 457h1v1h-1zM77 453h1v1h-1zM73 454h1v1h-1zM73 464h1v1h-1zM76 464h1v1h-1zM77 448h1v1h-1zM75 451h1v1h-1zM76 461h1v1h-1zM76 447h1v1h-1zM77 452h1v1h-1zM75 456h1v1h-1zM75 446h1v1h-1zM81 449h1v1h-1zM71 458h1v1h-1zM74 467h1v1h-1zM73 465h1v1h-1zM74 452h1v1h-1zM80 451h1v1h-1zM75 453h1v1h-1zM81 460h1v1h-1zM72 456h1v1h-1zM77 461h1v1h-1zM75 444h1v1h-1zM72 464h1v1h-1zM80 450h1v1h-1zM73 444h1v1h-1zM74 464h1v1h-1zM71 460h1v1h-1zM69 461h1v1h-1zM72 459h1v1h-1zM72 461h1v1h-1zM76 449h1v1h-1zM71 462h1v1h-1zM72 457h1v1h-1zM71 446h1v1h-1zM82 450h1v1h-1zM78 466h1v1h-1zM74 465h1v1h-1zM73 460h1v1h-1zM74 451h1v1h-1zM73 466h1v1h-1zM71 461h1v1h-1zM74 457h1v1h-1zM79 453h1v1h-1zM77 454h1v1h-1zM76 454h1v1h-1zM75 458h1v1h-1zM76 448h1v1h-1zM76 453h1v1h-1zM75 459h1v1h-1zM74 458h1v1h-1zM76 462h1v1h-1zM80 453h1v1h-1zM69 456h1v1h-1zM79 448h1v1h-1zM74 463h1v1h-1zM74 447h1v1h-1zM74 461h1v1h-1zM76 459h1v1h-1zM78 451h1v1h-1zM74 454h1v1h-1zM76 455h1v1h-1zM82 449h1v1h-1zM66 464h1v1h-1zM73 456h1v1h-1zM80 452h1v1h-1zM75 447h1v1h-1zM80 455h1v1h-1zM74 450h1v1h-1zM76 456h1v1h-1zM79 462h1v1h-1zM69 464h1v1h-1zM70 453h1v1h-1zM79 456h1v1h-1zM71 465h1v1h-1zM75 466h1v1h-1zM76 452h1v1h-1zM78 458h1v1h-1zM79 452h1v1h-1zM72 465h1v1h-1zM77 460h1v1h-1zM74 462h1v1h-1zM77 450h1v1h-1zM84 459h1v1h-1z"/>
<path fill="#666" d="M52 496h1v1h-1zM54 497h1v1h-1zM57 497h1v1h-1zM56 495h1v1h-1zM55 490h1v1h-1zM54 495h1v1h-1zM55 496h1v1h-1zM58 494h1v1h-1zM57 489h1v1h-1zM56 492h1v1h-1zM58 489h1v1h-1zM55 497h1v1h-1zM52 491h1v1h-1zM53 497h1v1h-1zM53 492h1v1h-1zM55 495h1v1h-1zM58 497h1v1h-1zM53 494h1v1h-1zM50 495h1v1h-1zM55 494h1v1h-1zM55 493h1v1h-1zM55 498h1v1h-1zM45 490h1v1h-1zM57 495h1v1h-1zM55 488h1v1h-1zM51 490h1v1h-1zM56 493h1v1h-1zM59 496h1v1h-1zM59 498h1v1h-1zM57 491h1v1h-1zM56 491h1v1h-1zM54 492h1v1h-1zM56 499h1v1h-1zM53 491h1v1h-1zM52 497h1v1h-1zM56 489h1v1h-1zM56 494h1v1h-1zM53 498h1v1h-1zM51 493h1v1h-1zM55 487h1v1h-1zM60 493h1v1h-1z"/>
<path fill="#555" d="M69 474h1v1h-1zM64 476h1v1h-1zM64 479h1v1h-1zM70 471h1v1h-1zM62 491h1v1h-1zM65 477h1v1h-1zM62 483h1v1h-1zM65 476h1v1h-1zM76 480h1v1h-1zM60 484h1v1h-1zM71 473h1v1h-1zM68 462h1v1h-1zM66 478h1v1h-1zM56 485h1v1h-1zM61 482h1v1h-1zM68 478h1v1h-1zM81 464h1v1h-1zM61 487h1v1h-1zM72 471h1v1h-1zM71 470h1v1h-1zM63 478h1v1h-1zM64 481h1v1h-1zM69 478h1v1h-1zM63 479h1v1h-1zM70 473h1v1h-1zM62 481h1v1h-1zM76 467h1v1h-1zM68 463h1v1h-1zM73 471h1v1h-1zM59 482h1v1h-1zM71 468h1v1h-1zM81 466h1v1h-1zM73 472h1v1h-1zM66 473h1v1h-1zM70 467h1v1h-1zM64 487h1v1h-1zM65 485h1v1h-1zM59 489h1v1h-1zM68 480h1v1h-1zM63 480h1v1h-1zM54 477h1v1h-1zM71 477h1v1h-1zM69 467h1v1h-1zM75 467h1v1h-1zM73 463h1v1h-1zM61 483h1v1h-1zM56 487h1v1h-1zM67 481h1v1h-1zM73 474h1v1h-1zM64 486h1v1h-1zM73 468h1v1h-1zM62 480h1v1h-1zM62 485h1v1h-1zM67 478h1v1h-1zM57 474h1v1h-1zM67 466h1v1h-1zM73 470h1v1h-1zM74 474h1v1h-1zM71 481h1v1h-1zM61 480h1v1h-1zM71 469h1v1h-1zM67 472h1v1h-1zM68 468h1v1h-1zM59 486h1v1h-1zM63 483h1v1h-1zM65 467h1v1h-1zM61 484h1v1h-1zM68 466h1v1h-1zM77 469h1v1h-1zM65 492h1v1h-1zM68 470h1v1h-1zM67 480h1v1h-1zM61 493h1v1h-1zM66 470h1v1h-1zM57 489h1v1h-1zM64 482h1v1h-1zM62 475h1v1h-1zM78 467h1v1h-1zM63 482h1v1h-1zM64 480h1v1h-1zM59 479h1v1h-1zM70 479h1v1h-1zM63 477h1v1h-1zM65 473h1v1h-1zM57 481h1v1h-1zM67 470h1v1h-1zM63 481h1v1h-1zM74 465h1v1h-1zM78 464h1v1h-1zM74 471h1v1h-1zM62 484h1v1h-1zM57 486h1v1h-1zM64 494h1v1h-1zM62 471h1v1h-1zM55 485h1v1h-1zM58 481h1v1h-1zM74 481h1v1h-1zM63 490h1v1h-1zM62 472h1v1h-1zM61 477h1v1h-1zM72 468h1v1h-1zM57 488h1v1h-1zM67 477h1v1h-1zM67 475h1v1h-1zM68 475h1v1h-1zM68 481h1v1h-1zM58 484h1v1h-1zM61 488h1v1h-1zM66 484h1v1h-1zM68 472h1v1h-1zM67 474h1v1h-1zM74 478h1v1h-1zM79 463h1v1h-1zM71 487h1v1h-1zM80 467h1v1h-1zM66 475h1v1h-1zM68 469h1v1h-1zM60 485h1v1h-1zM54 471h1v1h-1zM67 476h1v1h-1zM72 476h1v1h-1zM73 464h1v1h-1zM52 488h1v1h-1zM73 473h1v1h-1zM71 466h1v1h-1zM60 491h1v1h-1zM61 485h1v1h-1zM78 471h1v1h-1zM66 481h1v1h-1zM70 474h1v1h-1zM58 491h1v1h-1zM64 473h1v1h-1zM72 469h1v1h-1zM63 491h1v1h-1zM66 477h1v1h-1zM50 487h1v1h-1zM59 484h1v1h-1zM82 465h1v1h-1zM67 471h1v1h-1zM66 479h1v1h-1zM58 476h1v1h-1zM70 466h1v1h-1zM61 479h1v1h-1zM72 473h1v1h-1zM63 488h1v1h-1zM67 479h1v1h-1zM69 480h1v1h-1zM62 482h1v1h-1zM70 486h1v1h-1zM65 474h1v1h-1zM71 471h1v1h-1zM73 465h1v1h-1zM65 478h1v1h-1zM69 476h1v1h-1zM62 474h1v1h-1zM58 486h1v1h-1zM65 469h1v1h-1zM59 487h1v1h-1zM69 465h1v1h-1zM62 487h1v1h-1zM55 486h1v1h-1zM74 469h1v1h-1zM66 482h1v1h-1zM63 484h1v1h-1zM53 487h1v1h-1zM64 475h1v1h-1zM66 474h1v1h-1zM70 465h1v1h-1zM69 466h1v1h-1zM54 483h1v1h-1zM66 486h1v1h-1zM70 472h1v1h-1zM65 470h1v1h-1zM73 469h1v1h-1zM63 462h1v1h-1zM67 465h1v1h-1zM75 463h1v1h-1zM71 480h1v1h-1zM56 486h1v1h-1zM66 466h1v1h-1zM60 488h1v1h-1zM59 483h1v1h-1zM60 481h1v1h-1zM78 468h1v1h-1zM61 478h1v1h-1zM68 461h1v1h-1zM79 464h1v1h-1zM62 489h1v1h-1zM63 471h1v1h-1zM72 488h1v1h-1zM74 468h1v1h-1zM67 483h1v1h-1zM64 468h1v1h-1zM80 466h1v1h-1zM58 468h1v1h-1zM72 475h1v1h-1zM60 472h1v1h-1zM66 472h1v1h-1zM58 479h1v1h-1zM56 490h1v1h-1zM78 466h1v1h-1zM61 476h1v1h-1zM68 488h1v1h-1zM70 475h1v1h-1zM68 477h1v1h-1zM76 466h1v1h-1zM64 483h1v1h-1zM68 473h1v1h-1zM67 468h1v1h-1zM70 469h1v1h-1zM64 484h1v1h-1zM62 488h1v1h-1zM63 476h1v1h-1zM69 477h1v1h-1zM65 486h1v1h-1zM71 483h1v1h-1zM74 467h1v1h-1zM60 478h1v1h-1zM59 481h1v1h-1zM72 463h1v1h-1zM68 460h1v1h-1zM70 482h1v1h-1zM71 478h1v1h-1zM66 471h1v1h-1zM61 492h1v1h-1zM68 482h1v1h-1zM70 478h1v1h-1zM65 479h1v1h-1zM68 465h1v1h-1zM74 472h1v1h-1zM57 492h1v1h-1zM68 485h1v1h-1zM77 465h1v1h-1zM69 487h1v1h-1zM63 487h1v1h-1zM72 467h1v1h-1zM61 474h1v1h-1zM64 478h1v1h-1zM63 497h1v1h-1zM57 485h1v1h-1zM60 483h1v1h-1zM69 469h1v1h-1zM72 465h1v1h-1zM56 475h1v1h-1zM79 462h1v1h-1zM71 474h1v1h-1zM69 464h1v1h-1zM62 493h1v1h-1zM62 465h1v1h-1zM59 478h1v1h-1zM74 473h1v1h-1zM54 479h1v1h-1zM59 493h1v1h-1zM69 483h1v1h-1zM70 462h1v1h-1zM67 482h1v1h-1zM53 485h1v1h-1zM62 476h1v1h-1zM58 489h1v1h-1zM69 475h1v1h-1zM57 487h1v1h-1zM52 489h1v1h-1zM56 488h1v1h-1zM71 463h1v1h-1zM65 481h1v1h-1zM76 474h1v1h-1zM53 489h1v1h-1zM75 470h1v1h-1zM65 471h1v1h-1z"/>
<path fill="#1a1a1a" d="M70 476h1v1h-1zM69 469h1v1h-1zM64 476h1v1h-1zM69 472h1v1h-1zM66 475h1v1h-1zM66 486h1v1h-1zM62 480h1v1h-1zM69 483h1v1h-1zM59 485h1v1h-1zM71 471h1v1h-1zM66 473h1v1h-1zM73 474h1v1h-1zM70 477h1v1h-1zM62 481h1v1h-1zM66 479h1v1h-1zM67 481h1v1h-1zM72 466h1v1h-1zM73 475h1v1h-1zM75 470h1v1h-1zM67 484h1v1h-1zM61 485h1v1h-1zM66 478h1v1h-1zM58 482h1v1h-1zM58 485h1v1h-1zM73 466h1v1h-1zM65 479h1v1h-1zM60 481h1v1h-1zM67 470h1v1h-1zM66 469h1v1h-1zM71 470h1v1h-1zM64 474h1v1h-1zM67 476h1v1h-1zM68 476h1v1h-1zM64 478h1v1h-1zM69 471h1v1h-1zM77 471h1v1h-1zM74 472h1v1h-1zM68 478h1v1h-1zM63 484h1v1h-1zM64 470h1v1h-1zM59 482h1v1h-1zM60 479h1v1h-1zM65 478h1v1h-1zM64 486h1v1h-1zM62 487h1v1h-1zM73 469h1v1h-1zM70 474h1v1h-1zM65 484h1v1h-1zM64 473h1v1h-1zM60 480h1v1h-1zM62 483h1v1h-1zM72 472h1v1h-1zM69 467h1v1h-1zM70 466h1v1h-1zM66 470h1v1h-1zM70 478h1v1h-1zM70 470h1v1h-1zM63 472h1v1h-1zM62 486h1v1h-1zM61 479h1v1h-1zM58 479h1v1h-1zM69 486h1v1h-1zM64 472h1v1h-1zM73 471h1v1h-1zM74 468h1v1h-1zM61 481h1v1h-1zM63 477h1v1h-1zM66 476h1v1h-1zM64 475h1v1h-1zM71 482h1v1h-1zM65 486h1v1h-1zM61 484h1v1h-1zM66 484h1v1h-1zM60 483h1v1h-1zM68 483h1v1h-1zM64 477h1v1h-1zM62 477h1v1h-1zM66 471h1v1h-1zM63 473h1v1h-1zM69 466h1v1h-1zM67 478h1v1h-1zM62 485h1v1h-1zM65 475h1v1h-1zM63 482h1v1h-1zM69 465h1v1h-1zM59 488h1v1h-1zM69 470h1v1h-1zM60 484h1v1h-1zM67 475h1v1h-1zM58 483h1v1h-1zM63 478h1v1h-1zM67 466h1v1h-1zM57 473h1v1h-1zM57 484h1v1h-1zM59 478h1v1h-1zM70 473h1v1h-1zM64 479h1v1h-1zM68 472h1v1h-1zM60 482h1v1h-1zM61 478h1v1h-1zM60 486h1v1h-1zM69 477h1v1h-1zM76 469h1v1h-1zM69 475h1v1h-1zM73 484h1v1h-1zM71 472h1v1h-1zM72 471h1v1h-1zM64 480h1v1h-1zM71 476h1v1h-1zM68 474h1v1h-1zM72 469h1v1h-1zM67 482h1v1h-1zM72 470h1v1h-1zM67 477h1v1h-1zM61 480h1v1h-1zM66 477h1v1h-1zM71 478h1v1h-1zM66 481h1v1h-1zM72 474h1v1h-1zM71 464h1v1h-1zM67 485h1v1h-1zM69 474h1v1h-1zM70 464h1v1h-1zM65 473h1v1h-1zM63 481h1v1h-1zM65 480h1v1h-1zM57 480h1v1h-1zM70 469h1v1h-1zM68 475h1v1h-1zM68 473h1v1h-1zM66 474h1v1h-1zM69 481h1v1h-1zM70 468h1v1h-1zM74 479h1v1h-1zM56 484h1v1h-1zM66 468h1v1h-1zM57 482h1v1h-1zM62 465h1v1h-1zM59 486h1v1h-1zM67 469h1v1h-1zM66 480h1v1h-1zM74 473h1v1h-1zM72 465h1v1h-1zM62 475h1v1h-1zM74 467h1v1h-1zM58 481h1v1h-1zM72 477h1v1h-1zM67 473h1v1h-1zM74 466h1v1h-1zM75 478h1v1h-1zM64 482h1v1h-1zM62 469h1v1h-1zM63 476h1v1h-1zM72 475h1v1h-1zM66 483h1v1h-1zM65 472h1v1h-1zM64 487h1v1h-1zM70 471h1v1h-1zM63 488h1v1h-1zM68 468h1v1h-1zM69 476h1v1h-1zM71 474h1v1h-1zM74 471h1v1h-1zM68 477h1v1h-1zM65 476h1v1h-1zM61 474h1v1h-1zM69 473h1v1h-1zM62 479h1v1h-1zM66 472h1v1h-1zM65 474h1v1h-1zM62 482h1v1h-1zM64 489h1v1h-1zM68 469h1v1h-1zM65 482h1v1h-1zM68 484h1v1h-1zM70 467h1v1h-1zM62 476h1v1h-1zM64 484h1v1h-1zM67 468h1v1h-1zM65 471h1v1h-1zM71 469h1v1h-1zM63 480h1v1h-1zM60 489h1v1h-1zM65 481h1v1h-1zM63 475h1v1h-1zM57 479h1v1h-1zM70 475h1v1h-1zM64 485h1v1h-1zM75 465h1v1h-1zM67 487h1v1h-1zM67 486h1v1h-1zM64 471h1v1h-1zM70 485h1v1h-1zM68 471h1v1h-1zM66 466h1v1h-1zM73 479h1v1h-1zM64 483h1v1h-1zM68 479h1v1h-1zM74 476h1v1h-1zM65 487h1v1h-1zM70 480h1v1h-1zM69 468h1v1h-1zM62 478h1v1h-1zM61 483h1v1h-1zM63 474h1v1h-1zM66 487h1v1h-1zM58 477h1v1h-1zM63 483h1v1h-1zM71 468h1v1h-1zM64 469h1v1h-1zM74 465h1v1h-1zM65 485h1v1h-1zM61 475h1v1h-1zM68 482h1v1h-1zM62 473h1v1h-1zM71 467h1v1h-1zM68 485h1v1h-1zM73 467h1v1h-1zM74 469h1v1h-1zM68 470h1v1h-1zM61 482h1v1h-1zM75 472h1v1h-1zM58 473h1v1h-1zM67 480h1v1h-1zM59 480h1v1h-1zM58 469h1v1h-1zM56 483h1v1h-1zM65 470h1v1h-1zM67 474h1v1h-1zM60 485h1v1h-1zM73 476h1v1h-1zM65 483h1v1h-1zM73 473h1v1h-1zM60 487h1v1h-1zM61 488h1v1h-1zM72 473h1v1h-1zM70 463h1v1h-1zM57 476h1v1h-1zM74 475h1v1h-1zM59 477h1v1h-1zM61 477h1v1h-1zM62 467h1v1h-1zM67 488h1v1h-1zM62 472h1v1h-1zM73 468h1v1h-1zM63 486h1v1h-1zM71 465h1v1h-1zM60 475h1v1h-1zM72 476h1v1h-1zM74 478h1v1h-1zM55 484h1v1h-1zM68 467h1v1h-1zM74 470h1v1h-1zM70 462h1v1h-1zM56 482h1v1h-1zM70 481h1v1h-1zM65 477h1v1h-1zM67 472h1v1h-1zM64 481h1v1h-1zM74 464h1v1h-1zM59 474h1v1h-1zM71 473h1v1h-1zM58 488h1v1h-1zM62 474h1v1h-1zM61 471h1v1h-1zM60 478h1v1h-1zM66 482h1v1h-1zM79 472h1v1h-1zM70 472h1v1h-1zM67 479h1v1h-1zM59 479h1v1h-1zM73 470h1v1h-1zM68 464h1v1h-1zM59 476h1v1h-1zM72 467h1v1h-1zM69 478h1v1h-1zM56 485h1v1h-1zM73 472h1v1h-1zM76 466h1v1h-1zM77 469h1v1h-1zM58 484h1v1h-1zM77 475h1v1h-1zM63 489h1v1h-1zM59 481h1v1h-1zM72 464h1v1h-1z"/>
<path fill="#555" d="M74 496h1v1h-1zM79 497h1v1h-1zM78 496h1v1h-1zM71 498h1v1h-1zM83 492h1v1h-1zM68 500h1v1h-1zM86 494h1v1h-1zM75 497h1v1h-1zM67 499h1v1h-1zM74 499h1v1h-1zM74 502h1v1h-1zM91 495h1v1h-1zM82 492h1v1h-1zM77 498h1v1h-1zM79 493h1v1h-1zM76 494h1v1h-1zM79 494h1v1h-1zM85 495h1v1h-1zM77 499h1v1h-1zM64 496h1v1h-1zM75 498h1v1h-1zM88 494h1v1h-1zM79 495h1v1h-1zM68 497h1v1h-1zM83 494h1v1h-1zM73 492h1v1h-1zM71 497h1v1h-1zM76 496h1v1h-1zM77 495h1v1h-1zM82 494h1v1h-1zM74 498h1v1h-1zM78 497h1v1h-1zM89 493h1v1h-1zM70 496h1v1h-1zM79 491h1v1h-1zM74 494h1v1h-1zM84 495h1v1h-1zM82 491h1v1h-1zM77 494h1v1h-1zM81 497h1v1h-1zM81 496h1v1h-1zM74 501h1v1h-1zM80 490h1v1h-1zM72 497h1v1h-1zM83 495h1v1h-1zM72 499h1v1h-1zM80 493h1v1h-1zM71 500h1v1h-1zM83 491h1v1h-1zM65 502h1v1h-1zM71 499h1v1h-1zM82 495h1v1h-1zM75 495h1v1h-1zM72 500h1v1h-1zM78 502h1v1h-1zM80 492h1v1h-1zM84 497h1v1h-1zM76 498h1v1h-1zM78 495h1v1h-1zM81 495h1v1h-1zM70 499h1v1h-1zM76 491h1v1h-1zM81 490h1v1h-1zM84 492h1v1h-1zM85 492h1v1h-1zM81 493h1v1h-1zM86 492h1v1h-1zM83 493h1v1h-1zM72 493h1v1h-1zM79 496h1v1h-1zM80 498h1v1h-1zM83 498h1v1h-1zM76 493h1v1h-1zM83 497h1v1h-1zM72 492h1v1h-1zM76 495h1v1h-1zM68 493h1v1h-1zM70 498h1v1h-1zM69 498h1v1h-1zM77 496h1v1h-1zM84 491h1v1h-1zM78 498h1v1h-1zM62 496h1v1h-1zM75 490h1v1h-1zM88 497h1v1h-1zM84 493h1v1h-1zM74 495h1v1h-1zM78 494h1v1h-1zM76 500h1v1h-1zM76 497h1v1h-1zM76 499h1v1h-1zM84 489h1v1h-1zM73 495h1v1h-1zM71 502h1v1h-1zM77 493h1v1h-1zM78 493h1v1h-1zM75 494h1v1h-1zM73 491h1v1h-1zM66 497h1v1h-1zM79 492h1v1h-1zM81 499h1v1h-1zM75 493h1v1h-1zM78 491h1v1h-1zM78 499h1v1h-1zM78 490h1v1h-1zM76 501h1v1h-1zM82 493h1v1h-1z"/>
<path fill="#000" d="M74 496h1v1h-1zM75 497h1v1h-1zM81 492h1v1h-1zM79 495h1v1h-1zM77 497h1v1h-1zM74 495h1v1h-1zM77 494h1v1h-1zM76 497h1v1h-1zM73 499h1v1h-1zM82 493h1v1h-1zM79 493h1v1h-1zM76 495h1v1h-1zM75 498h1v1h-1zM79 496h1v1h-1zM72 497h1v1h-1zM75 494h1v1h-1zM82 494h1v1h-1zM80 497h1v1h-1zM77 498h1v1h-1zM72 500h1v1h-1zM80 493h1v1h-1zM74 501h1v1h-1zM76 498h1v1h-1zM73 496h1v1h-1zM80 491h1v1h-1zM74 497h1v1h-1zM77 495h1v1h-1zM73 494h1v1h-1zM75 495h1v1h-1zM70 499h1v1h-1zM73 495h1v1h-1zM75 493h1v1h-1zM81 494h1v1h-1zM83 492h1v1h-1zM81 496h1v1h-1zM80 498h1v1h-1zM73 497h1v1h-1zM76 501h1v1h-1zM80 494h1v1h-1zM76 493h1v1h-1zM78 494h1v1h-1zM68 497h1v1h-1zM75 496h1v1h-1zM81 491h1v1h-1zM78 492h1v1h-1zM79 494h1v1h-1zM83 489h1v1h-1zM78 497h1v1h-1zM71 496h1v1h-1zM76 496h1v1h-1zM77 496h1v1h-1zM79 491h1v1h-1zM78 495h1v1h-1zM77 493h1v1h-1zM81 498h1v1h-1zM79 497h1v1h-1zM83 493h1v1h-1zM81 493h1v1h-1zM71 497h1v1h-1zM79 498h1v1h-1zM72 496h1v1h-1zM86 497h1v1h-1zM80 495h1v1h-1zM88 491h1v1h-1zM70 496h1v1h-1zM81 497h1v1h-1zM85 490h1v1h-1zM80 492h1v1h-1zM78 496h1v1h-1zM73 498h1v1h-1zM72 498h1v1h-1zM81 495h1v1h-1zM83 496h1v1h-1zM84 493h1v1h-1zM80 496h1v1h-1zM72 495h1v1h-1zM70 495h1v1h-1zM82 495h1v1h-1zM83 495h1v1h-1zM76 494h1v1h-1zM74 499h1v1h-1zM83 494h1v1h-1zM85 494h1v1h-1zM74 494h1v1h-1zM74 493h1v1h-1zM84 494h1v1h-1zM78 491h1v1h-1zM74 498h1v1h-1zM79 499h1v1h-1zM69 497h1v1h-1zM78 498h1v1h-1zM70 498h1v1h-1zM84 491h1v1h-1zM74 500h1v1h-1zM82 496h1v1h-1zM80 500h1v1h-1zM72 499h1v1h-1zM80 490h1v1h-1zM77 499h1v1h-1zM85 492h1v1h-1zM86 493h1v1h-1zM76 499h1v1h-1zM78 490h1v1h-1zM73 500h1v1h-1zM85 493h1v1h-1zM69 494h1v1h-1zM83 498h1v1h-1zM84 496h1v1h-1zM75 492h1v1h-1zM79 492h1v1h-1z"/>
<path fill="#666" d="M185 459h1v1h-1zM192 474h1v1h-1zM177 457h1v1h-1zM171 445h1v1h-1zM183 484h1v1h-1zM196 462h1v1h-1zM197 453h1v1h-1zM180 444h1v1h-1zM189 480h1v1h-1zM191 445h1v1h-1zM183 461h1v1h-1zM172 444h1v1h-1zM186 482h1v1h-1zM181 452h1v1h-1zM187 456h1v1h-1zM180 472h1v1h-1zM199 453h1v1h-1zM185 474h1v1h-1zM194 457h1v1h-1zM188 455h1v1h-1zM189 461h1v1h-1zM186 449h1v1h-1zM189 469h1v1h-1zM184 465h1v1h-1zM192 455h1v1h-1zM191 459h1v1h-1zM181 463h1v1h-1zM182 470h1v1h-1zM196 446h1v1h-1zM185 484h1v1h-1zM183 451h1v1h-1zM186 486h1v1h-1zM187 479h1v1h-1zM179 446h1v1h-1zM193 452h1v1h-1zM187 481h1v1h-1zM193 456h1v1h-1zM194 460h1v1h-1zM196 454h1v1h-1zM182 477h1v1h-1zM187 465h1v1h-1zM192 446h1v1h-1zM193 447h1v1h-1zM179 443h1v1h-1zM198 452h1v1h-1zM200 457h1v1h-1zM199 461h1v1h-1zM193 448h1v1h-1zM184 458h1v1h-1zM194 462h1v1h-1zM185 465h1v1h-1zM194 448h1v1h-1zM185 479h1v1h-1zM176 447h1v1h-1zM188 483h1v1h-1zM186 483h1v1h-1zM190 477h1v1h-1zM184 477h1v1h-1zM178 459h1v1h-1zM187 477h1v1h-1zM194 450h1v1h-1zM187 484h1v1h-1zM196 460h1v1h-1zM188 453h1v1h-1zM176 454h1v1h-1zM200 456h1v1h-1zM195 453h1v1h-1zM186 488h1v1h-1zM198 454h1v1h-1zM176 449h1v1h-1zM193 471h1v1h-1zM179 449h1v1h-1zM180 474h1v1h-1zM184 463h1v1h-1zM180 460h1v1h-1zM183 446h1v1h-1zM189 453h1v1h-1zM181 474h1v1h-1zM195 466h1v1h-1zM186 450h1v1h-1zM183 482h1v1h-1zM189 477h1v1h-1zM202 452h1v1h-1zM181 453h1v1h-1zM173 449h1v1h-1zM184 454h1v1h-1zM191 448h1v1h-1zM173 448h1v1h-1zM191 470h1v1h-1zM191 447h1v1h-1zM187 455h1v1h-1zM189 482h1v1h-1zM176 460h1v1h-1zM185 475h1v1h-1zM183 449h1v1h-1zM189 468h1v1h-1zM186 447h1v1h-1zM189 452h1v1h-1zM198 459h1v1h-1zM174 453h1v1h-1zM192 445h1v1h-1zM181 459h1v1h-1zM189 457h1v1h-1zM179 456h1v1h-1zM188 479h1v1h-1zM186 456h1v1h-1zM195 452h1v1h-1zM191 478h1v1h-1zM197 458h1v1h-1zM190 455h1v1h-1zM195 451h1v1h-1zM194 456h1v1h-1zM185 485h1v1h-1zM190 462h1v1h-1zM183 462h1v1h-1zM199 458h1v1h-1zM191 456h1v1h-1zM180 450h1v1h-1zM199 462h1v1h-1zM193 464h1v1h-1zM183 475h1v1h-1zM197 451h1v1h-1zM193 450h1v1h-1zM176 456h1v1h-1zM175 449h1v1h-1zM178 443h1v1h-1zM194 452h1v1h-1zM196 466h1v1h-1zM190 466h1v1h-1zM190 449h1v1h-1zM178 455h1v1h-1zM179 461h1v1h-1zM195 460h1v1h-1zM188 460h1v1h-1zM181 457h1v1h-1zM189 481h1v1h-1zM186 451h1v1h-1zM182 478h1v1h-1zM177 461h1v1h-1zM188 451h1v1h-1zM182 469h1v1h-1zM188 445h1v1h-1zM200 461h1v1h-1zM197 447h1v1h-1zM183 452h1v1h-1zM191 465h1v1h-1zM184 486h1v1h-1zM200 459h1v1h-1zM193 470h1v1h-1zM173 443h1v1h-1zM188 478h1v1h-1zM187 444h1v1h-1zM183 478h1v1h-1zM182 451h1v1h-1zM188 456h1v1h-1zM195 463h1v1h-1zM190 463h1v1h-1zM188 464h1v1h-1zM198 465h1v1h-1zM175 444h1v1h-1zM196 461h1v1h-1zM177 445h1v1h-1zM202 456h1v1h-1zM179 450h1v1h-1zM185 458h1v1h-1zM184 460h1v1h-1zM196 445h1v1h-1zM197 466h1v1h-1zM183 455h1v1h-1zM193 443h1v1h-1zM188 469h1v1h-1zM194 466h1v1h-1zM182 454h1v1h-1zM185 450h1v1h-1zM192 462h1v1h-1zM191 471h1v1h-1zM184 461h1v1h-1zM184 444h1v1h-1zM177 459h1v1h-1zM191 462h1v1h-1zM188 473h1v1h-1zM174 452h1v1h-1zM182 453h1v1h-1zM179 458h1v1h-1zM177 464h1v1h-1zM173 450h1v1h-1zM175 446h1v1h-1z"/>
<path fill="#777" d="M199 471h1v1h-1zM199 466h1v1h-1zM196 490h1v1h-1zM202 471h1v1h-1zM205 453h1v1h-1zM201 471h1v1h-1zM201 491h1v1h-1zM200 471h1v1h-1zM193 485h1v1h-1zM201 482h1v1h-1zM198 470h1v1h-1zM204 476h1v1h-1zM198 473h1v1h-1zM190 482h1v1h-1zM205 486h1v1h-1zM195 479h1v1h-1zM203 473h1v1h-1zM204 485h1v1h-1zM192 481h1v1h-1zM201 466h1v1h-1zM208 477h1v1h-1zM193 490h1v1h-1zM195 480h1v1h-1zM196 472h1v1h-1zM195 471h1v1h-1zM208 454h1v1h-1zM197 477h1v1h-1zM205 480h1v1h-1zM207 483h1v1h-1zM205 455h1v1h-1zM203 470h1v1h-1zM200 467h1v1h-1zM198 469h1v1h-1zM208 469h1v1h-1zM198 479h1v1h-1zM205 458h1v1h-1zM207 453h1v1h-1zM205 467h1v1h-1zM207 475h1v1h-1zM207 466h1v1h-1zM204 487h1v1h-1zM207 456h1v1h-1zM206 476h1v1h-1zM206 470h1v1h-1zM193 480h1v1h-1zM196 485h1v1h-1zM204 465h1v1h-1zM198 482h1v1h-1zM199 490h1v1h-1zM192 490h1v1h-1zM191 483h1v1h-1zM205 491h1v1h-1zM191 490h1v1h-1zM196 483h1v1h-1zM198 483h1v1h-1zM209 491h1v1h-1zM205 482h1v1h-1zM202 473h1v1h-1zM194 476h1v1h-1zM205 457h1v1h-1zM195 481h1v1h-1zM202 464h1v1h-1zM203 459h1v1h-1zM200 486h1v1h-1zM198 472h1v1h-1zM206 480h1v1h-1zM202 485h1v1h-1zM207 484h1v1h-1zM209 485h1v1h-1zM197 467h1v1h-1zM195 478h1v1h-1zM208 456h1v1h-1zM201 484h1v1h-1zM201 477h1v1h-1zM204 478h1v1h-1zM203 469h1v1h-1z"/>
<path fill="#666" d="M170 460h1v1h-1zM179 451h1v1h-1zM173 452h1v1h-1zM166 456h1v1h-1zM163 453h1v1h-1zM170 461h1v1h-1zM178 453h1v1h-1zM173 451h1v1h-1zM164 442h1v1h-1zM181 449h1v1h-1zM178 454h1v1h-1zM175 445h1v1h-1zM176 452h1v1h-1zM175 461h1v1h-1zM171 455h1v1h-1zM173 450h1v1h-1zM169 466h1v1h-1zM172 463h1v1h-1zM174 454h1v1h-1zM174 456h1v1h-1zM178 449h1v1h-1zM169 458h1v1h-1zM163 462h1v1h-1zM170 459h1v1h-1zM170 456h1v1h-1zM169 449h1v1h-1zM173 465h1v1h-1zM166 464h1v1h-1zM179 450h1v1h-1zM167 462h1v1h-1zM173 457h1v1h-1zM175 453h1v1h-1zM179 446h1v1h-1zM172 455h1v1h-1zM174 452h1v1h-1zM168 466h1v1h-1zM184 454h1v1h-1zM180 450h1v1h-1zM172 452h1v1h-1zM175 450h1v1h-1zM167 460h1v1h-1zM172 469h1v1h-1zM175 457h1v1h-1zM167 466h1v1h-1zM166 462h1v1h-1zM165 465h1v1h-1zM171 457h1v1h-1zM175 449h1v1h-1zM169 462h1v1h-1zM169 454h1v1h-1zM166 459h1v1h-1zM177 452h1v1h-1zM167 461h1v1h-1zM174 447h1v1h-1zM175 452h1v1h-1zM169 452h1v1h-1zM172 457h1v1h-1zM171 456h1v1h-1zM171 462h1v1h-1zM176 456h1v1h-1zM170 452h1v1h-1zM175 455h1v1h-1zM165 464h1v1h-1zM173 453h1v1h-1zM183 449h1v1h-1zM172 462h1v1h-1zM177 455h1v1h-1zM175 454h1v1h-1zM164 466h1v1h-1zM171 449h1v1h-1zM174 460h1v1h-1zM167 456h1v1h-1zM169 464h1v1h-1zM171 461h1v1h-1zM172 449h1v1h-1zM168 451h1v1h-1zM179 455h1v1h-1zM176 459h1v1h-1zM168 457h1v1h-1z"/>
<path fill="#666" d="M150 489h1v1h-1zM151 496h1v1h-1zM151 493h1v1h-1zM150 496h1v1h-1zM151 494h1v1h-1zM149 492h1v1h-1zM150 500h1v1h-1zM147 491h1v1h-1zM146 496h1v1h-1zM152 500h1v1h-1zM153 494h1v1h-1zM153 496h1v1h-1zM156 496h1v1h-1zM152 493h1v1h-1zM148 496h1v1h-1zM151 491h1v1h-1zM146 495h1v1h-1zM147 496h1v1h-1zM149 496h1v1h-1zM150 494h1v1h-1zM155 492h1v1h-1zM154 494h1v1h-1zM149 499h1v1h-1zM152 496h1v1h-1zM153 491h1v1h-1zM145 496h1v1h-1zM148 498h1v1h-1zM150 493h1v1h-1zM149 498h1v1h-1zM152 501h1v1h-1zM150 491h1v1h-1zM147 499h1v1h-1zM146 497h1v1h-1zM148 499h1v1h-1zM151 498h1v1h-1zM150 495h1v1h-1zM153 498h1v1h-1zM153 495h1v1h-1zM155 496h1v1h-1z"/>
<path fill="#555" d="M168 475h1v1h-1zM164 467h1v1h-1zM161 483h1v1h-1zM154 490h1v1h-1zM156 484h1v1h-1zM160 491h1v1h-1zM168 467h1v1h-1zM163 477h1v1h-1zM160 489h1v1h-1zM164 465h1v1h-1zM154 486h1v1h-1zM158 476h1v1h-1zM153 493h1v1h-1zM162 469h1v1h-1zM163 478h1v1h-1zM159 482h1v1h-1zM159 483h1v1h-1zM160 484h1v1h-1zM160 477h1v1h-1zM167 473h1v1h-1zM167 466h1v1h-1zM155 489h1v1h-1zM169 465h1v1h-1zM168 473h1v1h-1zM165 474h1v1h-1zM155 482h1v1h-1zM171 477h1v1h-1zM176 464h1v1h-1zM157 486h1v1h-1zM173 464h1v1h-1zM161 471h1v1h-1zM163 481h1v1h-1zM157 481h1v1h-1zM164 479h1v1h-1zM164 474h1v1h-1zM163 466h1v1h-1zM165 476h1v1h-1zM163 475h1v1h-1zM156 483h1v1h-1zM152 492h1v1h-1zM158 490h1v1h-1zM158 485h1v1h-1zM164 471h1v1h-1zM165 470h1v1h-1zM164 461h1v1h-1zM160 474h1v1h-1zM166 466h1v1h-1zM146 488h1v1h-1zM161 493h1v1h-1zM162 476h1v1h-1zM172 471h1v1h-1zM166 469h1v1h-1zM167 468h1v1h-1zM155 488h1v1h-1zM160 468h1v1h-1zM157 477h1v1h-1zM162 480h1v1h-1zM152 490h1v1h-1zM154 493h1v1h-1zM160 470h1v1h-1zM149 490h1v1h-1zM161 464h1v1h-1zM152 484h1v1h-1zM157 493h1v1h-1zM174 466h1v1h-1zM169 470h1v1h-1zM159 477h1v1h-1zM160 472h1v1h-1zM169 478h1v1h-1zM156 489h1v1h-1zM156 480h1v1h-1zM155 481h1v1h-1zM166 487h1v1h-1zM156 488h1v1h-1zM155 490h1v1h-1zM168 472h1v1h-1zM171 473h1v1h-1zM165 477h1v1h-1zM170 470h1v1h-1zM160 464h1v1h-1zM156 486h1v1h-1zM170 475h1v1h-1zM167 474h1v1h-1zM160 473h1v1h-1zM155 475h1v1h-1zM168 476h1v1h-1zM153 492h1v1h-1zM170 467h1v1h-1zM162 470h1v1h-1zM164 481h1v1h-1zM162 474h1v1h-1zM160 479h1v1h-1zM161 469h1v1h-1zM163 476h1v1h-1zM168 469h1v1h-1zM162 472h1v1h-1zM160 483h1v1h-1zM154 480h1v1h-1zM166 473h1v1h-1zM161 486h1v1h-1zM163 464h1v1h-1zM168 466h1v1h-1zM157 494h1v1h-1zM165 478h1v1h-1zM165 475h1v1h-1zM170 474h1v1h-1zM168 479h1v1h-1zM165 469h1v1h-1zM152 477h1v1h-1zM154 474h1v1h-1zM155 487h1v1h-1zM161 473h1v1h-1zM152 493h1v1h-1zM161 470h1v1h-1zM164 482h1v1h-1zM169 467h1v1h-1zM167 481h1v1h-1zM158 478h1v1h-1zM159 484h1v1h-1zM155 480h1v1h-1zM153 489h1v1h-1zM161 472h1v1h-1zM162 473h1v1h-1zM169 472h1v1h-1zM159 475h1v1h-1zM152 483h1v1h-1zM173 470h1v1h-1zM151 484h1v1h-1zM156 477h1v1h-1zM163 468h1v1h-1zM167 475h1v1h-1zM166 468h1v1h-1zM159 478h1v1h-1zM172 468h1v1h-1zM170 471h1v1h-1zM155 468h1v1h-1zM157 489h1v1h-1zM167 469h1v1h-1zM151 495h1v1h-1zM150 492h1v1h-1zM167 476h1v1h-1zM164 475h1v1h-1zM170 465h1v1h-1zM170 469h1v1h-1zM151 489h1v1h-1zM171 469h1v1h-1zM166 474h1v1h-1zM172 467h1v1h-1zM150 488h1v1h-1zM171 475h1v1h-1zM163 472h1v1h-1zM155 479h1v1h-1zM161 476h1v1h-1zM161 466h1v1h-1zM161 485h1v1h-1zM148 483h1v1h-1zM161 479h1v1h-1zM157 488h1v1h-1zM159 476h1v1h-1zM162 475h1v1h-1zM151 474h1v1h-1zM163 465h1v1h-1zM153 474h1v1h-1zM155 478h1v1h-1zM162 481h1v1h-1zM161 487h1v1h-1zM158 495h1v1h-1zM163 470h1v1h-1zM168 470h1v1h-1zM166 471h1v1h-1zM169 474h1v1h-1zM153 488h1v1h-1zM156 482h1v1h-1zM158 480h1v1h-1zM156 474h1v1h-1zM163 474h1v1h-1zM161 482h1v1h-1zM160 486h1v1h-1zM174 468h1v1h-1zM161 474h1v1h-1zM151 490h1v1h-1zM150 479h1v1h-1zM163 484h1v1h-1zM162 486h1v1h-1zM154 478h1v1h-1zM150 483h1v1h-1zM155 485h1v1h-1zM166 478h1v1h-1zM148 488h1v1h-1zM148 480h1v1h-1zM166 483h1v1h-1zM168 464h1v1h-1zM165 489h1v1h-1zM167 472h1v1h-1zM155 486h1v1h-1zM165 468h1v1h-1zM160 488h1v1h-1zM160 481h1v1h-1zM157 473h1v1h-1zM164 469h1v1h-1zM158 481h1v1h-1zM161 480h1v1h-1zM160 467h1v1h-1zM155 474h1v1h-1zM163 473h1v1h-1zM149 486h1v1h-1zM171 466h1v1h-1zM164 473h1v1h-1zM158 492h1v1h-1zM172 466h1v1h-1zM170 468h1v1h-1zM156 481h1v1h-1zM152 488h1v1h-1zM169 471h1v1h-1zM153 481h1v1h-1zM152 481h1v1h-1zM167 480h1v1h-1zM157 484h1v1h-1zM158 483h1v1h-1zM166 462h1v1h-1zM165 467h1v1h-1zM165 481h1v1h-1zM173 465h1v1h-1zM157 487h1v1h-1zM155 470h1v1h-1zM163 467h1v1h-1zM165 472h1v1h-1zM158 472h1v1h-1zM164 490h1v1h-1zM153 475h1v1h-1zM166 475h1v1h-1zM159 486h1v1h-1zM157 490h1v1h-1zM155 498h1v1h-1zM162 482h1v1h-1zM158 488h1v1h-1zM164 472h1v1h-1zM162 463h1v1h-1zM164 470h1v1h-1zM151 496h1v1h-1zM150 491h1v1h-1zM165 473h1v1h-1zM148 493h1v1h-1zM160 482h1v1h-1zM161 484h1v1h-1zM162 477h1v1h-1zM161 475h1v1h-1zM157 482h1v1h-1zM160 480h1v1h-1zM154 485h1v1h-1zM166 470h1v1h-1zM159 495h1v1h-1zM159 481h1v1h-1zM160 476h1v1h-1zM157 476h1v1h-1zM153 480h1v1h-1zM162 464h1v1h-1zM154 495h1v1h-1zM168 462h1v1h-1zM169 469h1v1h-1zM164 480h1v1h-1zM158 474h1v1h-1zM156 478h1v1h-1zM165 492h1v1h-1zM153 491h1v1h-1zM160 469h1v1h-1zM153 494h1v1h-1zM168 468h1v1h-1z"/>
<path fill="#1a1a1a" d="M157 483h1v1h-1zM164 470h1v1h-1zM157 486h1v1h-1zM154 487h1v1h-1zM163 476h1v1h-1zM159 486h1v1h-1zM158 480h1v1h-1zM162 480h1v1h-1zM157 484h1v1h-1zM161 469h1v1h-1zM170 469h1v1h-1zM163 474h1v1h-1zM165 468h1v1h-1zM163 478h1v1h-1zM161 483h1v1h-1zM157 479h1v1h-1zM159 479h1v1h-1zM160 473h1v1h-1zM158 484h1v1h-1zM161 479h1v1h-1zM166 470h1v1h-1zM168 476h1v1h-1zM158 488h1v1h-1zM162 479h1v1h-1zM165 473h1v1h-1zM160 479h1v1h-1zM154 485h1v1h-1zM151 488h1v1h-1zM156 485h1v1h-1zM155 490h1v1h-1zM162 474h1v1h-1zM152 480h1v1h-1zM167 473h1v1h-1zM161 477h1v1h-1zM165 472h1v1h-1zM158 477h1v1h-1zM152 486h1v1h-1zM160 476h1v1h-1zM154 477h1v1h-1zM164 485h1v1h-1zM162 473h1v1h-1zM156 483h1v1h-1zM156 479h1v1h-1zM162 485h1v1h-1zM173 468h1v1h-1zM160 481h1v1h-1zM153 483h1v1h-1zM159 487h1v1h-1zM153 488h1v1h-1zM157 488h1v1h-1zM169 468h1v1h-1zM157 489h1v1h-1zM154 483h1v1h-1zM163 482h1v1h-1zM165 471h1v1h-1zM170 473h1v1h-1zM157 476h1v1h-1zM159 481h1v1h-1zM158 483h1v1h-1zM157 480h1v1h-1zM164 481h1v1h-1zM156 476h1v1h-1zM156 478h1v1h-1zM164 474h1v1h-1zM166 484h1v1h-1zM160 477h1v1h-1zM157 482h1v1h-1zM165 469h1v1h-1zM161 481h1v1h-1zM168 474h1v1h-1zM158 487h1v1h-1zM149 483h1v1h-1zM163 479h1v1h-1zM163 469h1v1h-1zM161 473h1v1h-1zM153 479h1v1h-1zM154 492h1v1h-1zM162 476h1v1h-1zM161 478h1v1h-1zM156 482h1v1h-1zM160 474h1v1h-1zM159 484h1v1h-1zM166 474h1v1h-1zM160 480h1v1h-1zM160 484h1v1h-1zM167 479h1v1h-1zM159 482h1v1h-1zM164 472h1v1h-1zM157 487h1v1h-1zM166 467h1v1h-1zM162 483h1v1h-1zM165 483h1v1h-1zM161 484h1v1h-1zM160 470h1v1h-1zM164 478h1v1h-1zM163 466h1v1h-1zM167 476h1v1h-1zM153 480h1v1h-1zM158 493h1v1h-1zM161 487h1v1h-1zM167 470h1v1h-1zM164 468h1v1h-1zM164 475h1v1h-1zM167 481h1v1h-1zM160 485h1v1h-1zM158 490h1v1h-1zM163 481h1v1h-1zM156 484h1v1h-1zM153 484h1v1h-1zM163 472h1v1h-1zM162 469h1v1h-1zM163 475h1v1h-1zM155 480h1v1h-1zM157 477h1v1h-1zM164 476h1v1h-1zM162 472h1v1h-1zM168 480h1v1h-1zM166 473h1v1h-1zM168 468h1v1h-1zM156 475h1v1h-1zM170 470h1v1h-1zM155 482h1v1h-1zM155 476h1v1h-1zM164 479h1v1h-1zM164 473h1v1h-1zM162 467h1v1h-1zM157 491h1v1h-1zM159 476h1v1h-1zM163 470h1v1h-1zM162 475h1v1h-1zM170 474h1v1h-1zM161 474h1v1h-1zM164 480h1v1h-1zM150 485h1v1h-1zM159 472h1v1h-1zM156 489h1v1h-1zM169 478h1v1h-1zM171 471h1v1h-1zM162 486h1v1h-1zM164 471h1v1h-1zM166 479h1v1h-1zM169 470h1v1h-1zM168 478h1v1h-1zM171 472h1v1h-1zM168 471h1v1h-1zM166 465h1v1h-1zM159 480h1v1h-1zM155 489h1v1h-1zM164 477h1v1h-1zM157 473h1v1h-1zM162 477h1v1h-1zM165 475h1v1h-1zM161 485h1v1h-1zM161 476h1v1h-1zM162 470h1v1h-1zM154 481h1v1h-1zM159 478h1v1h-1zM165 479h1v1h-1zM171 482h1v1h-1zM158 485h1v1h-1zM160 486h1v1h-1zM162 471h1v1h-1zM166 472h1v1h-1zM162 478h1v1h-1zM166 468h1v1h-1zM157 481h1v1h-1zM151 485h1v1h-1zM164 483h1v1h-1zM156 487h1v1h-1zM160 475h1v1h-1zM159 483h1v1h-1zM157 492h1v1h-1zM163 468h1v1h-1zM161 472h1v1h-1zM162 464h1v1h-1zM167 465h1v1h-1zM163 488h1v1h-1zM152 488h1v1h-1zM161 482h1v1h-1zM161 466h1v1h-1zM160 482h1v1h-1zM163 485h1v1h-1zM168 475h1v1h-1zM151 484h1v1h-1zM169 473h1v1h-1zM165 477h1v1h-1zM161 480h1v1h-1zM166 476h1v1h-1zM149 488h1v1h-1zM159 471h1v1h-1zM160 468h1v1h-1zM169 484h1v1h-1zM162 482h1v1h-1zM161 491h1v1h-1zM167 466h1v1h-1zM155 488h1v1h-1zM159 473h1v1h-1zM163 486h1v1h-1zM165 464h1v1h-1zM165 474h1v1h-1zM169 475h1v1h-1zM171 470h1v1h-1zM159 485h1v1h-1zM167 475h1v1h-1zM155 486h1v1h-1zM166 463h1v1h-1zM161 470h1v1h-1zM169 474h1v1h-1zM168 470h1v1h-1zM155 481h1v1h-1zM163 484h1v1h-1zM168 472h1v1h-1zM165 478h1v1h-1zM160 492h1v1h-1zM169 466h1v1h-1zM166 475h1v1h-1zM162 488h1v1h-1zM169 472h1v1h-1zM153 485h1v1h-1zM162 481h1v1h-1zM153 490h1v1h-1zM155 477h1v1h-1zM158 473h1v1h-1zM168 469h1v1h-1zM156 488h1v1h-1zM163 477h1v1h-1zM160 489h1v1h-1zM166 471h1v1h-1zM156 486h1v1h-1zM159 489h1v1h-1zM155 475h1v1h-1zM150 488h1v1h-1zM172 481h1v1h-1zM155 485h1v1h-1zM158 491h1v1h-1zM153 491h1v1h-1zM158 489h1v1h-1zM155 484h1v1h-1zM169 469h1v1h-1zM154 488h1v1h-1zM164 467h1v1h-1zM156 480h1v1h-1zM168 467h1v1h-1zM163 473h1v1h-1zM159 477h1v1h-1zM152 483h1v1h-1zM168 466h1v1h-1zM152 487h1v1h-1zM165 470h1v1h-1zM155 487h1v1h-1zM152 491h1v1h-1zM172 467h1v1h-1zM153 478h1v1h-1zM156 481h1v1h-1zM165 480h1v1h-1zM162 466h1v1h-1zM158 479h1v1h-1zM163 489h1v1h-1zM155 483h1v1h-1zM154 484h1v1h-1zM153 489h1v1h-1zM169 471h1v1h-1zM168 465h1v1h-1zM154 482h1v1h-1zM161 471h1v1h-1zM157 470h1v1h-1zM160 472h1v1h-1zM161 475h1v1h-1zM158 486h1v1h-1zM158 482h1v1h-1zM160 483h1v1h-1zM159 474h1v1h-1zM164 469h1v1h-1zM158 475h1v1h-1zM150 484h1v1h-1zM147 483h1v1h-1zM164 482h1v1h-1zM157 485h1v1h-1zM167 478h1v1h-1zM164 484h1v1h-1zM160 469h1v1h-1zM173 472h1v1h-1zM172 471h1v1h-1zM165 476h1v1h-1zM167 468h1v1h-1zM150 487h1v1h-1zM164 464h1v1h-1zM154 478h1v1h-1zM148 485h1v1h-1zM169 476h1v1h-1zM152 482h1v1h-1zM158 478h1v1h-1zM164 466h1v1h-1zM158 481h1v1h-1zM154 474h1v1h-1zM167 474h1v1h-1zM166 478h1v1h-1zM167 477h1v1h-1zM158 476h1v1h-1zM167 467h1v1h-1z"/>
<path fill="#555" d="M163 497h1v1h-1zM169 496h1v1h-1zM178 493h1v1h-1zM180 493h1v1h-1zM179 492h1v1h-1zM179 489h1v1h-1zM180 491h1v1h-1zM174 495h1v1h-1zM178 496h1v1h-1zM173 496h1v1h-1zM167 492h1v1h-1zM186 490h1v1h-1zM167 499h1v1h-1zM182 495h1v1h-1zM176 492h1v1h-1zM172 493h1v1h-1zM169 494h1v1h-1zM171 493h1v1h-1zM165 495h1v1h-1zM183 494h1v1h-1zM174 493h1v1h-1zM173 494h1v1h-1zM168 498h1v1h-1zM175 493h1v1h-1zM170 499h1v1h-1zM185 488h1v1h-1zM187 490h1v1h-1zM179 488h1v1h-1zM177 497h1v1h-1zM176 497h1v1h-1zM188 488h1v1h-1zM176 491h1v1h-1zM161 495h1v1h-1zM179 495h1v1h-1zM174 492h1v1h-1zM161 501h1v1h-1zM171 491h1v1h-1zM179 494h1v1h-1zM187 489h1v1h-1zM174 498h1v1h-1zM177 489h1v1h-1zM166 493h1v1h-1zM185 493h1v1h-1zM178 489h1v1h-1zM174 484h1v1h-1zM176 494h1v1h-1zM183 493h1v1h-1zM168 496h1v1h-1zM167 495h1v1h-1zM173 503h1v1h-1zM170 494h1v1h-1zM177 499h1v1h-1zM169 499h1v1h-1zM181 490h1v1h-1zM174 500h1v1h-1zM160 494h1v1h-1zM160 496h1v1h-1zM174 491h1v1h-1zM178 494h1v1h-1zM173 492h1v1h-1zM183 492h1v1h-1zM182 489h1v1h-1zM162 495h1v1h-1zM190 490h1v1h-1zM166 499h1v1h-1zM184 497h1v1h-1zM180 495h1v1h-1zM177 493h1v1h-1zM168 501h1v1h-1zM173 497h1v1h-1zM184 489h1v1h-1zM181 493h1v1h-1zM172 498h1v1h-1zM181 495h1v1h-1zM152 500h1v1h-1zM174 497h1v1h-1zM192 489h1v1h-1zM193 489h1v1h-1zM184 495h1v1h-1zM164 502h1v1h-1zM167 496h1v1h-1zM181 494h1v1h-1zM182 494h1v1h-1zM187 491h1v1h-1zM162 499h1v1h-1zM186 491h1v1h-1zM164 498h1v1h-1zM168 497h1v1h-1zM189 487h1v1h-1zM183 491h1v1h-1zM175 492h1v1h-1zM184 491h1v1h-1zM166 500h1v1h-1zM175 498h1v1h-1zM175 490h1v1h-1zM171 496h1v1h-1zM171 494h1v1h-1zM171 492h1v1h-1zM176 496h1v1h-1zM173 491h1v1h-1zM178 495h1v1h-1zM168 493h1v1h-1zM165 499h1v1h-1zM175 491h1v1h-1zM179 491h1v1h-1zM170 492h1v1h-1zM176 495h1v1h-1zM176 493h1v1h-1zM170 487h1v1h-1zM173 493h1v1h-1zM167 491h1v1h-1zM170 495h1v1h-1zM185 491h1v1h-1zM172 495h1v1h-1zM172 497h1v1h-1zM173 495h1v1h-1zM181 492h1v1h-1zM173 498h1v1h-1zM170 500h1v1h-1zM173 499h1v1h-1zM172 494h1v1h-1zM165 493h1v1h-1zM179 487h1v1h-1zM180 497h1v1h-1zM186 492h1v1h-1zM175 488h1v1h-1zM174 494h1v1h-1zM180 490h1v1h-1zM180 494h1v1h-1zM177 496h1v1h-1zM180 496h1v1h-1zM166 497h1v1h-1zM172 499h1v1h-1zM178 492h1v1h-1zM169 498h1v1h-1zM164 497h1v1h-1zM165 492h1v1h-1zM177 495h1v1h-1zM185 490h1v1h-1zM169 491h1v1h-1zM164 499h1v1h-1zM174 496h1v1h-1zM167 497h1v1h-1zM187 492h1v1h-1zM182 493h1v1h-1zM181 488h1v1h-1zM175 495h1v1h-1zM178 497h1v1h-1zM176 498h1v1h-1zM183 489h1v1h-1zM177 494h1v1h-1zM171 490h1v1h-1zM165 502h1v1h-1zM170 496h1v1h-1zM169 492h1v1h-1zM186 495h1v1h-1zM160 499h1v1h-1zM190 495h1v1h-1zM182 496h1v1h-1zM178 498h1v1h-1zM171 489h1v1h-1zM186 493h1v1h-1zM183 487h1v1h-1zM175 499h1v1h-1zM171 500h1v1h-1zM181 497h1v1h-1zM170 497h1v1h-1zM170 498h1v1h-1zM181 489h1v1h-1z"/>
<path fill="#000" d="M181 495h1v1h-1zM184 494h1v1h-1zM179 494h1v1h-1zM174 498h1v1h-1zM177 495h1v1h-1zM179 493h1v1h-1zM171 497h1v1h-1zM176 492h1v1h-1zM184 493h1v1h-1zM174 494h1v1h-1zM182 492h1v1h-1zM174 491h1v1h-1zM175 493h1v1h-1zM181 490h1v1h-1zM178 496h1v1h-1zM175 494h1v1h-1zM175 492h1v1h-1zM177 494h1v1h-1zM176 493h1v1h-1zM186 493h1v1h-1zM180 493h1v1h-1zM183 491h1v1h-1zM180 494h1v1h-1zM175 491h1v1h-1zM170 498h1v1h-1zM171 494h1v1h-1zM174 492h1v1h-1zM167 493h1v1h-1zM168 494h1v1h-1zM173 495h1v1h-1zM173 493h1v1h-1zM174 493h1v1h-1zM174 495h1v1h-1zM178 493h1v1h-1zM175 490h1v1h-1zM177 493h1v1h-1zM184 489h1v1h-1zM181 492h1v1h-1zM178 494h1v1h-1zM176 495h1v1h-1zM184 492h1v1h-1zM169 497h1v1h-1zM168 496h1v1h-1zM173 491h1v1h-1zM169 500h1v1h-1zM171 491h1v1h-1zM170 495h1v1h-1zM179 490h1v1h-1zM174 496h1v1h-1zM164 497h1v1h-1zM166 499h1v1h-1zM178 490h1v1h-1zM173 492h1v1h-1zM182 490h1v1h-1zM175 495h1v1h-1zM175 496h1v1h-1zM165 500h1v1h-1zM170 497h1v1h-1zM172 495h1v1h-1zM176 494h1v1h-1zM173 494h1v1h-1zM178 492h1v1h-1zM178 491h1v1h-1zM171 495h1v1h-1zM171 496h1v1h-1zM171 493h1v1h-1zM179 492h1v1h-1zM166 501h1v1h-1zM183 495h1v1h-1zM172 497h1v1h-1zM177 490h1v1h-1zM181 491h1v1h-1zM172 496h1v1h-1zM163 499h1v1h-1zM176 496h1v1h-1zM176 490h1v1h-1zM178 497h1v1h-1zM186 494h1v1h-1zM173 496h1v1h-1zM178 495h1v1h-1zM172 494h1v1h-1zM177 496h1v1h-1zM167 496h1v1h-1zM180 490h1v1h-1zM169 495h1v1h-1zM170 494h1v1h-1zM170 496h1v1h-1zM169 494h1v1h-1zM167 494h1v1h-1zM180 495h1v1h-1zM173 497h1v1h-1zM171 498h1v1h-1zM169 493h1v1h-1zM179 491h1v1h-1zM177 492h1v1h-1zM180 492h1v1h-1zM167 495h1v1h-1zM180 491h1v1h-1zM183 492h1v1h-1zM184 490h1v1h-1zM187 488h1v1h-1zM179 495h1v1h-1zM169 498h1v1h-1zM182 495h1v1h-1zM173 489h1v1h-1zM174 497h1v1h-1zM185 490h1v1h-1zM181 494h1v1h-1zM185 492h1v1h-1zM172 493h1v1h-1zM181 496h1v1h-1zM165 495h1v1h-1zM188 488h1v1h-1zM174 499h1v1h-1zM175 497h1v1h-1zM186 489h1v1h-1zM178 498h1v1h-1zM168 497h1v1h-1zM164 499h1v1h-1zM177 499h1v1h-1zM162 499h1v1h-1zM185 493h1v1h-1zM173 490h1v1h-1zM167 497h1v1h-1zM171 499h1v1h-1zM183 494h1v1h-1zM183 490h1v1h-1zM171 490h1v1h-1zM179 497h1v1h-1zM167 499h1v1h-1zM182 494h1v1h-1zM173 498h1v1h-1zM184 491h1v1h-1zM169 491h1v1h-1zM171 492h1v1h-1zM176 491h1v1h-1zM186 491h1v1h-1zM165 496h1v1h-1zM182 493h1v1h-1zM167 492h1v1h-1zM172 492h1v1h-1zM172 498h1v1h-1zM166 496h1v1h-1zM168 495h1v1h-1zM166 494h1v1h-1zM165 498h1v1h-1zM170 493h1v1h-1zM169 492h1v1h-1zM172 499h1v1h-1zM186 492h1v1h-1zM183 493h1v1h-1zM164 498h1v1h-1zM169 496h1v1h-1zM182 491h1v1h-1zM181 497h1v1h-1zM166 498h1v1h-1z"/>
<path fill="#666" d="M278 464h1v1h-1zM282 466h1v1h-1zM277 467h1v1h-1zM276 476h1v1h-1zM283 467h1v1h-1zM273 472h1v1h-1zM276 470h1v1h-1zM283 464h1v1h-1zM281 461h1v1h-1zM284 456h1v1h-1zM295 453h1v1h-1zM281 472h1v1h-1zM293 455h1v1h-1zM285 447h1v1h-1zM281 473h1v1h-1zM267 489h1v1h-1zM290 459h1v1h-1zM288 444h1v1h-1zM282 460h1v1h-1zM291 460h1v1h-1zM286 448h1v1h-1zM288 462h1v1h-1zM290 453h1v1h-1zM284 462h1v1h-1zM293 454h1v1h-1zM280 462h1v1h-1zM287 454h1v1h-1zM288 450h1v1h-1zM286 455h1v1h-1zM282 462h1v1h-1zM269 487h1v1h-1zM286 445h1v1h-1zM275 474h1v1h-1zM277 464h1v1h-1zM283 455h1v1h-1zM283 453h1v1h-1zM276 473h1v1h-1zM284 454h1v1h-1zM283 466h1v1h-1zM291 459h1v1h-1zM282 454h1v1h-1zM274 474h1v1h-1zM294 456h1v1h-1zM287 461h1v1h-1zM277 469h1v1h-1zM281 471h1v1h-1zM279 472h1v1h-1zM285 455h1v1h-1zM277 475h1v1h-1zM287 466h1v1h-1zM287 462h1v1h-1zM279 467h1v1h-1zM292 455h1v1h-1zM289 461h1v1h-1zM289 460h1v1h-1zM269 488h1v1h-1zM280 460h1v1h-1zM274 472h1v1h-1zM288 458h1v1h-1zM281 455h1v1h-1zM285 457h1v1h-1zM287 459h1v1h-1zM279 466h1v1h-1zM277 472h1v1h-1zM289 446h1v1h-1zM280 474h1v1h-1zM277 476h1v1h-1zM287 442h1v1h-1zM285 458h1v1h-1zM295 454h1v1h-1zM284 465h1v1h-1zM287 445h1v1h-1zM279 465h1v1h-1zM284 461h1v1h-1zM291 454h1v1h-1zM291 455h1v1h-1zM291 453h1v1h-1zM290 462h1v1h-1zM292 452h1v1h-1zM281 470h1v1h-1zM287 460h1v1h-1zM281 468h1v1h-1zM293 452h1v1h-1zM276 474h1v1h-1zM288 443h1v1h-1zM281 462h1v1h-1zM296 454h1v1h-1zM286 465h1v1h-1zM282 471h1v1h-1zM289 449h1v1h-1zM289 459h1v1h-1zM280 464h1v1h-1zM291 461h1v1h-1zM274 475h1v1h-1zM286 461h1v1h-1zM285 449h1v1h-1zM292 458h1v1h-1zM283 456h1v1h-1zM266 492h1v1h-1zM267 490h1v1h-1zM278 474h1v1h-1zM283 459h1v1h-1zM282 469h1v1h-1zM267 491h1v1h-1zM286 452h1v1h-1zM282 468h1v1h-1zM265 492h1v1h-1zM292 457h1v1h-1zM292 459h1v1h-1zM266 489h1v1h-1zM265 491h1v1h-1zM283 463h1v1h-1zM292 453h1v1h-1zM291 457h1v1h-1zM287 451h1v1h-1zM281 458h1v1h-1zM284 450h1v1h-1zM279 475h1v1h-1zM288 441h1v1h-1zM267 486h1v1h-1zM275 469h1v1h-1zM291 452h1v1h-1zM288 461h1v1h-1zM287 441h1v1h-1zM286 446h1v1h-1zM292 456h1v1h-1zM282 464h1v1h-1zM279 473h1v1h-1zM280 467h1v1h-1zM285 467h1v1h-1zM275 470h1v1h-1z"/>
<path fill="#777" d="M277 494h1v1h-1zM293 464h1v1h-1zM303 473h1v1h-1zM294 481h1v1h-1zM302 482h1v1h-1zM286 467h1v1h-1zM304 457h1v1h-1zM271 495h1v1h-1zM285 474h1v1h-1zM292 476h1v1h-1zM276 486h1v1h-1zM287 478h1v1h-1zM281 484h1v1h-1zM287 489h1v1h-1zM299 463h1v1h-1zM279 487h1v1h-1zM276 495h1v1h-1zM287 470h1v1h-1zM269 494h1v1h-1zM291 485h1v1h-1zM290 469h1v1h-1zM283 488h1v1h-1zM294 489h1v1h-1zM280 479h1v1h-1zM303 493h1v1h-1zM300 487h1v1h-1zM290 490h1v1h-1zM300 464h1v1h-1zM278 483h1v1h-1zM300 491h1v1h-1zM284 474h1v1h-1zM295 461h1v1h-1zM303 475h1v1h-1zM296 479h1v1h-1zM290 479h1v1h-1zM291 487h1v1h-1zM293 481h1v1h-1zM273 494h1v1h-1zM280 487h1v1h-1zM297 463h1v1h-1zM287 473h1v1h-1zM298 468h1v1h-1zM303 461h1v1h-1zM290 484h1v1h-1zM290 477h1v1h-1zM293 473h1v1h-1zM300 479h1v1h-1zM280 476h1v1h-1zM294 492h1v1h-1zM293 465h1v1h-1zM291 467h1v1h-1zM272 487h1v1h-1zM299 481h1v1h-1zM278 482h1v1h-1zM294 486h1v1h-1zM293 479h1v1h-1zM299 453h1v1h-1zM278 486h1v1h-1zM279 481h1v1h-1zM289 465h1v1h-1zM300 471h1v1h-1zM285 473h1v1h-1zM303 466h1v1h-1zM295 470h1v1h-1zM299 486h1v1h-1zM281 491h1v1h-1z"/>
<path fill="#666" d="M272 452h1v1h-1zM268 451h1v1h-1zM266 463h1v1h-1zM262 458h1v1h-1zM266 464h1v1h-1zM271 454h1v1h-1zM261 462h1v1h-1zM262 456h1v1h-1zM262 463h1v1h-1zM256 463h1v1h-1zM265 458h1v1h-1zM262 461h1v1h-1zM265 460h1v1h-1zM263 462h1v1h-1zM274 455h1v1h-1zM264 466h1v1h-1zM269 452h1v1h-1zM270 452h1v1h-1zM269 457h1v1h-1zM267 458h1v1h-1zM260 465h1v1h-1zM269 458h1v1h-1zM256 462h1v1h-1zM263 458h1v1h-1zM268 454h1v1h-1zM267 466h1v1h-1zM264 468h1v1h-1zM268 453h1v1h-1zM266 460h1v1h-1zM267 459h1v1h-1zM265 459h1v1h-1zM266 465h1v1h-1zM266 449h1v1h-1zM268 457h1v1h-1zM262 457h1v1h-1zM267 450h1v1h-1zM262 465h1v1h-1zM261 450h1v1h-1zM270 455h1v1h-1zM261 460h1v1h-1zM267 454h1v1h-1zM269 463h1v1h-1zM266 452h1v1h-1zM259 455h1v1h-1zM273 452h1v1h-1zM264 459h1v1h-1zM269 450h1v1h-1zM269 455h1v1h-1zM263 455h1v1h-1zM263 454h1v1h-1zM264 455h1v1h-1zM264 460h1v1h-1zM265 462h1v1h-1zM267 449h1v1h-1zM263 459h1v1h-1zM269 451h1v1h-1zM257 464h1v1h-1zM267 465h1v1h-1zM269 464h1v1h-1zM263 467h1v1h-1zM265 449h1v1h-1zM263 463h1v1h-1zM269 447h1v1h-1zM266 458h1v1h-1zM267 456h1v1h-1zM264 451h1v1h-1zM268 450h1v1h-1zM260 463h1v1h-1zM256 459h1v1h-1zM264 449h1v1h-1zM266 446h1v1h-1zM270 454h1v1h-1zM260 455h1v1h-1zM261 464h1v1h-1zM262 455h1v1h-1zM271 450h1v1h-1zM269 449h1v1h-1zM257 457h1v1h-1zM259 459h1v1h-1zM271 451h1v1h-1zM268 448h1v1h-1zM262 464h1v1h-1zM268 452h1v1h-1zM264 462h1v1h-1zM273 453h1v1h-1zM261 465h1v1h-1zM260 453h1v1h-1zM271 457h1v1h-1zM274 453h1v1h-1zM264 463h1v1h-1zM270 467h1v1h-1zM260 458h1v1h-1zM267 457h1v1h-1z"/>
<path fill="#555" d="M248 489h1v1h-1zM246 478h1v1h-1zM255 475h1v1h-1zM261 475h1v1h-1zM244 491h1v1h-1zM256 467h1v1h-1zM255 468h1v1h-1zM267 471h1v1h-1zM253 477h1v1h-1zM243 490h1v1h-1zM258 465h1v1h-1zM254 482h1v1h-1zM243 494h1v1h-1zM249 492h1v1h-1zM249 484h1v1h-1zM245 493h1v1h-1zM257 476h1v1h-1zM251 498h1v1h-1zM249 481h1v1h-1zM238 493h1v1h-1zM259 484h1v1h-1zM258 483h1v1h-1zM247 489h1v1h-1zM267 462h1v1h-1zM265 466h1v1h-1zM251 471h1v1h-1zM254 481h1v1h-1zM263 478h1v1h-1zM251 482h1v1h-1zM247 483h1v1h-1zM263 465h1v1h-1zM260 461h1v1h-1zM266 468h1v1h-1zM247 481h1v1h-1zM238 486h1v1h-1zM262 472h1v1h-1zM262 469h1v1h-1zM251 496h1v1h-1zM240 499h1v1h-1zM259 467h1v1h-1zM260 482h1v1h-1zM243 491h1v1h-1zM259 470h1v1h-1zM254 483h1v1h-1zM260 464h1v1h-1zM254 485h1v1h-1zM256 485h1v1h-1zM251 467h1v1h-1zM258 486h1v1h-1zM263 464h1v1h-1zM258 474h1v1h-1zM268 466h1v1h-1zM252 481h1v1h-1zM260 478h1v1h-1zM259 480h1v1h-1zM252 479h1v1h-1zM250 497h1v1h-1zM250 498h1v1h-1zM257 470h1v1h-1zM258 477h1v1h-1zM252 489h1v1h-1zM245 478h1v1h-1zM264 462h1v1h-1zM239 498h1v1h-1zM245 502h1v1h-1zM254 470h1v1h-1zM257 472h1v1h-1zM245 488h1v1h-1zM259 476h1v1h-1zM261 473h1v1h-1zM254 478h1v1h-1zM251 487h1v1h-1zM265 471h1v1h-1zM255 477h1v1h-1zM263 471h1v1h-1zM248 500h1v1h-1zM246 484h1v1h-1zM248 478h1v1h-1zM258 475h1v1h-1zM251 484h1v1h-1zM262 479h1v1h-1zM259 468h1v1h-1zM264 468h1v1h-1zM258 473h1v1h-1zM245 486h1v1h-1zM258 470h1v1h-1zM253 494h1v1h-1zM239 489h1v1h-1zM255 489h1v1h-1zM243 499h1v1h-1zM256 471h1v1h-1zM256 480h1v1h-1zM246 496h1v1h-1zM257 474h1v1h-1zM261 465h1v1h-1zM232 492h1v1h-1zM260 470h1v1h-1zM260 469h1v1h-1zM255 481h1v1h-1zM266 469h1v1h-1zM256 475h1v1h-1zM251 489h1v1h-1zM253 485h1v1h-1zM258 480h1v1h-1zM262 477h1v1h-1zM263 468h1v1h-1zM255 471h1v1h-1zM264 476h1v1h-1zM249 500h1v1h-1zM241 495h1v1h-1zM244 490h1v1h-1zM249 477h1v1h-1zM262 470h1v1h-1zM250 484h1v1h-1zM257 487h1v1h-1zM247 488h1v1h-1zM261 471h1v1h-1zM246 494h1v1h-1zM257 479h1v1h-1zM251 488h1v1h-1zM246 493h1v1h-1zM255 483h1v1h-1zM259 479h1v1h-1zM259 481h1v1h-1zM239 491h1v1h-1zM264 463h1v1h-1zM244 495h1v1h-1zM258 472h1v1h-1zM253 468h1v1h-1zM259 465h1v1h-1zM255 476h1v1h-1zM252 488h1v1h-1zM255 473h1v1h-1zM245 483h1v1h-1zM244 493h1v1h-1zM244 498h1v1h-1zM258 478h1v1h-1zM261 459h1v1h-1zM261 472h1v1h-1zM252 492h1v1h-1zM262 463h1v1h-1zM255 484h1v1h-1zM260 460h1v1h-1zM241 498h1v1h-1zM250 477h1v1h-1zM246 491h1v1h-1zM254 488h1v1h-1zM254 477h1v1h-1zM264 469h1v1h-1zM242 495h1v1h-1zM256 469h1v1h-1zM244 492h1v1h-1zM252 484h1v1h-1zM247 476h1v1h-1zM252 483h1v1h-1zM254 476h1v1h-1zM254 487h1v1h-1zM260 465h1v1h-1zM245 482h1v1h-1zM263 469h1v1h-1zM255 490h1v1h-1zM250 502h1v1h-1zM245 491h1v1h-1zM256 474h1v1h-1zM251 474h1v1h-1zM263 472h1v1h-1zM257 496h1v1h-1zM258 479h1v1h-1zM251 490h1v1h-1zM256 476h1v1h-1zM246 502h1v1h-1zM257 468h1v1h-1zM251 475h1v1h-1zM247 484h1v1h-1zM245 498h1v1h-1zM245 477h1v1h-1zM244 479h1v1h-1zM259 466h1v1h-1zM248 494h1v1h-1zM253 473h1v1h-1zM247 499h1v1h-1zM262 464h1v1h-1zM255 464h1v1h-1zM257 473h1v1h-1zM245 485h1v1h-1zM251 485h1v1h-1zM265 467h1v1h-1zM244 482h1v1h-1zM253 478h1v1h-1zM246 495h1v1h-1zM255 491h1v1h-1zM255 469h1v1h-1zM256 477h1v1h-1zM251 499h1v1h-1zM266 465h1v1h-1zM272 463h1v1h-1zM257 475h1v1h-1zM251 477h1v1h-1zM243 485h1v1h-1zM249 494h1v1h-1zM258 466h1v1h-1zM257 469h1v1h-1zM242 489h1v1h-1zM249 482h1v1h-1zM250 473h1v1h-1zM246 485h1v1h-1zM256 478h1v1h-1zM252 474h1v1h-1zM265 469h1v1h-1zM250 483h1v1h-1zM247 496h1v1h-1zM252 480h1v1h-1zM248 497h1v1h-1zM255 472h1v1h-1zM255 480h1v1h-1zM240 500h1v1h-1zM263 462h1v1h-1zM260 476h1v1h-1zM251 478h1v1h-1zM255 482h1v1h-1zM242 494h1v1h-1zM242 499h1v1h-1zM256 481h1v1h-1zM240 490h1v1h-1zM260 474h1v1h-1zM262 471h1v1h-1zM251 479h1v1h-1zM243 492h1v1h-1zM248 493h1v1h-1zM253 481h1v1h-1zM260 475h1v1h-1zM265 470h1v1h-1zM256 482h1v1h-1zM255 478h1v1h-1zM262 476h1v1h-1zM253 500h1v1h-1zM264 473h1v1h-1zM262 466h1v1h-1zM242 498h1v1h-1zM262 478h1v1h-1zM269 468h1v1h-1zM261 484h1v1h-1zM259 472h1v1h-1zM241 490h1v1h-1zM257 478h1v1h-1zM245 495h1v1h-1zM247 498h1v1h-1zM247 491h1v1h-1zM251 483h1v1h-1zM248 480h1v1h-1zM261 468h1v1h-1zM266 467h1v1h-1zM254 474h1v1h-1zM256 460h1v1h-1zM257 477h1v1h-1zM252 478h1v1h-1zM267 465h1v1h-1zM259 477h1v1h-1zM256 483h1v1h-1zM255 465h1v1h-1zM260 472h1v1h-1zM256 466h1v1h-1zM251 492h1v1h-1zM266 464h1v1h-1zM266 466h1v1h-1zM240 487h1v1h-1zM254 484h1v1h-1zM249 498h1v1h-1zM235 481h1v1h-1zM246 489h1v1h-1zM253 475h1v1h-1zM243 495h1v1h-1zM243 482h1v1h-1zM262 473h1v1h-1zM250 493h1v1h-1zM250 485h1v1h-1zM249 480h1v1h-1zM252 485h1v1h-1zM257 467h1v1h-1zM254 479h1v1h-1zM246 476h1v1h-1zM245 480h1v1h-1zM247 490h1v1h-1zM249 474h1v1h-1zM250 476h1v1h-1zM249 491h1v1h-1zM241 492h1v1h-1zM257 465h1v1h-1zM241 491h1v1h-1zM237 486h1v1h-1zM256 473h1v1h-1zM248 486h1v1h-1zM253 472h1v1h-1zM244 485h1v1h-1zM249 501h1v1h-1zM261 460h1v1h-1zM257 460h1v1h-1zM254 486h1v1h-1zM266 478h1v1h-1zM255 466h1v1h-1zM252 477h1v1h-1zM255 492h1v1h-1zM260 480h1v1h-1zM253 483h1v1h-1zM249 483h1v1h-1zM247 475h1v1h-1zM244 494h1v1h-1zM249 488h1v1h-1zM265 465h1v1h-1zM248 488h1v1h-1zM259 489h1v1h-1zM249 490h1v1h-1zM254 460h1v1h-1zM261 478h1v1h-1zM243 489h1v1h-1zM250 489h1v1h-1zM261 476h1v1h-1zM238 495h1v1h-1zM245 489h1v1h-1zM250 472h1v1h-1zM248 484h1v1h-1zM259 464h1v1h-1zM246 497h1v1h-1zM253 479h1v1h-1zM256 479h1v1h-1zM251 486h1v1h-1z"/>
<path fill="#1a1a1a" d="M252 476h1v1h-1zM247 490h1v1h-1zM257 479h1v1h-1zM255 481h1v1h-1zM252 484h1v1h-1zM256 470h1v1h-1zM249 491h1v1h-1zM251 489h1v1h-1zM249 493h1v1h-1zM252 482h1v1h-1zM247 489h1v1h-1zM254 473h1v1h-1zM241 494h1v1h-1zM248 491h1v1h-1zM259 471h1v1h-1zM251 484h1v1h-1zM256 487h1v1h-1zM257 465h1v1h-1zM260 474h1v1h-1zM253 478h1v1h-1zM253 482h1v1h-1zM254 481h1v1h-1zM252 479h1v1h-1zM253 487h1v1h-1zM255 478h1v1h-1zM255 480h1v1h-1zM260 469h1v1h-1zM261 461h1v1h-1zM253 500h1v1h-1zM258 470h1v1h-1zM249 485h1v1h-1zM265 476h1v1h-1zM251 478h1v1h-1zM258 478h1v1h-1zM255 493h1v1h-1zM256 479h1v1h-1zM254 482h1v1h-1zM259 474h1v1h-1zM252 474h1v1h-1zM265 467h1v1h-1zM262 474h1v1h-1zM248 485h1v1h-1zM248 495h1v1h-1zM257 485h1v1h-1zM261 470h1v1h-1zM251 481h1v1h-1zM252 486h1v1h-1zM256 472h1v1h-1zM252 472h1v1h-1zM252 487h1v1h-1zM253 470h1v1h-1zM257 477h1v1h-1zM257 475h1v1h-1zM263 469h1v1h-1zM252 481h1v1h-1zM250 490h1v1h-1zM251 491h1v1h-1zM246 488h1v1h-1zM257 469h1v1h-1zM262 473h1v1h-1zM256 489h1v1h-1zM250 489h1v1h-1zM247 480h1v1h-1zM256 485h1v1h-1zM246 490h1v1h-1zM262 471h1v1h-1zM256 473h1v1h-1zM248 489h1v1h-1zM260 483h1v1h-1zM258 467h1v1h-1zM257 478h1v1h-1zM247 487h1v1h-1zM246 487h1v1h-1zM250 482h1v1h-1zM252 469h1v1h-1zM251 480h1v1h-1zM253 489h1v1h-1zM259 463h1v1h-1zM250 486h1v1h-1zM251 476h1v1h-1zM258 472h1v1h-1zM257 471h1v1h-1zM259 477h1v1h-1zM249 490h1v1h-1zM258 475h1v1h-1zM260 464h1v1h-1zM262 464h1v1h-1zM249 483h1v1h-1zM255 472h1v1h-1zM249 482h1v1h-1zM246 489h1v1h-1zM250 485h1v1h-1zM250 475h1v1h-1zM245 497h1v1h-1zM246 491h1v1h-1zM254 490h1v1h-1zM265 482h1v1h-1zM239 492h1v1h-1zM254 477h1v1h-1zM250 481h1v1h-1zM258 471h1v1h-1zM262 470h1v1h-1zM252 485h1v1h-1zM251 487h1v1h-1zM260 476h1v1h-1zM257 472h1v1h-1zM255 479h1v1h-1zM258 474h1v1h-1zM249 479h1v1h-1zM258 473h1v1h-1zM262 467h1v1h-1zM243 489h1v1h-1zM245 483h1v1h-1zM255 492h1v1h-1zM248 493h1v1h-1zM253 490h1v1h-1zM259 469h1v1h-1zM247 493h1v1h-1zM248 484h1v1h-1zM253 479h1v1h-1zM257 473h1v1h-1zM258 477h1v1h-1zM256 465h1v1h-1zM252 492h1v1h-1zM246 492h1v1h-1zM255 469h1v1h-1zM261 477h1v1h-1zM262 477h1v1h-1zM264 468h1v1h-1zM247 495h1v1h-1zM263 470h1v1h-1zM254 472h1v1h-1zM251 488h1v1h-1zM255 477h1v1h-1zM260 472h1v1h-1zM250 487h1v1h-1zM263 474h1v1h-1zM244 494h1v1h-1zM252 491h1v1h-1zM257 483h1v1h-1zM249 477h1v1h-1zM264 473h1v1h-1zM248 496h1v1h-1zM252 480h1v1h-1zM250 474h1v1h-1zM254 483h1v1h-1zM255 466h1v1h-1zM253 481h1v1h-1zM265 469h1v1h-1zM248 479h1v1h-1zM257 474h1v1h-1zM254 475h1v1h-1zM255 484h1v1h-1zM261 478h1v1h-1zM260 480h1v1h-1zM267 472h1v1h-1zM258 489h1v1h-1zM258 465h1v1h-1zM245 489h1v1h-1zM248 487h1v1h-1zM243 485h1v1h-1zM247 478h1v1h-1zM258 476h1v1h-1zM245 487h1v1h-1zM248 490h1v1h-1zM254 484h1v1h-1zM250 480h1v1h-1zM249 495h1v1h-1zM248 480h1v1h-1zM259 473h1v1h-1zM255 474h1v1h-1zM260 462h1v1h-1zM254 478h1v1h-1zM251 496h1v1h-1zM251 485h1v1h-1zM242 492h1v1h-1zM263 471h1v1h-1zM253 486h1v1h-1zM252 494h1v1h-1zM258 469h1v1h-1zM255 476h1v1h-1zM254 489h1v1h-1zM253 485h1v1h-1zM253 480h1v1h-1zM250 479h1v1h-1zM250 483h1v1h-1zM251 492h1v1h-1zM256 486h1v1h-1zM246 494h1v1h-1zM263 468h1v1h-1zM260 465h1v1h-1zM242 490h1v1h-1zM261 472h1v1h-1zM250 471h1v1h-1zM245 494h1v1h-1zM255 464h1v1h-1zM255 471h1v1h-1zM248 483h1v1h-1zM251 472h1v1h-1zM249 478h1v1h-1zM250 494h1v1h-1zM257 476h1v1h-1zM257 482h1v1h-1zM254 480h1v1h-1zM252 483h1v1h-1zM262 463h1v1h-1zM256 480h1v1h-1zM263 465h1v1h-1zM260 466h1v1h-1zM255 465h1v1h-1zM263 466h1v1h-1zM251 479h1v1h-1zM255 488h1v1h-1zM248 497h1v1h-1zM247 483h1v1h-1zM245 484h1v1h-1zM266 467h1v1h-1zM248 477h1v1h-1zM259 478h1v1h-1zM250 493h1v1h-1zM247 471h1v1h-1zM258 491h1v1h-1zM258 482h1v1h-1zM246 498h1v1h-1zM252 490h1v1h-1zM259 483h1v1h-1zM253 476h1v1h-1zM247 482h1v1h-1zM248 475h1v1h-1zM258 487h1v1h-1zM255 468h1v1h-1zM251 486h1v1h-1zM258 481h1v1h-1zM255 470h1v1h-1zM247 491h1v1h-1zM258 466h1v1h-1zM246 484h1v1h-1zM248 494h1v1h-1zM253 483h1v1h-1zM261 474h1v1h-1zM257 493h1v1h-1zM261 463h1v1h-1zM257 489h1v1h-1zM256 476h1v1h-1zM251 483h1v1h-1zM256 477h1v1h-1zM247 488h1v1h-1zM256 483h1v1h-1zM250 477h1v1h-1zM247 492h1v1h-1zM265 475h1v1h-1zM267 467h1v1h-1zM243 484h1v1h-1zM256 484h1v1h-1zM247 498h1v1h-1zM247 494h1v1h-1zM250 478h1v1h-1zM246 495h1v1h-1zM248 492h1v1h-1zM263 467h1v1h-1zM254 469h1v1h-1zM253 467h1v1h-1zM256 481h1v1h-1zM249 475h1v1h-1zM260 481h1v1h-1zM249 480h1v1h-1zM260 468h1v1h-1zM251 493h1v1h-1zM250 488h1v1h-1zM249 481h1v1h-1zM255 482h1v1h-1zM250 484h1v1h-1zM254 466h1v1h-1zM265 466h1v1h-1zM249 486h1v1h-1zM243 474h1v1h-1zM258 479h1v1h-1zM258 468h1v1h-1zM261 471h1v1h-1zM263 473h1v1h-1zM253 472h1v1h-1zM253 475h1v1h-1zM247 485h1v1h-1zM255 483h1v1h-1zM256 478h1v1h-1zM242 485h1v1h-1zM265 471h1v1h-1zM256 482h1v1h-1zM249 494h1v1h-1zM257 481h1v1h-1zM259 467h1v1h-1zM248 474h1v1h-1zM251 482h1v1h-1zM245 495h1v1h-1zM263 475h1v1h-1zM254 479h1v1h-1zM249 499h1v1h-1zM255 485h1v1h-1zM241 484h1v1h-1zM256 468h1v1h-1zM251 473h1v1h-1zM260 478h1v1h-1zM251 477h1v1h-1zM262 479h1v1h-1zM264 470h1v1h-1zM243 486h1v1h-1zM252 477h1v1h-1zM248 486h1v1h-1zM255 473h1v1h-1zM254 476h1v1h-1zM253 474h1v1h-1zM246 486h1v1h-1zM247 477h1v1h-1zM252 473h1v1h-1zM265 478h1v1h-1zM260 482h1v1h-1zM245 491h1v1h-1zM250 496h1v1h-1zM260 473h1v1h-1zM256 475h1v1h-1zM256 494h1v1h-1zM265 465h1v1h-1zM254 485h1v1h-1zM253 496h1v1h-1zM245 479h1v1h-1zM249 489h1v1h-1zM253 484h1v1h-1zM258 480h1v1h-1zM259 475h1v1h-1zM253 492h1v1h-1zM262 476h1v1h-1zM256 474h1v1h-1zM244 493h1v1h-1zM261 465h1v1h-1zM260 471h1v1h-1zM257 467h1v1h-1zM251 494h1v1h-1zM249 488h1v1h-1zM257 463h1v1h-1zM259 472h1v1h-1zM259 479h1v1h-1zM262 492h1v1h-1zM261 469h1v1h-1zM246 479h1v1h-1zM257 488h1v1h-1zM253 488h1v1h-1zM249 469h1v1h-1zM255 467h1v1h-1zM249 473h1v1h-1zM249 487h1v1h-1zM250 476h1v1h-1zM247 481h1v1h-1zM261 473h1v1h-1zM244 497h1v1h-1zM253 494h1v1h-1zM260 470h1v1h-1zM261 475h1v1h-1zM252 493h1v1h-1zM261 466h1v1h-1zM260 475h1v1h-1zM260 467h1v1h-1zM253 469h1v1h-1zM251 490h1v1h-1zM257 480h1v1h-1zM243 492h1v1h-1zM259 482h1v1h-1zM243 491h1v1h-1zM252 488h1v1h-1zM252 489h1v1h-1zM256 467h1v1h-1zM261 481h1v1h-1zM252 475h1v1h-1zM253 491h1v1h-1zM263 472h1v1h-1zM259 470h1v1h-1zM254 474h1v1h-1zM248 488h1v1h-1zM262 466h1v1h-1zM257 470h1v1h-1zM251 475h1v1h-1z"/>
<path fill="#555" d="M275 498h1v1h-1zM265 502h1v1h-1zM277 491h1v1h-1zM266 493h1v1h-1zM270 497h1v1h-1zM281 490h1v1h-1zM267 497h1v1h-1zM277 493h1v1h-1zM270 493h1v1h-1zM274 494h1v1h-1zM266 497h1v1h-1zM269 497h1v1h-1zM277 497h1v1h-1zM285 491h1v1h-1zM276 498h1v1h-1zM266 498h1v1h-1zM273 501h1v1h-1zM275 491h1v1h-1zM257 502h1v1h-1zM262 496h1v1h-1zM263 498h1v1h-1zM268 502h1v1h-1zM270 498h1v1h-1zM260 503h1v1h-1zM264 498h1v1h-1zM270 499h1v1h-1zM269 499h1v1h-1zM281 497h1v1h-1zM273 494h1v1h-1zM283 490h1v1h-1zM275 492h1v1h-1zM263 499h1v1h-1zM276 491h1v1h-1zM268 494h1v1h-1zM264 499h1v1h-1zM276 494h1v1h-1zM276 496h1v1h-1zM268 495h1v1h-1zM271 495h1v1h-1zM266 494h1v1h-1zM281 495h1v1h-1zM286 491h1v1h-1zM275 496h1v1h-1zM256 500h1v1h-1zM280 494h1v1h-1zM277 495h1v1h-1zM261 503h1v1h-1zM266 496h1v1h-1zM274 497h1v1h-1zM273 497h1v1h-1zM272 493h1v1h-1zM285 494h1v1h-1zM264 497h1v1h-1zM263 500h1v1h-1zM266 491h1v1h-1zM283 493h1v1h-1zM272 499h1v1h-1zM271 498h1v1h-1zM267 500h1v1h-1zM265 504h1v1h-1zM270 495h1v1h-1zM262 504h1v1h-1zM268 498h1v1h-1zM279 500h1v1h-1zM265 493h1v1h-1zM266 492h1v1h-1zM261 494h1v1h-1zM272 491h1v1h-1zM274 493h1v1h-1zM262 498h1v1h-1zM262 497h1v1h-1zM259 498h1v1h-1zM275 493h1v1h-1zM268 499h1v1h-1zM275 495h1v1h-1zM269 494h1v1h-1zM262 500h1v1h-1zM278 497h1v1h-1zM272 496h1v1h-1zM272 492h1v1h-1zM264 503h1v1h-1zM262 499h1v1h-1zM259 501h1v1h-1zM274 495h1v1h-1zM265 501h1v1h-1zM267 494h1v1h-1zM264 500h1v1h-1zM267 496h1v1h-1zM272 497h1v1h-1zM279 494h1v1h-1zM264 502h1v1h-1zM284 492h1v1h-1zM268 493h1v1h-1zM276 489h1v1h-1zM267 499h1v1h-1zM278 487h1v1h-1zM268 503h1v1h-1zM274 490h1v1h-1zM264 494h1v1h-1zM273 493h1v1h-1zM273 486h1v1h-1zM260 501h1v1h-1zM262 502h1v1h-1zM270 496h1v1h-1zM258 496h1v1h-1zM275 497h1v1h-1zM277 488h1v1h-1zM264 492h1v1h-1zM274 501h1v1h-1zM269 495h1v1h-1zM273 499h1v1h-1zM259 499h1v1h-1zM280 492h1v1h-1zM278 498h1v1h-1zM272 498h1v1h-1zM272 495h1v1h-1zM259 502h1v1h-1zM280 493h1v1h-1zM278 491h1v1h-1zM272 503h1v1h-1zM275 494h1v1h-1zM274 491h1v1h-1zM271 500h1v1h-1zM276 492h1v1h-1zM276 495h1v1h-1zM266 499h1v1h-1zM261 499h1v1h-1zM267 495h1v1h-1zM262 505h1v1h-1zM269 498h1v1h-1zM282 491h1v1h-1zM277 500h1v1h-1zM276 493h1v1h-1zM265 497h1v1h-1zM281 502h1v1h-1zM278 492h1v1h-1zM280 497h1v1h-1zM266 501h1v1h-1zM268 497h1v1h-1zM278 494h1v1h-1zM270 492h1v1h-1zM275 489h1v1h-1zM280 489h1v1h-1zM284 496h1v1h-1zM273 495h1v1h-1zM266 502h1v1h-1zM273 492h1v1h-1zM268 496h1v1h-1zM282 493h1v1h-1zM271 493h1v1h-1zM288 491h1v1h-1zM280 495h1v1h-1zM285 495h1v1h-1zM286 490h1v1h-1zM263 497h1v1h-1zM274 492h1v1h-1zM278 496h1v1h-1zM277 492h1v1h-1zM258 500h1v1h-1z"/>
<path fill="#000" d="M271 497h1v1h-1zM269 499h1v1h-1zM265 499h1v1h-1zM270 494h1v1h-1zM272 498h1v1h-1zM268 495h1v1h-1zM271 495h1v1h-1zM270 499h1v1h-1zM274 497h1v1h-1zM260 498h1v1h-1zM266 497h1v1h-1zM267 497h1v1h-1zM275 497h1v1h-1zM270 496h1v1h-1zM278 491h1v1h-1zM274 496h1v1h-1zM270 497h1v1h-1zM264 501h1v1h-1zM270 493h1v1h-1zM276 493h1v1h-1zM273 496h1v1h-1zM271 498h1v1h-1zM266 498h1v1h-1zM280 494h1v1h-1zM272 493h1v1h-1zM265 497h1v1h-1zM270 495h1v1h-1zM273 497h1v1h-1zM266 500h1v1h-1zM271 493h1v1h-1zM271 496h1v1h-1zM269 497h1v1h-1zM270 500h1v1h-1zM264 498h1v1h-1zM274 495h1v1h-1zM272 496h1v1h-1zM272 492h1v1h-1zM261 496h1v1h-1zM276 492h1v1h-1zM271 499h1v1h-1zM262 497h1v1h-1zM275 492h1v1h-1zM269 496h1v1h-1zM269 498h1v1h-1zM268 496h1v1h-1zM274 493h1v1h-1zM269 495h1v1h-1zM267 498h1v1h-1zM273 498h1v1h-1zM264 500h1v1h-1zM267 499h1v1h-1zM274 498h1v1h-1zM272 494h1v1h-1zM269 493h1v1h-1zM275 494h1v1h-1zM268 497h1v1h-1zM275 495h1v1h-1zM263 502h1v1h-1zM276 495h1v1h-1zM273 494h1v1h-1zM276 496h1v1h-1zM277 493h1v1h-1zM268 498h1v1h-1zM265 498h1v1h-1zM267 495h1v1h-1zM279 492h1v1h-1zM267 501h1v1h-1zM267 492h1v1h-1zM277 497h1v1h-1zM268 493h1v1h-1zM264 495h1v1h-1zM269 501h1v1h-1zM273 495h1v1h-1zM271 492h1v1h-1zM277 495h1v1h-1zM273 493h1v1h-1zM267 494h1v1h-1zM261 501h1v1h-1zM271 491h1v1h-1zM272 495h1v1h-1zM262 500h1v1h-1zM278 495h1v1h-1zM267 496h1v1h-1zM283 492h1v1h-1zM269 500h1v1h-1zM263 497h1v1h-1zM266 494h1v1h-1zM277 492h1v1h-1zM277 498h1v1h-1zM265 496h1v1h-1zM264 499h1v1h-1zM266 499h1v1h-1zM268 499h1v1h-1zM274 492h1v1h-1zM268 494h1v1h-1zM281 494h1v1h-1zM272 497h1v1h-1zM260 497h1v1h-1zM278 492h1v1h-1zM271 494h1v1h-1zM275 493h1v1h-1zM266 496h1v1h-1zM268 492h1v1h-1zM264 497h1v1h-1zM258 500h1v1h-1zM259 503h1v1h-1zM274 494h1v1h-1zM266 501h1v1h-1zM276 494h1v1h-1zM269 494h1v1h-1zM265 501h1v1h-1zM263 496h1v1h-1zM281 493h1v1h-1zM262 498h1v1h-1zM279 496h1v1h-1zM265 495h1v1h-1zM279 490h1v1h-1zM278 494h1v1h-1zM279 495h1v1h-1zM270 498h1v1h-1zM266 495h1v1h-1zM263 500h1v1h-1zM268 500h1v1h-1zM277 491h1v1h-1zM263 501h1v1h-1zM283 490h1v1h-1zM275 496h1v1h-1zM278 496h1v1h-1zM278 493h1v1h-1z"/>
<line x1="42.922" y1="408.7" x2="114.2" y2="408.7" stroke="#222" stroke-width="2.3" stroke-dasharray="0.9 1.872"/>
<line x1="39.699999999999996" y1="405.02599999999995" x2="39.699999999999996" y2="340.4" stroke="#222" stroke-width="2.3" stroke-dasharray="0.9 1.724"/>
<rect x="40.9" y="340.4" width="73.30000000000001" height="67.10000000000002" fill="none" stroke="#222" stroke-width="1.1"/>
<line x1="54.46000000000001" y1="407.5" x2="54.46000000000001" y2="411.7" stroke="#222" stroke-width="0.9"/>
<text x="54.46000000000001" y="417.3" font-size="4.2" text-anchor="middle" font-weight="normal" fill="#111">50</text>
<line x1="68.32000000000001" y1="407.5" x2="68.32000000000001" y2="411.7" stroke="#222" stroke-width="0.9"/>
<text x="68.32000000000001" y="417.3" font-size="4.2" text-anchor="middle" font-weight="normal" fill="#111">100</text>
<line x1="82.18" y1="407.5" x2="82.18" y2="411.7" stroke="#222" stroke-width="0.9"/>
<text x="82.18" y="417.3" font-size="4.2" text-anchor="middle" font-weight="normal" fill="#111">150</text>
<line x1="96.04000000000002" y1="407.5" x2="96.04000000000002" y2="411.7" stroke="#222" stroke-width="0.9"/>
<text x="96.04000000000002" y="417.3" font-size="4.2" text-anchor="middle" font-weight="normal" fill="#111">200</text>
<line x1="109.9" y1="407.5" x2="109.9" y2="411.7" stroke="#222" stroke-width="0.9"/>
<text x="109.9" y="417.3" font-size="4.2" text-anchor="middle" font-weight="normal" fill="#111">250</text>
<text x="114.7" y="421.7" font-size="4.3" text-anchor="end" font-weight="normal" fill="#111">(x 1,000)</text>
<line x1="36.699999999999996" y1="394.08" x2="40.9" y2="394.08" stroke="#222" stroke-width="0.9"/>
<text x="36.699999999999996" y="394.08" font-size="4.0" text-anchor="middle" font-weight="normal" fill="#111" transform="rotate(-90 36.699999999999996 394.08)">50</text>
<line x1="36.699999999999996" y1="380.96" x2="40.9" y2="380.96" stroke="#222" stroke-width="0.9"/>
<text x="36.699999999999996" y="380.96" font-size="4.0" text-anchor="middle" font-weight="normal" fill="#111" transform="rotate(-90 36.699999999999996 380.96)">100</text>
<line x1="36.699999999999996" y1="367.84" x2="40.9" y2="367.84" stroke="#222" stroke-width="0.9"/>
<text x="36.699999999999996" y="367.84" font-size="4.0" text-anchor="middle" font-weight="normal" fill="#111" transform="rotate(-90 36.699999999999996 367.84)">150</text>
<line x1="36.699999999999996" y1="354.71999999999997" x2="40.9" y2="354.71999999999997" stroke="#222" stroke-width="0.9"/>
<text x="36.699999999999996" y="354.71999999999997" font-size="4.0" text-anchor="middle" font-weight="normal" fill="#111" transform="rotate(-90 36.699999999999996 354.71999999999997)">200</text>
<line x1="36.699999999999996" y1="341.59999999999997" x2="40.9" y2="341.59999999999997" stroke="#222" stroke-width="0.9"/>
<text x="36.699999999999996" y="341.59999999999997" font-size="4.0" text-anchor="middle" font-weight="normal" fill="#111" transform="rotate(-90 36.699999999999996 341.59999999999997)">250</text>
<text x="30.4" y="340.7" font-size="4.3" text-anchor="end" font-weight="normal" fill="#111" transform="rotate(-90 30.4 340.7)">(x 1,000)</text>
<line x1="137.74599999999998" y1="408.8" x2="209.6" y2="408.8" stroke="#222" stroke-width="2.3" stroke-dasharray="0.9 1.896"/>
<line x1="134.5" y1="405.118" x2="134.5" y2="340.3" stroke="#222" stroke-width="2.3" stroke-dasharray="0.9 1.732"/>
<rect x="135.7" y="340.3" width="73.9" height="67.30000000000001" fill="none" stroke="#222" stroke-width="1.1"/>
<line x1="149.37999999999997" y1="407.6" x2="149.37999999999997" y2="411.8" stroke="#222" stroke-width="0.9"/>
<text x="149.37999999999997" y="417.40000000000003" font-size="4.2" text-anchor="middle" font-weight="normal" fill="#111">50</text>
<line x1="163.35999999999999" y1="407.6" x2="163.35999999999999" y2="411.8" stroke="#222" stroke-width="0.9"/>
<text x="163.35999999999999" y="417.40000000000003" font-size="4.2" text-anchor="middle" font-weight="normal" fill="#111">100</text>
<line x1="177.33999999999997" y1="407.6" x2="177.33999999999997" y2="411.8" stroke="#222" stroke-width="0.9"/>
<text x="177.33999999999997" y="417.40000000000003" font-size="4.2" text-anchor="middle" font-weight="normal" fill="#111">150</text>
<line x1="191.32" y1="407.6" x2="191.32" y2="411.8" stroke="#222" stroke-width="0.9"/>
<text x="191.32" y="417.40000000000003" font-size="4.2" text-anchor="middle" font-weight="normal" fill="#111">200</text>
<line x1="205.29999999999998" y1="407.6" x2="205.29999999999998" y2="411.8" stroke="#222" stroke-width="0.9"/>
<text x="205.29999999999998" y="417.40000000000003" font-size="4.2" text-anchor="middle" font-weight="normal" fill="#111">250</text>
<text x="210.1" y="421.8" font-size="4.3" text-anchor="end" font-weight="normal" fill="#111">(x 1,000)</text>
<line x1="131.5" y1="394.14" x2="135.7" y2="394.14" stroke="#222" stroke-width="0.9"/>
<text x="131.5" y="394.14" font-size="4.0" text-anchor="middle" font-weight="normal" fill="#111" transform="rotate(-90 131.5 394.14)">50</text>
<line x1="131.5" y1="380.98" x2="135.7" y2="380.98" stroke="#222" stroke-width="0.9"/>
<text x="131.5" y="380.98" font-size="4.0" text-anchor="middle" font-weight="normal" fill="#111" transform="rotate(-90 131.5 380.98)">100</text>
<line x1="131.5" y1="367.82" x2="135.7" y2="367.82" stroke="#222" stroke-width="0.9"/>
<text x="131.5" y="367.82" font-size="4.0" text-anchor="middle" font-weight="normal" fill="#111" transform="rotate(-90 131.5 367.82)">150</text>
<line x1="131.5" y1="354.66" x2="135.7" y2="354.66" stroke="#222" stroke-width="0.9"/>
<text x="131.5" y="354.66" font-size="4.0" text-anchor="middle" font-weight="normal" fill="#111" transform="rotate(-90 131.5 354.66)">200</text>
<line x1="131.5" y1="341.5" x2="135.7" y2="341.5" stroke="#222" stroke-width="0.9"/>
<text x="131.5" y="341.5" font-size="4.0" text-anchor="middle" font-weight="normal" fill="#111" transform="rotate(-90 131.5 341.5)">250</text>
<text x="125.19999999999999" y="340.6" font-size="4.3" text-anchor="end" font-weight="normal" fill="#111" transform="rotate(-90 125.19999999999999 340.6)">(x 1,000)</text>
<line x1="232.714" y1="408.2" x2="303.8" y2="408.2" stroke="#222" stroke-width="2.3" stroke-dasharray="0.9 1.864"/>
<line x1="229.5" y1="404.558" x2="229.5" y2="340.7" stroke="#222" stroke-width="2.3" stroke-dasharray="0.9 1.692"/>
<rect x="230.7" y="340.7" width="73.10000000000002" height="66.30000000000001" fill="none" stroke="#222" stroke-width="1.1"/>
<line x1="244.21999999999997" y1="407.0" x2="244.21999999999997" y2="411.2" stroke="#222" stroke-width="0.9"/>
<text x="244.21999999999997" y="416.8" font-size="4.2" text-anchor="middle" font-weight="normal" fill="#111">50</text>
<line x1="258.03999999999996" y1="407.0" x2="258.03999999999996" y2="411.2" stroke="#222" stroke-width="0.9"/>
<text x="258.03999999999996" y="416.8" font-size="4.2" text-anchor="middle" font-weight="normal" fill="#111">100</text>
<line x1="271.86" y1="407.0" x2="271.86" y2="411.2" stroke="#222" stroke-width="0.9"/>
<text x="271.86" y="416.8" font-size="4.2" text-anchor="middle" font-weight="normal" fill="#111">150</text>
<line x1="285.68" y1="407.0" x2="285.68" y2="411.2" stroke="#222" stroke-width="0.9"/>
<text x="285.68" y="416.8" font-size="4.2" text-anchor="middle" font-weight="normal" fill="#111">200</text>
<line x1="299.5" y1="407.0" x2="299.5" y2="411.2" stroke="#222" stroke-width="0.9"/>
<text x="299.5" y="416.8" font-size="4.2" text-anchor="middle" font-weight="normal" fill="#111">250</text>
<text x="304.3" y="421.2" font-size="4.3" text-anchor="end" font-weight="normal" fill="#111">(x 1,000)</text>
<line x1="226.5" y1="393.74" x2="230.7" y2="393.74" stroke="#222" stroke-width="0.9"/>
<text x="226.5" y="393.74" font-size="4.0" text-anchor="middle" font-weight="normal" fill="#111" transform="rotate(-90 226.5 393.74)">50</text>
<line x1="226.5" y1="380.78" x2="230.7" y2="380.78" stroke="#222" stroke-width="0.9"/>
<text x="226.5" y="380.78" font-size="4.0" text-anchor="middle" font-weight="normal" fill="#111" transform="rotate(-90 226.5 380.78)">100</text>
<line x1="226.5" y1="367.82" x2="230.7" y2="367.82" stroke="#222" stroke-width="0.9"/>
<text x="226.5" y="367.82" font-size="4.0" text-anchor="middle" font-weight="normal" fill="#111" transform="rotate(-90 226.5 367.82)">150</text>
<line x1="226.5" y1="354.85999999999996" x2="230.7" y2="354.85999999999996" stroke="#222" stroke-width="0.9"/>
<text x="226.5" y="354.85999999999996" font-size="4.0" text-anchor="middle" font-weight="normal" fill="#111" transform="rotate(-90 226.5 354.85999999999996)">200</text>
<line x1="226.5" y1="341.9" x2="230.7" y2="341.9" stroke="#222" stroke-width="0.9"/>
<text x="226.5" y="341.9" font-size="4.0" text-anchor="middle" font-weight="normal" fill="#111" transform="rotate(-90 226.5 341.9)">250</text>
<text x="220.2" y="341.0" font-size="4.3" text-anchor="end" font-weight="normal" fill="#111" transform="rotate(-90 220.2 341.0)">(x 1,000)</text>
<line x1="42.426" y1="506.5" x2="113.8" y2="506.5" stroke="#222" stroke-width="2.3" stroke-dasharray="0.9 1.876"/>
<line x1="39.199999999999996" y1="502.834" x2="39.199999999999996" y2="438.4" stroke="#222" stroke-width="2.3" stroke-dasharray="0.9 1.716"/>
<rect x="40.4" y="438.4" width="73.4" height="66.90000000000003" fill="none" stroke="#222" stroke-width="1.1"/>
<line x1="53.980000000000004" y1="505.3" x2="53.980000000000004" y2="509.5" stroke="#222" stroke-width="0.9"/>
<text x="53.980000000000004" y="515.1" font-size="4.2" text-anchor="middle" font-weight="normal" fill="#111">50</text>
<line x1="67.86" y1="505.3" x2="67.86" y2="509.5" stroke="#222" stroke-width="0.9"/>
<text x="67.86" y="515.1" font-size="4.2" text-anchor="middle" font-weight="normal" fill="#111">100</text>
<line x1="81.74000000000001" y1="505.3" x2="81.74000000000001" y2="509.5" stroke="#222" stroke-width="0.9"/>
<text x="81.74000000000001" y="515.1" font-size="4.2" text-anchor="middle" font-weight="normal" fill="#111">150</text>
<line x1="95.62" y1="505.3" x2="95.62" y2="509.5" stroke="#222" stroke-width="0.9"/>
<text x="95.62" y="515.1" font-size="4.2" text-anchor="middle" font-weight="normal" fill="#111">200</text>
<line x1="109.5" y1="505.3" x2="109.5" y2="509.5" stroke="#222" stroke-width="0.9"/>
<text x="109.5" y="515.1" font-size="4.2" text-anchor="middle" font-weight="normal" fill="#111">250</text>
<text x="114.3" y="519.5" font-size="4.3" text-anchor="end" font-weight="normal" fill="#111">(x 1,000)</text>
<line x1="36.199999999999996" y1="491.92" x2="40.4" y2="491.92" stroke="#222" stroke-width="0.9"/>
<text x="36.199999999999996" y="491.92" font-size="4.0" text-anchor="middle" font-weight="normal" fill="#111" transform="rotate(-90 36.199999999999996 491.92)">50</text>
<line x1="36.199999999999996" y1="478.84" x2="40.4" y2="478.84" stroke="#222" stroke-width="0.9"/>
<text x="36.199999999999996" y="478.84" font-size="4.0" text-anchor="middle" font-weight="normal" fill="#111" transform="rotate(-90 36.199999999999996 478.84)">100</text>
<line x1="36.199999999999996" y1="465.76" x2="40.4" y2="465.76" stroke="#222" stroke-width="0.9"/>
<text x="36.199999999999996" y="465.76" font-size="4.0" text-anchor="middle" font-weight="normal" fill="#111" transform="rotate(-90 36.199999999999996 465.76)">150</text>
<line x1="36.199999999999996" y1="452.67999999999995" x2="40.4" y2="452.67999999999995" stroke="#222" stroke-width="0.9"/>
<text x="36.199999999999996" y="452.67999999999995" font-size="4.0" text-anchor="middle" font-weight="normal" fill="#111" transform="rotate(-90 36.199999999999996 452.67999999999995)">200</text>
<line x1="36.199999999999996" y1="439.59999999999997" x2="40.4" y2="439.59999999999997" stroke="#222" stroke-width="0.9"/>
<text x="36.199999999999996" y="439.59999999999997" font-size="4.0" text-anchor="middle" font-weight="normal" fill="#111" transform="rotate(-90 36.199999999999996 439.59999999999997)">250</text>
<text x="29.9" y="438.7" font-size="4.3" text-anchor="end" font-weight="normal" fill="#111" transform="rotate(-90 29.9 438.7)">(x 1,000)</text>
<line x1="138.72199999999998" y1="505.8" x2="210.0" y2="505.8" stroke="#222" stroke-width="2.3" stroke-dasharray="0.9 1.872"/>
<line x1="135.5" y1="502.174" x2="135.5" y2="438.7" stroke="#222" stroke-width="2.3" stroke-dasharray="0.9 1.676"/>
<rect x="136.7" y="438.7" width="73.30000000000001" height="65.90000000000003" fill="none" stroke="#222" stroke-width="1.1"/>
<line x1="150.26" y1="504.6" x2="150.26" y2="508.8" stroke="#222" stroke-width="0.9"/>
<text x="150.26" y="514.4" font-size="4.2" text-anchor="middle" font-weight="normal" fill="#111">50</text>
<line x1="164.11999999999998" y1="504.6" x2="164.11999999999998" y2="508.8" stroke="#222" stroke-width="0.9"/>
<text x="164.11999999999998" y="514.4" font-size="4.2" text-anchor="middle" font-weight="normal" fill="#111">100</text>
<line x1="177.98" y1="504.6" x2="177.98" y2="508.8" stroke="#222" stroke-width="0.9"/>
<text x="177.98" y="514.4" font-size="4.2" text-anchor="middle" font-weight="normal" fill="#111">150</text>
<line x1="191.83999999999997" y1="504.6" x2="191.83999999999997" y2="508.8" stroke="#222" stroke-width="0.9"/>
<text x="191.83999999999997" y="514.4" font-size="4.2" text-anchor="middle" font-weight="normal" fill="#111">200</text>
<line x1="205.7" y1="504.6" x2="205.7" y2="508.8" stroke="#222" stroke-width="0.9"/>
<text x="205.7" y="514.4" font-size="4.2" text-anchor="middle" font-weight="normal" fill="#111">250</text>
<text x="210.5" y="518.8000000000001" font-size="4.3" text-anchor="end" font-weight="normal" fill="#111">(x 1,000)</text>
<line x1="132.5" y1="491.42" x2="136.7" y2="491.42" stroke="#222" stroke-width="0.9"/>
<text x="132.5" y="491.42" font-size="4.0" text-anchor="middle" font-weight="normal" fill="#111" transform="rotate(-90 132.5 491.42)">50</text>
<line x1="132.5" y1="478.54" x2="136.7" y2="478.54" stroke="#222" stroke-width="0.9"/>
<text x="132.5" y="478.54" font-size="4.0" text-anchor="middle" font-weight="normal" fill="#111" transform="rotate(-90 132.5 478.54)">100</text>
<line x1="132.5" y1="465.65999999999997" x2="136.7" y2="465.65999999999997" stroke="#222" stroke-width="0.9"/>
<text x="132.5" y="465.65999999999997" font-size="4.0" text-anchor="middle" font-weight="normal" fill="#111" transform="rotate(-90 132.5 465.65999999999997)">150</text>
<line x1="132.5" y1="452.78" x2="136.7" y2="452.78" stroke="#222" stroke-width="0.9"/>
<text x="132.5" y="452.78" font-size="4.0" text-anchor="middle" font-weight="normal" fill="#111" transform="rotate(-90 132.5 452.78)">200</text>
<line x1="132.5" y1="439.9" x2="136.7" y2="439.9" stroke="#222" stroke-width="0.9"/>
<text x="132.5" y="439.9" font-size="4.0" text-anchor="middle" font-weight="normal" fill="#111" transform="rotate(-90 132.5 439.9)">250</text>
<text x="126.19999999999999" y="439.0" font-size="4.3" text-anchor="end" font-weight="normal" fill="#111" transform="rotate(-90 126.19999999999999 439.0)">(x 1,000)</text>
<line x1="232.842" y1="507.4" x2="304.6" y2="507.4" stroke="#222" stroke-width="2.3" stroke-dasharray="0.9 1.892"/>
<line x1="229.60000000000002" y1="503.77399999999994" x2="229.60000000000002" y2="440.3" stroke="#222" stroke-width="2.3" stroke-dasharray="0.9 1.676"/>
<rect x="230.8" y="440.3" width="73.80000000000001" height="65.89999999999998" fill="none" stroke="#222" stroke-width="1.1"/>
<line x1="244.46" y1="506.2" x2="244.46" y2="510.4" stroke="#222" stroke-width="0.9"/>
<text x="244.46" y="516.0" font-size="4.2" text-anchor="middle" font-weight="normal" fill="#111">50</text>
<line x1="258.42" y1="506.2" x2="258.42" y2="510.4" stroke="#222" stroke-width="0.9"/>
<text x="258.42" y="516.0" font-size="4.2" text-anchor="middle" font-weight="normal" fill="#111">100</text>
<line x1="272.38" y1="506.2" x2="272.38" y2="510.4" stroke="#222" stroke-width="0.9"/>
<text x="272.38" y="516.0" font-size="4.2" text-anchor="middle" font-weight="normal" fill="#111">150</text>
<line x1="286.34000000000003" y1="506.2" x2="286.34000000000003" y2="510.4" stroke="#222" stroke-width="0.9"/>
<text x="286.34000000000003" y="516.0" font-size="4.2" text-anchor="middle" font-weight="normal" fill="#111">200</text>
<line x1="300.3" y1="506.2" x2="300.3" y2="510.4" stroke="#222" stroke-width="0.9"/>
<text x="300.3" y="516.0" font-size="4.2" text-anchor="middle" font-weight="normal" fill="#111">250</text>
<text x="305.1" y="520.4" font-size="4.3" text-anchor="end" font-weight="normal" fill="#111">(x 1,000)</text>
<line x1="226.60000000000002" y1="493.02" x2="230.8" y2="493.02" stroke="#222" stroke-width="0.9"/>
<text x="226.60000000000002" y="493.02" font-size="4.0" text-anchor="middle" font-weight="normal" fill="#111" transform="rotate(-90 226.60000000000002 493.02)">50</text>
<line x1="226.60000000000002" y1="480.14" x2="230.8" y2="480.14" stroke="#222" stroke-width="0.9"/>
<text x="226.60000000000002" y="480.14" font-size="4.0" text-anchor="middle" font-weight="normal" fill="#111" transform="rotate(-90 226.60000000000002 480.14)">100</text>
<line x1="226.60000000000002" y1="467.26" x2="230.8" y2="467.26" stroke="#222" stroke-width="0.9"/>
<text x="226.60000000000002" y="467.26" font-size="4.0" text-anchor="middle" font-weight="normal" fill="#111" transform="rotate(-90 226.60000000000002 467.26)">150</text>
<line x1="226.60000000000002" y1="454.38" x2="230.8" y2="454.38" stroke="#222" stroke-width="0.9"/>
<text x="226.60000000000002" y="454.38" font-size="4.0" text-anchor="middle" font-weight="normal" fill="#111" transform="rotate(-90 226.60000000000002 454.38)">200</text>
<line x1="226.60000000000002" y1="441.5" x2="230.8" y2="441.5" stroke="#222" stroke-width="0.9"/>
<text x="226.60000000000002" y="441.5" font-size="4.0" text-anchor="middle" font-weight="normal" fill="#111" transform="rotate(-90 226.60000000000002 441.5)">250</text>
<text x="220.3" y="440.6" font-size="4.3" text-anchor="end" font-weight="normal" fill="#111" transform="rotate(-90 220.3 440.6)">(x 1,000)</text>
<path d="M255.6 353.5 L276.4 353.5 L275.7 358.2 L256.9 401.2 L238.7 399.9 L244.8 371 Z" fill="none" stroke="#111" stroke-width="1"/>
<path d="M286.5 341.2 L256.2 403.3 L257 406.8" fill="none" stroke="#111" stroke-width="1.1"/>
<text x="244.2" y="357.2" font-size="6.3" text-anchor="start" font-weight="normal" fill="#222">R1</text>
<text x="268.2" y="384.2" font-size="6.3" text-anchor="start" font-weight="normal" fill="#222">R2</text>
<path d="M255.6 452.1 L277.1 452.1 L276.5 456 L257.6 503.3 L241.4 503.3 L238.7 491.1 L245.5 472.3 Z" fill="none" stroke="#111" stroke-width="1"/>
<path d="M287.2 440.8 L258.9 504.6 L259.5 506" fill="none" stroke="#111" stroke-width="1.1"/>
<text x="244.3" y="456.9" font-size="6.3" text-anchor="start" font-weight="normal" fill="#222">R1</text>
<text x="267.8" y="483" font-size="6.3" text-anchor="start" font-weight="normal" fill="#222">R2</text>
<line x1="19.6" y1="399.6" x2="19.6" y2="445.2" stroke="#555" stroke-width="1.2"/>
<path d="M15.700000000000001 400.1 L19.6 392.8 L23.5 400.1Z" fill="#111"/>
<text x="13" y="423" font-size="7.8" text-anchor="middle" font-weight="normal" fill="#222" transform="rotate(-90 13 423)">SSC</text>
<line x1="58.7" y1="526.7" x2="289.2" y2="526.7" stroke="#444" stroke-width="1.2"/>
<path d="M288.7 522.9000000000001 L296.2 526.7 L288.7 530.5Z" fill="#111"/>
<text x="167.6" y="535" font-size="7.8" text-anchor="start" font-weight="normal" fill="#222" stroke="#222" stroke-width="0.12">FSC</text>
<rect x="372.9" y="339.0" width="121.70000000000005" height="67.19999999999999" fill="none" stroke="#777" stroke-width="0.9"/>
<line x1="419.8" y1="339.0" x2="419.8" y2="406.2" stroke="#444" stroke-width="0.9"/>
<line x1="372.9" y1="372.8" x2="419.8" y2="372.8" stroke="#444" stroke-width="0.9"/>
<line x1="372.9" y1="406.2" x2="494.6" y2="406.2" stroke="#333" stroke-width="1"/>
<line x1="372.9" y1="407.5" x2="494.6" y2="407.5" stroke="#666" stroke-width="1.6" stroke-dasharray="0.7 2.3"/>
<rect x="372.7" y="439.3" width="123.5" height="66.69999999999999" fill="none" stroke="#777" stroke-width="0.9"/>
<line x1="420.8" y1="439.3" x2="420.8" y2="506.0" stroke="#444" stroke-width="0.9"/>
<line x1="372.7" y1="470.2" x2="420.8" y2="470.2" stroke="#444" stroke-width="0.9"/>
<line x1="372.7" y1="506.0" x2="496.2" y2="506.0" stroke="#333" stroke-width="1"/>
<line x1="372.7" y1="507.3" x2="496.2" y2="507.3" stroke="#666" stroke-width="1.6" stroke-dasharray="0.7 2.3"/>
<text x="378.5" y="351.6" font-size="4.8" text-anchor="start" font-weight="bold" fill="#222">divided</text>
<text x="378.5" y="359.8" font-size="6.2" text-anchor="start" font-weight="normal" fill="#555">90%</text>
<text x="380" y="451.2" font-size="4.8" text-anchor="start" font-weight="bold" fill="#222">divided</text>
<text x="380" y="463" font-size="6.2" text-anchor="start" font-weight="normal" fill="#555">5%</text>
<text x="387.9" y="415.8" font-size="4.6" fill="#444" text-anchor="middle">10<tspan font-size="3" dy="-1.7">2</tspan></text>
<text x="418.9" y="415.8" font-size="4.6" fill="#444" text-anchor="middle">10<tspan font-size="3" dy="-1.7">3</tspan></text>
<text x="449.8" y="415.8" font-size="4.6" fill="#444" text-anchor="middle">10<tspan font-size="3" dy="-1.7">4</tspan></text>
<text x="480.6" y="415.8" font-size="4.6" fill="#444" text-anchor="middle">10<tspan font-size="3" dy="-1.7">5</tspan></text>
<text x="388.5" y="515.6" font-size="4.6" fill="#444" text-anchor="middle">10<tspan font-size="3" dy="-1.7">2</tspan></text>
<text x="419.5" y="515.6" font-size="4.6" fill="#444" text-anchor="middle">10<tspan font-size="3" dy="-1.7">3</tspan></text>
<text x="450.6" y="515.6" font-size="4.6" fill="#444" text-anchor="middle">10<tspan font-size="3" dy="-1.7">4</tspan></text>
<text x="482.7" y="515.6" font-size="4.6" fill="#444" text-anchor="middle">10<tspan font-size="3" dy="-1.7">5</tspan></text>
<path d="M380.0 406.2 L380.0 406.2 L380.6 400.6 L381.2 401.0 L381.8 398.5 L382.4 399.1 L383.0 402.5 L383.6 398.7 L384.2 399.0 L384.8 402.6 L385.4 401.1 L386.0 399.6 L386.6 397.9 L387.2 396.1 L387.8 394.1 L388.4 393.5 L389.0 396.4 L389.6 396.0 L390.2 395.4 L390.8 396.8 L391.4 395.6 L392.0 397.6 L392.6 394.3 L393.2 395.1 L393.8 392.4 L394.4 389.5 L395.0 389.5 L395.6 387.2 L396.2 388.8 L396.8 388.3 L397.4 384.3 L398.0 384.9 L398.6 383.3 L399.2 376.8 L399.8 372.4 L400.4 362.4 L401.0 356.5 L401.6 356.0 L402.2 351.1 L402.8 351.3 L403.4 345.5 L404.0 341.9 L404.6 340.6 L405.2 339.6 L405.8 342.9 L406.4 348.5 L407.0 351.5 L407.6 349.8 L408.2 346.1 L408.8 344.5 L409.4 348.9 L410.0 348.7 L410.6 352.6 L411.2 353.4 L411.8 362.8 L412.4 374.9 L413.0 377.7 L413.6 380.5 L414.2 384.0 L414.8 385.4 L415.4 388.2 L416.0 389.9 L416.6 396.3 L417.2 397.5 L417.8 397.0 L418.4 398.9 L419.0 395.7 L419.6 394.3 L420.2 396.6 L420.8 398.1 L421.4 394.5 L422.0 398.2 L422.6 395.7 L423.2 395.5 L423.8 395.4 L424.4 396.9 L425.0 399.0 L425.6 397.7 L426.2 399.1 L426.8 396.0 L427.4 396.2 L428.0 395.7 L428.6 398.7 L429.2 398.3 L429.8 395.4 L430.4 396.0 L431.0 395.8 L431.6 398.0 L432.2 395.3 L432.8 395.8 L433.4 397.6 L434.0 397.3 L434.6 400.3 L435.2 400.1 L435.8 399.5 L436.4 400.2 L437.0 400.6 L437.6 401.2 L438.2 402.0 L438.8 398.8 L439.4 401.8 L440.0 403.5 L440.6 405.8 L440.7 406.2 Z" fill="#222"/>
<path d="M373.5 506.0 L373.5 506.0 L374.1 505.7 L374.7 505.5 L375.3 505.2 L375.9 504.9 L376.5 504.9 L377.1 504.9 L377.7 504.9 L378.3 504.9 L378.9 504.9 L379.5 504.9 L380.1 504.9 L380.7 504.9 L381.3 504.8 L381.9 504.8 L382.5 504.8 L383.1 504.8 L383.7 504.8 L384.3 504.8 L384.9 504.8 L385.5 504.8 L386.1 504.8 L386.7 504.8 L387.3 504.8 L387.9 504.8 L388.5 504.8 L389.1 504.8 L389.7 504.8 L390.3 504.7 L390.9 504.7 L391.5 504.7 L392.1 504.7 L392.7 504.7 L393.3 504.7 L393.9 504.7 L394.5 504.7 L395.1 504.7 L395.7 504.7 L396.3 504.7 L396.9 504.7 L397.5 504.7 L398.1 504.7 L398.7 504.7 L399.3 504.7 L399.9 504.7 L400.5 504.8 L401.1 504.8 L401.7 504.8 L402.3 504.8 L402.9 504.8 L403.5 504.8 L404.1 504.8 L404.7 504.8 L405.3 504.8 L405.9 504.7 L406.5 504.7 L407.1 504.6 L407.7 504.6 L408.3 504.5 L408.9 504.5 L409.5 504.4 L410.1 504.4 L410.7 504.4 L411.3 504.4 L411.9 504.4 L412.5 504.4 L413.1 504.4 L413.7 504.4 L414.3 504.4 L414.9 504.4 L415.5 504.4 L416.1 504.4 L416.7 504.4 L417.3 504.4 L417.9 504.4 L418.5 504.4 L419.1 504.3 L419.7 504.3 L420.3 504.2 L420.9 504.1 L421.5 504.1 L422.1 504.0 L422.7 503.9 L423.3 503.6 L423.9 503.2 L424.5 502.8 L425.1 502.4 L425.7 502.0 L426.3 501.6 L426.9 501.2 L427.5 500.2 L428.1 498.7 L428.7 497.1 L429.3 495.6 L429.9 490.7 L430.5 485.2 L431.1 481.0 L431.7 478.2 L432.3 475.8 L432.9 475.0 L433.5 474.2 L434.1 473.4 L434.7 470.7 L435.3 466.2 L435.9 461.7 L436.5 457.2 L437.1 451.9 L437.7 446.3 L438.3 440.7 L438.9 444.7 L439.5 450.6 L440.1 456.5 L440.7 465.1 L441.3 473.7 L441.9 480.1 L442.5 484.2 L443.1 488.3 L443.7 492.4 L444.3 494.7 L444.9 497.1 L445.5 499.4 L446.1 501.3 L446.7 502.2 L447.3 503.1 L447.9 504.0 L448.5 504.9 L449.1 505.4 L449.7 505.5 L450.3 505.7 L450.9 505.8 L451.5 506.0 L451.6 506.0 Z" fill="#1a1a1a"/>
<line x1="359.4" y1="381.40000000000003" x2="359.4" y2="472" stroke="#555" stroke-width="1.2"/>
<path d="M355.5 381.90000000000003 L359.4 374.6 L363.29999999999995 381.90000000000003Z" fill="#111"/>
<text x="353.4" y="427" font-size="7.8" text-anchor="middle" font-weight="normal" fill="#222" stroke="#222" stroke-width="0.12" transform="rotate(-90 353.4 427)">Cell number</text>
<line x1="384.8" y1="526.7" x2="473.9" y2="526.7" stroke="#444" stroke-width="1.2"/>
<path d="M473.4 522.9000000000001 L480.9 526.7 L473.4 530.5Z" fill="#111"/>
<text x="423.2" y="535" font-size="7.8" text-anchor="start" font-weight="normal" fill="#222" stroke="#222" stroke-width="0.12">CFSE</text>
</g>
<path d="M89.40 16.10h1.55V21.60h-1.55Z M89.40 13.95h1.55v1.25h-1.55Z" fill="#000"/>
<path d="M150.10 17.10h1.55V22.60h-1.55Z M150.10 14.95h1.55v1.25h-1.55Z M153.20 17.10h1.55V22.60h-1.55Z M153.20 14.95h1.55v1.25h-1.55Z" fill="#000"/>
<path d="M89.50 71.00h1.55V76.50h-1.55Z M89.50 68.85h1.55v1.25h-1.55Z M92.60 71.00h1.55V76.50h-1.55Z M92.60 68.85h1.55v1.25h-1.55Z M95.70 71.00h1.55V76.50h-1.55Z M95.70 68.85h1.55v1.25h-1.55Z" fill="#000"/>
<path d="M149.10 70.80h1.55V76.30h-1.55Z M149.10 68.65h1.55v1.25h-1.55Z M152.20 70.80H153.85L154.90 74.20L155.95 70.80H157.60L155.75 76.30H154.05Z" fill="#000"/>
<path d="M311.30 20.70H312.95L314.00 24.10L315.05 20.70H316.70L314.85 26.20H313.15Z" fill="#000"/>
<path d="M372.60 21.10H374.25L375.30 24.50L376.35 21.10H378.00L376.15 26.60H374.45Z M379.55 21.10h1.55V26.60h-1.55Z M379.55 18.95h1.55v1.25h-1.55Z" fill="#000"/>
<path d="M436.50 21.10H438.15L439.20 24.50L440.25 21.10H441.90L440.05 26.60H438.35Z M443.45 21.10h1.55V26.60h-1.55Z M443.45 18.95h1.55v1.25h-1.55Z M446.55 21.10h1.55V26.60h-1.55Z M446.55 18.95h1.55v1.25h-1.55Z" fill="#000"/>
<path d="M499.30 20.40H500.95L502.00 23.80L503.05 20.40H504.70L502.85 25.90H501.15Z M506.25 20.40h1.55V25.90h-1.55Z M506.25 18.25h1.55v1.25h-1.55Z M509.35 20.40h1.55V25.90h-1.55Z M509.35 18.25h1.55v1.25h-1.55Z M512.45 20.40h1.55V25.90h-1.55Z M512.45 18.25h1.55v1.25h-1.55Z" fill="#000"/>
<path d="M309.00 70.90h1.55V76.40h-1.55Z M309.00 68.75h1.55v1.25h-1.55Z M312.10 70.90H313.85L314.55 72.45L315.25 70.90H317.00L315.55 73.65L317.00 76.40H315.25L314.55 74.85L313.85 76.40H312.10L313.55 73.65Z" fill="#000"/>
<path d="M374.00 70.80H375.75L376.45 72.35L377.15 70.80H378.90L377.45 73.55L378.90 76.30H377.15L376.45 74.75L375.75 76.30H374.00L375.45 73.55Z" fill="#000"/>
<path d="M437.00 70.90H438.75L439.45 72.45L440.15 70.90H441.90L440.45 73.65L441.90 76.40H440.15L439.45 74.85L438.75 76.40H437.00L438.45 73.65Z M443.45 70.90h1.55V76.40h-1.55Z M443.45 68.75h1.55v1.25h-1.55Z" fill="#000"/>
<path d="M501.20 70.90H502.95L503.65 72.45L504.35 70.90H506.10L504.65 73.65L506.10 76.40H504.35L503.65 74.85L502.95 76.40H501.20L502.65 73.65Z M507.65 70.90h1.55V76.40h-1.55Z M507.65 68.75h1.55v1.25h-1.55Z M510.75 70.90h1.55V76.40h-1.55Z M510.75 68.75h1.55v1.25h-1.55Z" fill="#000"/>
<path d="M47.90 166.80h1.55V172.30h-1.55Z M47.90 164.65h1.55v1.25h-1.55Z" fill="#000"/>
<path d="M320.00 165.50h1.55V171.00h-1.55Z M320.00 163.35h1.55v1.25h-1.55Z M323.10 165.50h1.55V171.00h-1.55Z M323.10 163.35h1.55v1.25h-1.55Z" fill="#000"/>
<path d="M111.00 346.90h1.55V352.40h-1.55Z M111.00 344.75h1.55v1.25h-1.55Z" fill="#000"/>
<path d="M200.40 346.70h1.55V352.20h-1.55Z M200.40 344.55h1.55v1.25h-1.55Z M203.50 346.70h1.55V352.20h-1.55Z M203.50 344.55h1.55v1.25h-1.55Z" fill="#000"/>
<path d="M291.20 347.20h1.55V352.70h-1.55Z M291.20 345.05h1.55v1.25h-1.55Z M294.30 347.20h1.55V352.70h-1.55Z M294.30 345.05h1.55v1.25h-1.55Z M297.40 347.20h1.55V352.70h-1.55Z M297.40 345.05h1.55v1.25h-1.55Z" fill="#000"/>
<path d="M106.20 442.70H107.85L108.90 446.10L109.95 442.70H111.60L109.75 448.20H108.05Z" fill="#000"/>
<path d="M199.20 444.10H200.85L201.90 447.50L202.95 444.10H204.60L202.75 449.60H201.05Z M206.15 444.10h1.55V449.60h-1.55Z M206.15 441.95h1.55v1.25h-1.55Z" fill="#000"/>
<path d="M291.20 444.70H292.85L293.90 448.10L294.95 444.70H296.60L294.75 450.20H293.05Z M298.15 444.70h1.55V450.20h-1.55Z M298.15 442.55h1.55v1.25h-1.55Z M301.25 444.70h1.55V450.20h-1.55Z M301.25 442.55h1.55v1.25h-1.55Z" fill="#000"/>
<path d="M483.20 346.50h1.55V352.00h-1.55Z M483.20 344.35h1.55v1.25h-1.55Z M486.30 346.50H487.95L489.00 349.90L490.05 346.50H491.70L489.85 352.00H488.15Z" fill="#000"/>
<path d="M480.00 443.70H481.65L482.70 447.10L483.75 443.70H485.40L483.55 449.20H481.85Z M486.95 443.70h1.55V449.20h-1.55Z M486.95 441.55h1.55v1.25h-1.55Z M490.05 443.70h1.55V449.20h-1.55Z M490.05 441.55h1.55v1.25h-1.55Z M493.15 443.70h1.55V449.20h-1.55Z M493.15 441.55h1.55v1.25h-1.55Z" fill="#000"/>
</svg></body></html>
